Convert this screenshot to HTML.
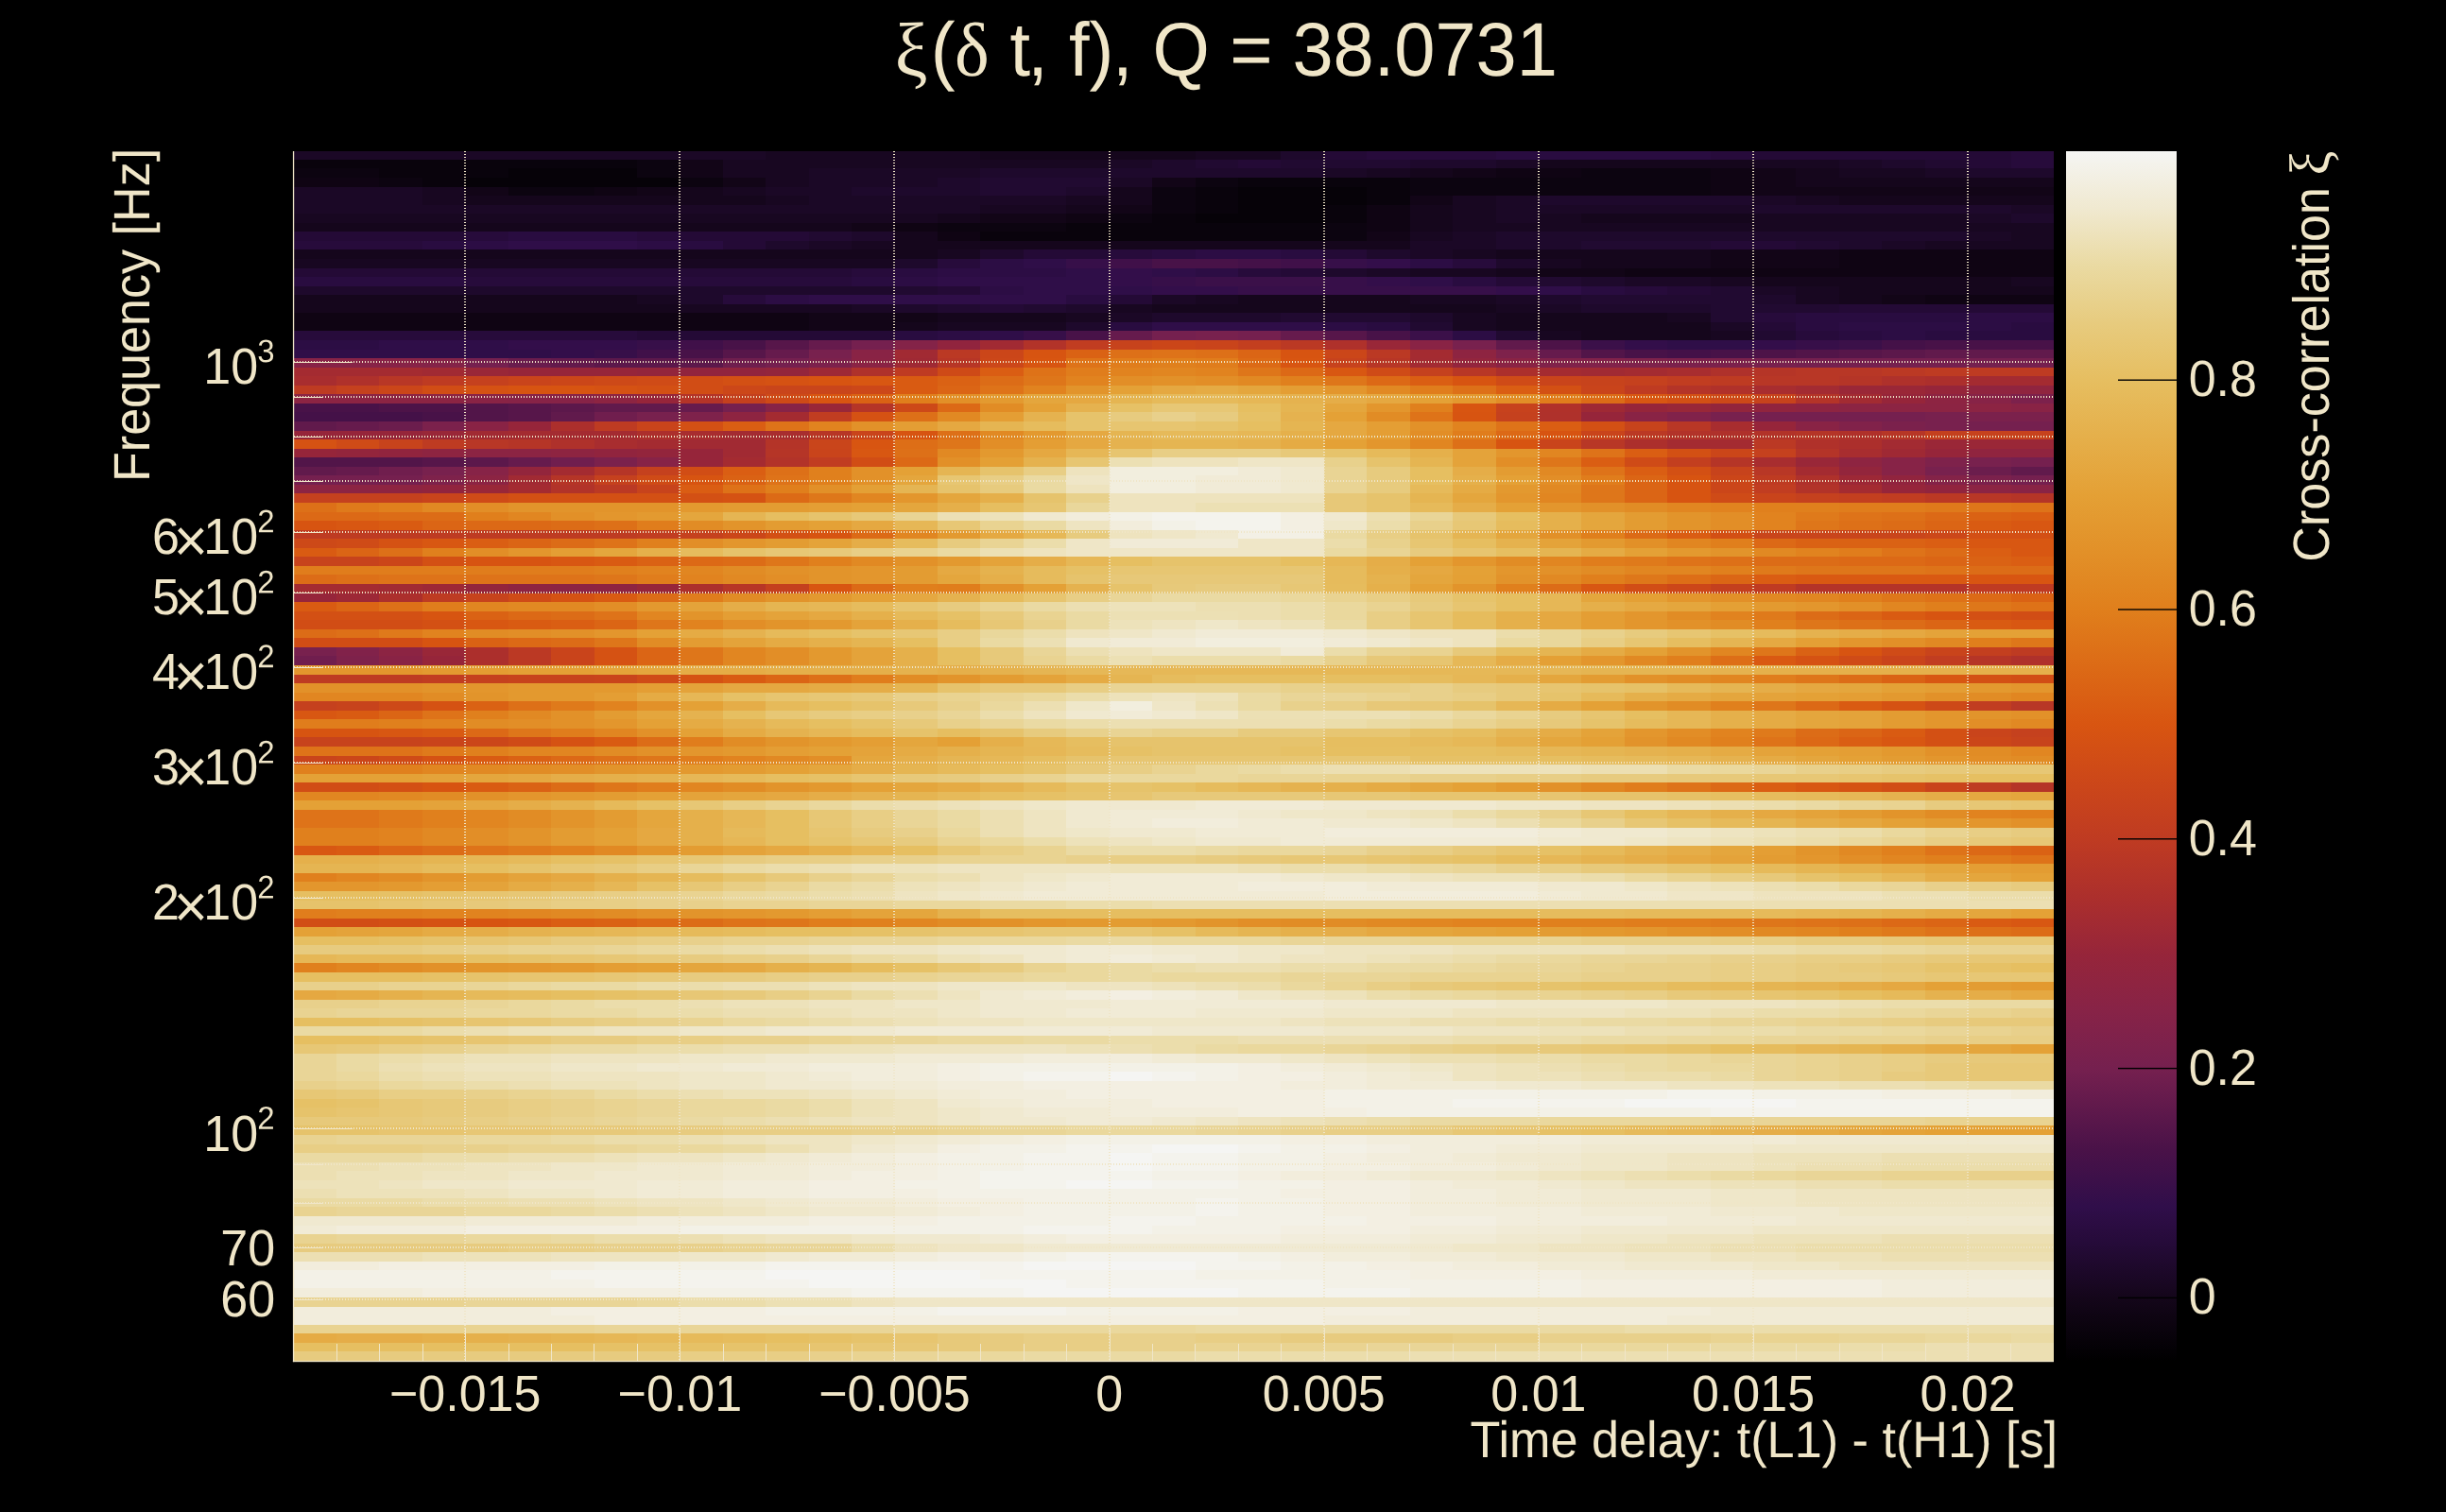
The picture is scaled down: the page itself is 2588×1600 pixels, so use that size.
<!DOCTYPE html><html><head><meta charset="utf-8"><title>xi</title><style>html,body{margin:0;padding:0;background:#000;overflow:hidden;width:2588px;height:1600px}svg{display:block}text{font-family:"Liberation Sans",sans-serif;fill:#f0e6c8;text-rendering:geometricPrecision}.s{font-family:"Liberation Serif",serif}</style></head><body>
<svg width="2588" height="1600" viewBox="0 0 2588 1600">
<rect width="2588" height="1600" fill="#000"/>
<g shape-rendering="crispEdges">
<rect x="310.5" y="160.0" width="500.2" height="10.2" fill="#1b0826"/>
<rect x="810.2" y="160.0" width="227.6" height="10.2" fill="#180721"/>
<rect x="1037.3" y="160.0" width="227.6" height="10.2" fill="#15061c"/>
<rect x="1264.5" y="160.0" width="91.4" height="10.2" fill="#180721"/>
<rect x="1355.3" y="160.0" width="45.9" height="10.2" fill="#1e092c"/>
<rect x="1400.7" y="160.0" width="45.9" height="10.2" fill="#240a36"/>
<rect x="1446.2" y="160.0" width="136.8" height="10.2" fill="#270b3b"/>
<rect x="1582.5" y="160.0" width="227.6" height="10.2" fill="#290c40"/>
<rect x="1809.6" y="160.0" width="45.9" height="10.2" fill="#270b3b"/>
<rect x="1855.0" y="160.0" width="273.1" height="10.2" fill="#240a36"/>
<rect x="2127.6" y="160.0" width="45.4" height="10.2" fill="#270b3b"/>
<rect x="310.5" y="168.9" width="363.9" height="10.2" fill="#09030c"/>
<rect x="673.9" y="168.9" width="45.9" height="10.2" fill="#0c0410"/>
<rect x="719.3" y="168.9" width="45.9" height="10.2" fill="#120517"/>
<rect x="764.8" y="168.9" width="409.3" height="10.2" fill="#180721"/>
<rect x="1173.6" y="168.9" width="45.9" height="10.2" fill="#1b0826"/>
<rect x="1219.0" y="168.9" width="45.9" height="10.2" fill="#1e092c"/>
<rect x="1264.5" y="168.9" width="45.9" height="10.2" fill="#210a31"/>
<rect x="1309.9" y="168.9" width="45.9" height="10.2" fill="#240a36"/>
<rect x="1355.3" y="168.9" width="136.8" height="10.2" fill="#210a31"/>
<rect x="1491.6" y="168.9" width="91.4" height="10.2" fill="#1e092c"/>
<rect x="1582.5" y="168.9" width="45.9" height="10.2" fill="#1b0826"/>
<rect x="1627.9" y="168.9" width="227.6" height="10.2" fill="#15061c"/>
<rect x="1855.0" y="168.9" width="91.4" height="10.2" fill="#180721"/>
<rect x="1945.9" y="168.9" width="45.9" height="10.2" fill="#1b0826"/>
<rect x="1991.3" y="168.9" width="45.9" height="10.2" fill="#1e092c"/>
<rect x="2036.7" y="168.9" width="45.9" height="10.2" fill="#210a31"/>
<rect x="2082.1" y="168.9" width="45.9" height="10.2" fill="#240a36"/>
<rect x="2127.6" y="168.9" width="45.4" height="10.2" fill="#270b3b"/>
<rect x="310.5" y="178.4" width="91.4" height="10.2" fill="#0c0410"/>
<rect x="401.4" y="178.4" width="136.8" height="10.2" fill="#09030c"/>
<rect x="537.6" y="178.4" width="136.8" height="10.2" fill="#060208"/>
<rect x="673.9" y="178.4" width="45.9" height="10.2" fill="#0c0410"/>
<rect x="719.3" y="178.4" width="45.9" height="10.2" fill="#120517"/>
<rect x="764.8" y="178.4" width="91.4" height="10.2" fill="#180721"/>
<rect x="855.6" y="178.4" width="182.2" height="10.2" fill="#1b0826"/>
<rect x="1037.3" y="178.4" width="363.9" height="10.2" fill="#1e092c"/>
<rect x="1400.7" y="178.4" width="45.9" height="10.2" fill="#1b0826"/>
<rect x="1446.2" y="178.4" width="45.9" height="10.2" fill="#180721"/>
<rect x="1491.6" y="178.4" width="45.9" height="10.2" fill="#15061c"/>
<rect x="1537.0" y="178.4" width="45.9" height="10.2" fill="#120517"/>
<rect x="1582.5" y="178.4" width="91.4" height="10.2" fill="#0f0413"/>
<rect x="1673.3" y="178.4" width="136.8" height="10.2" fill="#0c0410"/>
<rect x="1809.6" y="178.4" width="45.9" height="10.2" fill="#0f0413"/>
<rect x="1855.0" y="178.4" width="45.9" height="10.2" fill="#120517"/>
<rect x="1900.4" y="178.4" width="45.9" height="10.2" fill="#15061c"/>
<rect x="1945.9" y="178.4" width="91.4" height="10.2" fill="#180721"/>
<rect x="2036.7" y="178.4" width="45.9" height="10.2" fill="#1b0826"/>
<rect x="2082.1" y="178.4" width="90.9" height="10.2" fill="#1e092c"/>
<rect x="310.5" y="188.0" width="91.4" height="10.2" fill="#0f0413"/>
<rect x="401.4" y="188.0" width="45.9" height="10.2" fill="#0c0410"/>
<rect x="446.8" y="188.0" width="45.9" height="10.2" fill="#09030c"/>
<rect x="492.2" y="188.0" width="227.6" height="10.2" fill="#060208"/>
<rect x="719.3" y="188.0" width="45.9" height="10.2" fill="#0c0410"/>
<rect x="764.8" y="188.0" width="45.9" height="10.2" fill="#120517"/>
<rect x="810.2" y="188.0" width="45.9" height="10.2" fill="#180721"/>
<rect x="855.6" y="188.0" width="136.8" height="10.2" fill="#1b0826"/>
<rect x="991.9" y="188.0" width="45.9" height="10.2" fill="#1e092c"/>
<rect x="1037.3" y="188.0" width="136.8" height="10.2" fill="#210a31"/>
<rect x="1173.6" y="188.0" width="45.9" height="10.2" fill="#1b0826"/>
<rect x="1219.0" y="188.0" width="45.9" height="10.2" fill="#120517"/>
<rect x="1264.5" y="188.0" width="45.9" height="10.2" fill="#0c0410"/>
<rect x="1309.9" y="188.0" width="182.2" height="10.2" fill="#09030c"/>
<rect x="1491.6" y="188.0" width="318.5" height="10.2" fill="#0c0410"/>
<rect x="1809.6" y="188.0" width="45.9" height="10.2" fill="#0f0413"/>
<rect x="1855.0" y="188.0" width="45.9" height="10.2" fill="#120517"/>
<rect x="1900.4" y="188.0" width="272.6" height="10.2" fill="#15061c"/>
<rect x="310.5" y="197.5" width="136.8" height="10.2" fill="#1b0826"/>
<rect x="446.8" y="197.5" width="45.9" height="10.2" fill="#180721"/>
<rect x="492.2" y="197.5" width="45.9" height="10.2" fill="#120517"/>
<rect x="537.6" y="197.5" width="91.4" height="10.2" fill="#0c0410"/>
<rect x="628.5" y="197.5" width="45.9" height="10.2" fill="#0f0413"/>
<rect x="673.9" y="197.5" width="45.9" height="10.2" fill="#120517"/>
<rect x="719.3" y="197.5" width="45.9" height="10.2" fill="#15061c"/>
<rect x="764.8" y="197.5" width="45.9" height="10.2" fill="#180721"/>
<rect x="810.2" y="197.5" width="91.4" height="10.2" fill="#1b0826"/>
<rect x="901.0" y="197.5" width="136.8" height="10.2" fill="#1e092c"/>
<rect x="1037.3" y="197.5" width="91.4" height="10.2" fill="#210a31"/>
<rect x="1128.2" y="197.5" width="45.9" height="10.2" fill="#1e092c"/>
<rect x="1173.6" y="197.5" width="45.9" height="10.2" fill="#15061c"/>
<rect x="1219.0" y="197.5" width="45.9" height="10.2" fill="#0c0410"/>
<rect x="1264.5" y="197.5" width="45.9" height="10.2" fill="#09030c"/>
<rect x="1309.9" y="197.5" width="136.8" height="10.2" fill="#060208"/>
<rect x="1446.2" y="197.5" width="45.9" height="10.2" fill="#09030c"/>
<rect x="1491.6" y="197.5" width="318.5" height="10.2" fill="#0c0410"/>
<rect x="1809.6" y="197.5" width="45.9" height="10.2" fill="#0f0413"/>
<rect x="1855.0" y="197.5" width="318.0" height="10.2" fill="#120517"/>
<rect x="310.5" y="207.1" width="136.8" height="10.2" fill="#1b0826"/>
<rect x="446.8" y="207.1" width="45.9" height="10.2" fill="#180721"/>
<rect x="492.2" y="207.1" width="318.5" height="10.2" fill="#15061c"/>
<rect x="810.2" y="207.1" width="45.9" height="10.2" fill="#180721"/>
<rect x="855.6" y="207.1" width="273.1" height="10.2" fill="#1b0826"/>
<rect x="1128.2" y="207.1" width="45.9" height="10.2" fill="#180721"/>
<rect x="1173.6" y="207.1" width="45.9" height="10.2" fill="#15061c"/>
<rect x="1219.0" y="207.1" width="45.9" height="10.2" fill="#0c0410"/>
<rect x="1264.5" y="207.1" width="45.9" height="10.2" fill="#09030c"/>
<rect x="1309.9" y="207.1" width="136.8" height="10.2" fill="#060208"/>
<rect x="1446.2" y="207.1" width="45.9" height="10.2" fill="#09030c"/>
<rect x="1491.6" y="207.1" width="45.9" height="10.2" fill="#120517"/>
<rect x="1537.0" y="207.1" width="45.9" height="10.2" fill="#180721"/>
<rect x="1582.5" y="207.1" width="45.9" height="10.2" fill="#1b0826"/>
<rect x="1627.9" y="207.1" width="227.6" height="10.2" fill="#1e092c"/>
<rect x="1855.0" y="207.1" width="45.9" height="10.2" fill="#1b0826"/>
<rect x="1900.4" y="207.1" width="45.9" height="10.2" fill="#180721"/>
<rect x="1945.9" y="207.1" width="227.1" height="10.2" fill="#15061c"/>
<rect x="310.5" y="216.6" width="727.3" height="10.2" fill="#1b0826"/>
<rect x="1037.3" y="216.6" width="91.4" height="10.2" fill="#180721"/>
<rect x="1128.2" y="216.6" width="45.9" height="10.2" fill="#15061c"/>
<rect x="1173.6" y="216.6" width="45.9" height="10.2" fill="#120517"/>
<rect x="1219.0" y="216.6" width="45.9" height="10.2" fill="#0c0410"/>
<rect x="1264.5" y="216.6" width="45.9" height="10.2" fill="#09030c"/>
<rect x="1309.9" y="216.6" width="91.4" height="10.2" fill="#060208"/>
<rect x="1400.7" y="216.6" width="45.9" height="10.2" fill="#09030c"/>
<rect x="1446.2" y="216.6" width="45.9" height="10.2" fill="#0f0413"/>
<rect x="1491.6" y="216.6" width="45.9" height="10.2" fill="#15061c"/>
<rect x="1537.0" y="216.6" width="45.9" height="10.2" fill="#180721"/>
<rect x="1582.5" y="216.6" width="273.1" height="10.2" fill="#1b0826"/>
<rect x="1855.0" y="216.6" width="273.1" height="10.2" fill="#1e092c"/>
<rect x="2127.6" y="216.6" width="45.4" height="10.2" fill="#1b0826"/>
<rect x="310.5" y="226.2" width="681.9" height="10.2" fill="#180721"/>
<rect x="991.9" y="226.2" width="45.9" height="10.2" fill="#15061c"/>
<rect x="1037.3" y="226.2" width="91.4" height="10.2" fill="#120517"/>
<rect x="1128.2" y="226.2" width="45.9" height="10.2" fill="#0f0413"/>
<rect x="1173.6" y="226.2" width="45.9" height="10.2" fill="#0c0410"/>
<rect x="1219.0" y="226.2" width="45.9" height="10.2" fill="#09030c"/>
<rect x="1264.5" y="226.2" width="136.8" height="10.2" fill="#060208"/>
<rect x="1400.7" y="226.2" width="45.9" height="10.2" fill="#09030c"/>
<rect x="1446.2" y="226.2" width="45.9" height="10.2" fill="#0f0413"/>
<rect x="1491.6" y="226.2" width="45.9" height="10.2" fill="#15061c"/>
<rect x="1537.0" y="226.2" width="45.9" height="10.2" fill="#180721"/>
<rect x="1582.5" y="226.2" width="45.9" height="10.2" fill="#1b0826"/>
<rect x="1627.9" y="226.2" width="45.9" height="10.2" fill="#180721"/>
<rect x="1673.3" y="226.2" width="182.2" height="10.2" fill="#15061c"/>
<rect x="1855.0" y="226.2" width="227.6" height="10.2" fill="#180721"/>
<rect x="2082.1" y="226.2" width="45.9" height="10.2" fill="#1b0826"/>
<rect x="2127.6" y="226.2" width="45.4" height="10.2" fill="#1e092c"/>
<rect x="310.5" y="235.8" width="591.0" height="10.2" fill="#15061c"/>
<rect x="901.0" y="235.8" width="45.9" height="10.2" fill="#120517"/>
<rect x="946.5" y="235.8" width="45.9" height="10.2" fill="#0f0413"/>
<rect x="991.9" y="235.8" width="136.8" height="10.2" fill="#0c0410"/>
<rect x="1128.2" y="235.8" width="273.1" height="10.2" fill="#09030c"/>
<rect x="1400.7" y="235.8" width="45.9" height="10.2" fill="#0c0410"/>
<rect x="1446.2" y="235.8" width="45.9" height="10.2" fill="#0f0413"/>
<rect x="1491.6" y="235.8" width="45.9" height="10.2" fill="#15061c"/>
<rect x="1537.0" y="235.8" width="636.0" height="10.2" fill="#180721"/>
<rect x="310.5" y="245.3" width="182.2" height="10.2" fill="#240a36"/>
<rect x="492.2" y="245.3" width="45.9" height="10.2" fill="#270b3b"/>
<rect x="537.6" y="245.3" width="136.8" height="10.2" fill="#290c40"/>
<rect x="673.9" y="245.3" width="45.9" height="10.2" fill="#270b3b"/>
<rect x="719.3" y="245.3" width="136.8" height="10.2" fill="#240a36"/>
<rect x="855.6" y="245.3" width="45.9" height="10.2" fill="#210a31"/>
<rect x="901.0" y="245.3" width="45.9" height="10.2" fill="#1e092c"/>
<rect x="946.5" y="245.3" width="45.9" height="10.2" fill="#15061c"/>
<rect x="991.9" y="245.3" width="45.9" height="10.2" fill="#0f0413"/>
<rect x="1037.3" y="245.3" width="363.9" height="10.2" fill="#09030c"/>
<rect x="1400.7" y="245.3" width="45.9" height="10.2" fill="#0c0410"/>
<rect x="1446.2" y="245.3" width="45.9" height="10.2" fill="#120517"/>
<rect x="1491.6" y="245.3" width="45.9" height="10.2" fill="#180721"/>
<rect x="1537.0" y="245.3" width="45.9" height="10.2" fill="#1b0826"/>
<rect x="1582.5" y="245.3" width="500.2" height="10.2" fill="#1e092c"/>
<rect x="2082.1" y="245.3" width="45.9" height="10.2" fill="#1b0826"/>
<rect x="2127.6" y="245.3" width="45.4" height="10.2" fill="#180721"/>
<rect x="310.5" y="254.9" width="136.8" height="10.2" fill="#270b3b"/>
<rect x="446.8" y="254.9" width="45.9" height="10.2" fill="#290c40"/>
<rect x="492.2" y="254.9" width="45.9" height="10.2" fill="#2c0d44"/>
<rect x="537.6" y="254.9" width="136.8" height="10.2" fill="#2f0e48"/>
<rect x="673.9" y="254.9" width="45.9" height="10.2" fill="#2c0d44"/>
<rect x="719.3" y="254.9" width="45.9" height="10.2" fill="#290c40"/>
<rect x="764.8" y="254.9" width="45.9" height="10.2" fill="#240a36"/>
<rect x="810.2" y="254.9" width="45.9" height="10.2" fill="#1e092c"/>
<rect x="855.6" y="254.9" width="45.9" height="10.2" fill="#1b0826"/>
<rect x="901.0" y="254.9" width="45.9" height="10.2" fill="#180721"/>
<rect x="946.5" y="254.9" width="545.6" height="10.2" fill="#15061c"/>
<rect x="1491.6" y="254.9" width="91.4" height="10.2" fill="#1b0826"/>
<rect x="1582.5" y="254.9" width="91.4" height="10.2" fill="#1e092c"/>
<rect x="1673.3" y="254.9" width="136.8" height="10.2" fill="#210a31"/>
<rect x="1809.6" y="254.9" width="91.4" height="10.2" fill="#240a36"/>
<rect x="1900.4" y="254.9" width="45.9" height="10.2" fill="#210a31"/>
<rect x="1945.9" y="254.9" width="45.9" height="10.2" fill="#1e092c"/>
<rect x="1991.3" y="254.9" width="45.9" height="10.2" fill="#1b0826"/>
<rect x="2036.7" y="254.9" width="136.3" height="10.2" fill="#180721"/>
<rect x="310.5" y="264.4" width="681.9" height="10.2" fill="#15061c"/>
<rect x="991.9" y="264.4" width="45.9" height="10.2" fill="#180721"/>
<rect x="1037.3" y="264.4" width="45.9" height="10.2" fill="#1e092c"/>
<rect x="1082.8" y="264.4" width="91.4" height="10.2" fill="#240a36"/>
<rect x="1173.6" y="264.4" width="45.9" height="10.2" fill="#270b3b"/>
<rect x="1219.0" y="264.4" width="45.9" height="10.2" fill="#290c40"/>
<rect x="1264.5" y="264.4" width="91.4" height="10.2" fill="#2c0d44"/>
<rect x="1355.3" y="264.4" width="45.9" height="10.2" fill="#290c40"/>
<rect x="1400.7" y="264.4" width="45.9" height="10.2" fill="#240a36"/>
<rect x="1446.2" y="264.4" width="45.9" height="10.2" fill="#1e092c"/>
<rect x="1491.6" y="264.4" width="45.9" height="10.2" fill="#1b0826"/>
<rect x="1537.0" y="264.4" width="45.9" height="10.2" fill="#180721"/>
<rect x="1582.5" y="264.4" width="227.6" height="10.2" fill="#15061c"/>
<rect x="1809.6" y="264.4" width="136.8" height="10.2" fill="#120517"/>
<rect x="1945.9" y="264.4" width="227.1" height="10.2" fill="#0f0413"/>
<rect x="310.5" y="274.0" width="636.5" height="10.2" fill="#180721"/>
<rect x="946.5" y="274.0" width="45.9" height="10.2" fill="#1e092c"/>
<rect x="991.9" y="274.0" width="45.9" height="10.2" fill="#270b3b"/>
<rect x="1037.3" y="274.0" width="45.9" height="10.2" fill="#2c0d44"/>
<rect x="1082.8" y="274.0" width="45.9" height="10.2" fill="#2f0e48"/>
<rect x="1128.2" y="274.0" width="45.9" height="10.2" fill="#370f49"/>
<rect x="1173.6" y="274.0" width="45.9" height="10.2" fill="#401049"/>
<rect x="1219.0" y="274.0" width="91.4" height="10.2" fill="#481248"/>
<rect x="1309.9" y="274.0" width="45.9" height="10.2" fill="#441148"/>
<rect x="1355.3" y="274.0" width="45.9" height="10.2" fill="#401049"/>
<rect x="1400.7" y="274.0" width="45.9" height="10.2" fill="#370f49"/>
<rect x="1446.2" y="274.0" width="45.9" height="10.2" fill="#330e4a"/>
<rect x="1491.6" y="274.0" width="45.9" height="10.2" fill="#2c0d44"/>
<rect x="1537.0" y="274.0" width="45.9" height="10.2" fill="#270b3b"/>
<rect x="1582.5" y="274.0" width="45.9" height="10.2" fill="#1e092c"/>
<rect x="1627.9" y="274.0" width="45.9" height="10.2" fill="#180721"/>
<rect x="1673.3" y="274.0" width="136.8" height="10.2" fill="#15061c"/>
<rect x="1809.6" y="274.0" width="136.8" height="10.2" fill="#120517"/>
<rect x="1945.9" y="274.0" width="227.1" height="10.2" fill="#0f0413"/>
<rect x="310.5" y="283.5" width="591.0" height="10.2" fill="#240a36"/>
<rect x="901.0" y="283.5" width="45.9" height="10.2" fill="#270b3b"/>
<rect x="946.5" y="283.5" width="45.9" height="10.2" fill="#290c40"/>
<rect x="991.9" y="283.5" width="136.8" height="10.2" fill="#2c0d44"/>
<rect x="1128.2" y="283.5" width="45.9" height="10.2" fill="#2f0e48"/>
<rect x="1173.6" y="283.5" width="45.9" height="10.2" fill="#330e4a"/>
<rect x="1219.0" y="283.5" width="45.9" height="10.2" fill="#2f0e48"/>
<rect x="1264.5" y="283.5" width="45.9" height="10.2" fill="#2c0d44"/>
<rect x="1309.9" y="283.5" width="45.9" height="10.2" fill="#270b3b"/>
<rect x="1355.3" y="283.5" width="45.9" height="10.2" fill="#240a36"/>
<rect x="1400.7" y="283.5" width="45.9" height="10.2" fill="#1e092c"/>
<rect x="1446.2" y="283.5" width="45.9" height="10.2" fill="#1b0826"/>
<rect x="1491.6" y="283.5" width="91.4" height="10.2" fill="#180721"/>
<rect x="1582.5" y="283.5" width="45.9" height="10.2" fill="#15061c"/>
<rect x="1627.9" y="283.5" width="91.4" height="10.2" fill="#120517"/>
<rect x="1718.7" y="283.5" width="454.3" height="10.2" fill="#0f0413"/>
<rect x="310.5" y="293.1" width="182.2" height="10.2" fill="#290c40"/>
<rect x="492.2" y="293.1" width="409.3" height="10.2" fill="#270b3b"/>
<rect x="901.0" y="293.1" width="45.9" height="10.2" fill="#290c40"/>
<rect x="946.5" y="293.1" width="45.9" height="10.2" fill="#2c0d44"/>
<rect x="991.9" y="293.1" width="182.2" height="10.2" fill="#2f0e48"/>
<rect x="1173.6" y="293.1" width="45.9" height="10.2" fill="#330e4a"/>
<rect x="1219.0" y="293.1" width="45.9" height="10.2" fill="#370f49"/>
<rect x="1264.5" y="293.1" width="136.8" height="10.2" fill="#3b1049"/>
<rect x="1400.7" y="293.1" width="45.9" height="10.2" fill="#370f49"/>
<rect x="1446.2" y="293.1" width="45.9" height="10.2" fill="#330e4a"/>
<rect x="1491.6" y="293.1" width="45.9" height="10.2" fill="#2f0e48"/>
<rect x="1537.0" y="293.1" width="45.9" height="10.2" fill="#290c40"/>
<rect x="1582.5" y="293.1" width="45.9" height="10.2" fill="#240a36"/>
<rect x="1627.9" y="293.1" width="45.9" height="10.2" fill="#210a31"/>
<rect x="1673.3" y="293.1" width="45.9" height="10.2" fill="#1e092c"/>
<rect x="1718.7" y="293.1" width="91.4" height="10.2" fill="#1b0826"/>
<rect x="1809.6" y="293.1" width="45.9" height="10.2" fill="#180721"/>
<rect x="1855.0" y="293.1" width="273.1" height="10.2" fill="#15061c"/>
<rect x="2127.6" y="293.1" width="45.4" height="10.2" fill="#180721"/>
<rect x="310.5" y="302.6" width="636.5" height="10.2" fill="#1e092c"/>
<rect x="946.5" y="302.6" width="45.9" height="10.2" fill="#210a31"/>
<rect x="991.9" y="302.6" width="45.9" height="10.2" fill="#240a36"/>
<rect x="1037.3" y="302.6" width="45.9" height="10.2" fill="#2c0d44"/>
<rect x="1082.8" y="302.6" width="136.8" height="10.2" fill="#2f0e48"/>
<rect x="1219.0" y="302.6" width="91.4" height="10.2" fill="#330e4a"/>
<rect x="1309.9" y="302.6" width="273.1" height="10.2" fill="#370f49"/>
<rect x="1582.5" y="302.6" width="45.9" height="10.2" fill="#330e4a"/>
<rect x="1627.9" y="302.6" width="45.9" height="10.2" fill="#2f0e48"/>
<rect x="1673.3" y="302.6" width="45.9" height="10.2" fill="#290c40"/>
<rect x="1718.7" y="302.6" width="45.9" height="10.2" fill="#270b3b"/>
<rect x="1764.2" y="302.6" width="45.9" height="10.2" fill="#240a36"/>
<rect x="1809.6" y="302.6" width="45.9" height="10.2" fill="#210a31"/>
<rect x="1855.0" y="302.6" width="45.9" height="10.2" fill="#1b0826"/>
<rect x="1900.4" y="302.6" width="45.9" height="10.2" fill="#180721"/>
<rect x="1945.9" y="302.6" width="227.1" height="10.2" fill="#15061c"/>
<rect x="310.5" y="312.2" width="363.9" height="10.2" fill="#15061c"/>
<rect x="673.9" y="312.2" width="45.9" height="10.2" fill="#180721"/>
<rect x="719.3" y="312.2" width="45.9" height="10.2" fill="#1e092c"/>
<rect x="764.8" y="312.2" width="45.9" height="10.2" fill="#270b3b"/>
<rect x="810.2" y="312.2" width="45.9" height="10.2" fill="#2c0d44"/>
<rect x="855.6" y="312.2" width="273.1" height="10.2" fill="#2f0e48"/>
<rect x="1128.2" y="312.2" width="45.9" height="10.2" fill="#290c40"/>
<rect x="1173.6" y="312.2" width="45.9" height="10.2" fill="#240a36"/>
<rect x="1219.0" y="312.2" width="45.9" height="10.2" fill="#1b0826"/>
<rect x="1264.5" y="312.2" width="45.9" height="10.2" fill="#180721"/>
<rect x="1309.9" y="312.2" width="182.2" height="10.2" fill="#15061c"/>
<rect x="1491.6" y="312.2" width="91.4" height="10.2" fill="#180721"/>
<rect x="1582.5" y="312.2" width="45.9" height="10.2" fill="#1b0826"/>
<rect x="1627.9" y="312.2" width="45.9" height="10.2" fill="#1e092c"/>
<rect x="1673.3" y="312.2" width="182.2" height="10.2" fill="#210a31"/>
<rect x="1855.0" y="312.2" width="45.9" height="10.2" fill="#1e092c"/>
<rect x="1900.4" y="312.2" width="45.9" height="10.2" fill="#180721"/>
<rect x="1945.9" y="312.2" width="45.9" height="10.2" fill="#15061c"/>
<rect x="1991.3" y="312.2" width="45.9" height="10.2" fill="#120517"/>
<rect x="2036.7" y="312.2" width="136.3" height="10.2" fill="#0f0413"/>
<rect x="310.5" y="321.8" width="409.3" height="10.2" fill="#15061c"/>
<rect x="719.3" y="321.8" width="182.2" height="10.2" fill="#180721"/>
<rect x="901.0" y="321.8" width="45.9" height="10.2" fill="#1b0826"/>
<rect x="946.5" y="321.8" width="45.9" height="10.2" fill="#1e092c"/>
<rect x="991.9" y="321.8" width="45.9" height="10.2" fill="#210a31"/>
<rect x="1037.3" y="321.8" width="45.9" height="10.2" fill="#240a36"/>
<rect x="1082.8" y="321.8" width="45.9" height="10.2" fill="#210a31"/>
<rect x="1128.2" y="321.8" width="45.9" height="10.2" fill="#1e092c"/>
<rect x="1173.6" y="321.8" width="45.9" height="10.2" fill="#180721"/>
<rect x="1219.0" y="321.8" width="363.9" height="10.2" fill="#15061c"/>
<rect x="1582.5" y="321.8" width="45.9" height="10.2" fill="#180721"/>
<rect x="1627.9" y="321.8" width="45.9" height="10.2" fill="#1b0826"/>
<rect x="1673.3" y="321.8" width="136.8" height="10.2" fill="#1e092c"/>
<rect x="1809.6" y="321.8" width="136.8" height="10.2" fill="#210a31"/>
<rect x="1945.9" y="321.8" width="227.1" height="10.2" fill="#240a36"/>
<rect x="310.5" y="331.3" width="545.6" height="10.2" fill="#0f0413"/>
<rect x="855.6" y="331.3" width="136.8" height="10.2" fill="#120517"/>
<rect x="991.9" y="331.3" width="136.8" height="10.2" fill="#15061c"/>
<rect x="1128.2" y="331.3" width="45.9" height="10.2" fill="#180721"/>
<rect x="1173.6" y="331.3" width="45.9" height="10.2" fill="#1b0826"/>
<rect x="1219.0" y="331.3" width="136.8" height="10.2" fill="#1e092c"/>
<rect x="1355.3" y="331.3" width="136.8" height="10.2" fill="#210a31"/>
<rect x="1491.6" y="331.3" width="45.9" height="10.2" fill="#1e092c"/>
<rect x="1537.0" y="331.3" width="45.9" height="10.2" fill="#180721"/>
<rect x="1582.5" y="331.3" width="182.2" height="10.2" fill="#15061c"/>
<rect x="1764.2" y="331.3" width="45.9" height="10.2" fill="#180721"/>
<rect x="1809.6" y="331.3" width="45.9" height="10.2" fill="#210a31"/>
<rect x="1855.0" y="331.3" width="45.9" height="10.2" fill="#270b3b"/>
<rect x="1900.4" y="331.3" width="182.2" height="10.2" fill="#290c40"/>
<rect x="2082.1" y="331.3" width="90.9" height="10.2" fill="#2c0d44"/>
<rect x="310.5" y="340.9" width="545.6" height="10.2" fill="#0f0413"/>
<rect x="855.6" y="340.9" width="91.4" height="10.2" fill="#120517"/>
<rect x="946.5" y="340.9" width="45.9" height="10.2" fill="#15061c"/>
<rect x="991.9" y="340.9" width="136.8" height="10.2" fill="#180721"/>
<rect x="1128.2" y="340.9" width="45.9" height="10.2" fill="#1e092c"/>
<rect x="1173.6" y="340.9" width="45.9" height="10.2" fill="#290c40"/>
<rect x="1219.0" y="340.9" width="182.2" height="10.2" fill="#2f0e48"/>
<rect x="1400.7" y="340.9" width="45.9" height="10.2" fill="#2c0d44"/>
<rect x="1446.2" y="340.9" width="45.9" height="10.2" fill="#290c40"/>
<rect x="1491.6" y="340.9" width="45.9" height="10.2" fill="#210a31"/>
<rect x="1537.0" y="340.9" width="45.9" height="10.2" fill="#180721"/>
<rect x="1582.5" y="340.9" width="227.6" height="10.2" fill="#15061c"/>
<rect x="1809.6" y="340.9" width="45.9" height="10.2" fill="#1b0826"/>
<rect x="1855.0" y="340.9" width="45.9" height="10.2" fill="#240a36"/>
<rect x="1900.4" y="340.9" width="45.9" height="10.2" fill="#290c40"/>
<rect x="1945.9" y="340.9" width="182.2" height="10.2" fill="#2c0d44"/>
<rect x="2127.6" y="340.9" width="45.4" height="10.2" fill="#290c40"/>
<rect x="310.5" y="350.4" width="363.9" height="10.2" fill="#270b3b"/>
<rect x="673.9" y="350.4" width="273.1" height="10.2" fill="#240a36"/>
<rect x="946.5" y="350.4" width="45.9" height="10.2" fill="#290c40"/>
<rect x="991.9" y="350.4" width="45.9" height="10.2" fill="#2c0d44"/>
<rect x="1037.3" y="350.4" width="45.9" height="10.2" fill="#2f0e48"/>
<rect x="1082.8" y="350.4" width="45.9" height="10.2" fill="#370f49"/>
<rect x="1128.2" y="350.4" width="45.9" height="10.2" fill="#481248"/>
<rect x="1173.6" y="350.4" width="45.9" height="10.2" fill="#661b4d"/>
<rect x="1219.0" y="350.4" width="45.9" height="10.2" fill="#75204f"/>
<rect x="1264.5" y="350.4" width="45.9" height="10.2" fill="#78214e"/>
<rect x="1309.9" y="350.4" width="45.9" height="10.2" fill="#75204f"/>
<rect x="1355.3" y="350.4" width="45.9" height="10.2" fill="#661b4d"/>
<rect x="1400.7" y="350.4" width="45.9" height="10.2" fill="#57164a"/>
<rect x="1446.2" y="350.4" width="45.9" height="10.2" fill="#481248"/>
<rect x="1491.6" y="350.4" width="45.9" height="10.2" fill="#3b1049"/>
<rect x="1537.0" y="350.4" width="45.9" height="10.2" fill="#2c0d44"/>
<rect x="1582.5" y="350.4" width="45.9" height="10.2" fill="#210a31"/>
<rect x="1627.9" y="350.4" width="45.9" height="10.2" fill="#180721"/>
<rect x="1673.3" y="350.4" width="136.8" height="10.2" fill="#15061c"/>
<rect x="1809.6" y="350.4" width="45.9" height="10.2" fill="#180721"/>
<rect x="1855.0" y="350.4" width="45.9" height="10.2" fill="#210a31"/>
<rect x="1900.4" y="350.4" width="45.9" height="10.2" fill="#270b3b"/>
<rect x="1945.9" y="350.4" width="45.9" height="10.2" fill="#290c40"/>
<rect x="1991.3" y="350.4" width="45.9" height="10.2" fill="#2c0d44"/>
<rect x="2036.7" y="350.4" width="136.3" height="10.2" fill="#290c40"/>
<rect x="310.5" y="360.0" width="91.4" height="10.2" fill="#2c0d44"/>
<rect x="401.4" y="360.0" width="136.8" height="10.2" fill="#2f0e48"/>
<rect x="537.6" y="360.0" width="136.8" height="10.2" fill="#330e4a"/>
<rect x="673.9" y="360.0" width="45.9" height="10.2" fill="#370f49"/>
<rect x="719.3" y="360.0" width="45.9" height="10.2" fill="#401049"/>
<rect x="764.8" y="360.0" width="45.9" height="10.2" fill="#481248"/>
<rect x="810.2" y="360.0" width="45.9" height="10.2" fill="#57164a"/>
<rect x="855.6" y="360.0" width="45.9" height="10.2" fill="#661b4d"/>
<rect x="901.0" y="360.0" width="45.9" height="10.2" fill="#75204f"/>
<rect x="946.5" y="360.0" width="45.9" height="10.2" fill="#842348"/>
<rect x="991.9" y="360.0" width="45.9" height="10.2" fill="#91243e"/>
<rect x="1037.3" y="360.0" width="45.9" height="10.2" fill="#a12a33"/>
<rect x="1082.8" y="360.0" width="45.9" height="10.2" fill="#b23329"/>
<rect x="1128.2" y="360.0" width="45.9" height="10.2" fill="#c13d21"/>
<rect x="1173.6" y="360.0" width="45.9" height="10.2" fill="#c7431c"/>
<rect x="1219.0" y="360.0" width="45.9" height="10.2" fill="#cb4619"/>
<rect x="1264.5" y="360.0" width="45.9" height="10.2" fill="#c9441b"/>
<rect x="1309.9" y="360.0" width="45.9" height="10.2" fill="#c33f1f"/>
<rect x="1355.3" y="360.0" width="45.9" height="10.2" fill="#bb3924"/>
<rect x="1400.7" y="360.0" width="45.9" height="10.2" fill="#af312b"/>
<rect x="1446.2" y="360.0" width="45.9" height="10.2" fill="#992738"/>
<rect x="1491.6" y="360.0" width="45.9" height="10.2" fill="#892345"/>
<rect x="1537.0" y="360.0" width="45.9" height="10.2" fill="#78214e"/>
<rect x="1582.5" y="360.0" width="45.9" height="10.2" fill="#611a4c"/>
<rect x="1627.9" y="360.0" width="45.9" height="10.2" fill="#4d1348"/>
<rect x="1673.3" y="360.0" width="45.9" height="10.2" fill="#3b1049"/>
<rect x="1718.7" y="360.0" width="45.9" height="10.2" fill="#330e4a"/>
<rect x="1764.2" y="360.0" width="91.4" height="10.2" fill="#2f0e48"/>
<rect x="1855.0" y="360.0" width="45.9" height="10.2" fill="#330e4a"/>
<rect x="1900.4" y="360.0" width="45.9" height="10.2" fill="#370f49"/>
<rect x="1945.9" y="360.0" width="45.9" height="10.2" fill="#3b1049"/>
<rect x="1991.3" y="360.0" width="45.9" height="10.2" fill="#441148"/>
<rect x="2036.7" y="360.0" width="136.3" height="10.2" fill="#481248"/>
<rect x="310.5" y="369.5" width="273.1" height="10.2" fill="#2f0e48"/>
<rect x="583.1" y="369.5" width="45.9" height="10.2" fill="#330e4a"/>
<rect x="628.5" y="369.5" width="45.9" height="10.2" fill="#370f49"/>
<rect x="673.9" y="369.5" width="45.9" height="10.2" fill="#401049"/>
<rect x="719.3" y="369.5" width="45.9" height="10.2" fill="#481248"/>
<rect x="764.8" y="369.5" width="45.9" height="10.2" fill="#57164a"/>
<rect x="810.2" y="369.5" width="45.9" height="10.2" fill="#661b4d"/>
<rect x="855.6" y="369.5" width="45.9" height="10.2" fill="#78214e"/>
<rect x="901.0" y="369.5" width="45.9" height="10.2" fill="#892345"/>
<rect x="946.5" y="369.5" width="45.9" height="10.2" fill="#a12a33"/>
<rect x="991.9" y="369.5" width="45.9" height="10.2" fill="#bb3924"/>
<rect x="1037.3" y="369.5" width="45.9" height="10.2" fill="#cb4619"/>
<rect x="1082.8" y="369.5" width="45.9" height="10.2" fill="#d75411"/>
<rect x="1128.2" y="369.5" width="45.9" height="10.2" fill="#da6214"/>
<rect x="1173.6" y="369.5" width="45.9" height="10.2" fill="#dd7018"/>
<rect x="1219.0" y="369.5" width="45.9" height="10.2" fill="#de7319"/>
<rect x="1264.5" y="369.5" width="45.9" height="10.2" fill="#dd7018"/>
<rect x="1309.9" y="369.5" width="45.9" height="10.2" fill="#db6515"/>
<rect x="1355.3" y="369.5" width="45.9" height="10.2" fill="#d75411"/>
<rect x="1400.7" y="369.5" width="45.9" height="10.2" fill="#cb4619"/>
<rect x="1446.2" y="369.5" width="45.9" height="10.2" fill="#bb3924"/>
<rect x="1491.6" y="369.5" width="45.9" height="10.2" fill="#a42b31"/>
<rect x="1537.0" y="369.5" width="45.9" height="10.2" fill="#8e2441"/>
<rect x="1582.5" y="369.5" width="45.9" height="10.2" fill="#7e224b"/>
<rect x="1627.9" y="369.5" width="45.9" height="10.2" fill="#661b4d"/>
<rect x="1673.3" y="369.5" width="45.9" height="10.2" fill="#521549"/>
<rect x="1718.7" y="369.5" width="45.9" height="10.2" fill="#481248"/>
<rect x="1764.2" y="369.5" width="45.9" height="10.2" fill="#441148"/>
<rect x="1809.6" y="369.5" width="45.9" height="10.2" fill="#481248"/>
<rect x="1855.0" y="369.5" width="45.9" height="10.2" fill="#4d1348"/>
<rect x="1900.4" y="369.5" width="45.9" height="10.2" fill="#521549"/>
<rect x="1945.9" y="369.5" width="45.9" height="10.2" fill="#57164a"/>
<rect x="1991.3" y="369.5" width="45.9" height="10.2" fill="#5c184b"/>
<rect x="2036.7" y="369.5" width="136.3" height="10.2" fill="#611a4c"/>
<rect x="310.5" y="379.1" width="136.8" height="10.2" fill="#872347"/>
<rect x="446.8" y="379.1" width="45.9" height="10.2" fill="#842348"/>
<rect x="492.2" y="379.1" width="45.9" height="10.2" fill="#75204f"/>
<rect x="537.6" y="379.1" width="45.9" height="10.2" fill="#691c4d"/>
<rect x="583.1" y="379.1" width="45.9" height="10.2" fill="#631a4c"/>
<rect x="628.5" y="379.1" width="136.8" height="10.2" fill="#5c184b"/>
<rect x="764.8" y="379.1" width="45.9" height="10.2" fill="#6f1e4e"/>
<rect x="810.2" y="379.1" width="45.9" height="10.2" fill="#75204f"/>
<rect x="855.6" y="379.1" width="45.9" height="10.2" fill="#7c214c"/>
<rect x="901.0" y="379.1" width="45.9" height="10.2" fill="#8a2344"/>
<rect x="946.5" y="379.1" width="45.9" height="10.2" fill="#9f2934"/>
<rect x="991.9" y="379.1" width="45.9" height="10.2" fill="#b73626"/>
<rect x="1037.3" y="379.1" width="45.9" height="10.2" fill="#cc4719"/>
<rect x="1082.8" y="379.1" width="45.9" height="10.2" fill="#d85511"/>
<rect x="1128.2" y="379.1" width="45.9" height="10.2" fill="#de7319"/>
<rect x="1173.6" y="379.1" width="45.9" height="10.2" fill="#e07d1c"/>
<rect x="1219.0" y="379.1" width="45.9" height="10.2" fill="#e0801d"/>
<rect x="1264.5" y="379.1" width="45.9" height="10.2" fill="#e07d1c"/>
<rect x="1309.9" y="379.1" width="45.9" height="10.2" fill="#dc6a16"/>
<rect x="1355.3" y="379.1" width="45.9" height="10.2" fill="#d85511"/>
<rect x="1400.7" y="379.1" width="45.9" height="10.2" fill="#c7421d"/>
<rect x="1446.2" y="379.1" width="45.9" height="10.2" fill="#b73626"/>
<rect x="1491.6" y="379.1" width="45.9" height="10.2" fill="#a32b32"/>
<rect x="1537.0" y="379.1" width="45.9" height="10.2" fill="#93253d"/>
<rect x="1582.5" y="379.1" width="45.9" height="10.2" fill="#8a2344"/>
<rect x="1627.9" y="379.1" width="45.9" height="10.2" fill="#80224a"/>
<rect x="1673.3" y="379.1" width="45.9" height="10.2" fill="#81224a"/>
<rect x="1718.7" y="379.1" width="45.9" height="10.2" fill="#7e224b"/>
<rect x="1764.2" y="379.1" width="91.4" height="10.2" fill="#7b214c"/>
<rect x="1855.0" y="379.1" width="45.9" height="10.2" fill="#78214e"/>
<rect x="1900.4" y="379.1" width="272.6" height="10.2" fill="#75204f"/>
<rect x="310.5" y="388.6" width="136.8" height="10.2" fill="#a42b31"/>
<rect x="446.8" y="388.6" width="45.9" height="10.2" fill="#a12a33"/>
<rect x="492.2" y="388.6" width="45.9" height="10.2" fill="#992738"/>
<rect x="537.6" y="388.6" width="136.8" height="10.2" fill="#96253a"/>
<rect x="673.9" y="388.6" width="45.9" height="10.2" fill="#93253c"/>
<rect x="719.3" y="388.6" width="91.4" height="10.2" fill="#91243e"/>
<rect x="810.2" y="388.6" width="45.9" height="10.2" fill="#93253c"/>
<rect x="855.6" y="388.6" width="45.9" height="10.2" fill="#9d2836"/>
<rect x="901.0" y="388.6" width="45.9" height="10.2" fill="#af312b"/>
<rect x="946.5" y="388.6" width="45.9" height="10.2" fill="#bf3b22"/>
<rect x="991.9" y="388.6" width="45.9" height="10.2" fill="#ce4a17"/>
<rect x="1037.3" y="388.6" width="45.9" height="10.2" fill="#da5d13"/>
<rect x="1082.8" y="388.6" width="45.9" height="10.2" fill="#de7218"/>
<rect x="1128.2" y="388.6" width="45.9" height="10.2" fill="#e07d1c"/>
<rect x="1173.6" y="388.6" width="45.9" height="10.2" fill="#e1831f"/>
<rect x="1219.0" y="388.6" width="45.9" height="10.2" fill="#e18621"/>
<rect x="1264.5" y="388.6" width="45.9" height="10.2" fill="#e1831f"/>
<rect x="1309.9" y="388.6" width="45.9" height="10.2" fill="#de761a"/>
<rect x="1355.3" y="388.6" width="45.9" height="10.2" fill="#dc6916"/>
<rect x="1400.7" y="388.6" width="45.9" height="10.2" fill="#d85712"/>
<rect x="1446.2" y="388.6" width="45.9" height="10.2" fill="#cf4b17"/>
<rect x="1491.6" y="388.6" width="45.9" height="10.2" fill="#c5411e"/>
<rect x="1537.0" y="388.6" width="45.9" height="10.2" fill="#b83726"/>
<rect x="1582.5" y="388.6" width="45.9" height="10.2" fill="#ac2f2c"/>
<rect x="1627.9" y="388.6" width="45.9" height="10.2" fill="#a42b31"/>
<rect x="1673.3" y="388.6" width="45.9" height="10.2" fill="#a12a33"/>
<rect x="1718.7" y="388.6" width="45.9" height="10.2" fill="#a42b31"/>
<rect x="1764.2" y="388.6" width="45.9" height="10.2" fill="#a82d2f"/>
<rect x="1809.6" y="388.6" width="45.9" height="10.2" fill="#af312b"/>
<rect x="1855.0" y="388.6" width="45.9" height="10.2" fill="#b53527"/>
<rect x="1900.4" y="388.6" width="91.4" height="10.2" fill="#b83726"/>
<rect x="1991.3" y="388.6" width="45.9" height="10.2" fill="#bb3924"/>
<rect x="2036.7" y="388.6" width="136.3" height="10.2" fill="#be3b22"/>
<rect x="310.5" y="398.2" width="45.9" height="10.2" fill="#a82d2f"/>
<rect x="355.9" y="398.2" width="45.9" height="10.2" fill="#af312b"/>
<rect x="401.4" y="398.2" width="45.9" height="10.2" fill="#b83726"/>
<rect x="446.8" y="398.2" width="45.9" height="10.2" fill="#be3b22"/>
<rect x="492.2" y="398.2" width="45.9" height="10.2" fill="#c5411e"/>
<rect x="537.6" y="398.2" width="45.9" height="10.2" fill="#c9441b"/>
<rect x="583.1" y="398.2" width="45.9" height="10.2" fill="#cb4619"/>
<rect x="628.5" y="398.2" width="45.9" height="10.2" fill="#cd4918"/>
<rect x="673.9" y="398.2" width="45.9" height="10.2" fill="#cf4b17"/>
<rect x="719.3" y="398.2" width="45.9" height="10.2" fill="#d14d15"/>
<rect x="764.8" y="398.2" width="45.9" height="10.2" fill="#d35014"/>
<rect x="810.2" y="398.2" width="45.9" height="10.2" fill="#d55213"/>
<rect x="855.6" y="398.2" width="45.9" height="10.2" fill="#d75411"/>
<rect x="901.0" y="398.2" width="45.9" height="10.2" fill="#d85712"/>
<rect x="946.5" y="398.2" width="45.9" height="10.2" fill="#d95b12"/>
<rect x="991.9" y="398.2" width="45.9" height="10.2" fill="#da6214"/>
<rect x="1037.3" y="398.2" width="45.9" height="10.2" fill="#dc6c17"/>
<rect x="1082.8" y="398.2" width="45.9" height="10.2" fill="#de761a"/>
<rect x="1128.2" y="398.2" width="45.9" height="10.2" fill="#e1831f"/>
<rect x="1173.6" y="398.2" width="45.9" height="10.2" fill="#e28e27"/>
<rect x="1219.0" y="398.2" width="45.9" height="10.2" fill="#e29129"/>
<rect x="1264.5" y="398.2" width="45.9" height="10.2" fill="#e28e27"/>
<rect x="1309.9" y="398.2" width="45.9" height="10.2" fill="#e18923"/>
<rect x="1355.3" y="398.2" width="45.9" height="10.2" fill="#e0801d"/>
<rect x="1400.7" y="398.2" width="45.9" height="10.2" fill="#de761a"/>
<rect x="1446.2" y="398.2" width="45.9" height="10.2" fill="#dc6916"/>
<rect x="1491.6" y="398.2" width="45.9" height="10.2" fill="#da5e13"/>
<rect x="1537.0" y="398.2" width="45.9" height="10.2" fill="#d75411"/>
<rect x="1582.5" y="398.2" width="45.9" height="10.2" fill="#cf4b17"/>
<rect x="1627.9" y="398.2" width="45.9" height="10.2" fill="#c9441b"/>
<rect x="1673.3" y="398.2" width="45.9" height="10.2" fill="#c7431c"/>
<rect x="1718.7" y="398.2" width="45.9" height="10.2" fill="#c5411e"/>
<rect x="1764.2" y="398.2" width="45.9" height="10.2" fill="#c13d21"/>
<rect x="1809.6" y="398.2" width="45.9" height="10.2" fill="#be3b22"/>
<rect x="1855.0" y="398.2" width="91.4" height="10.2" fill="#b83726"/>
<rect x="1945.9" y="398.2" width="45.9" height="10.2" fill="#b53527"/>
<rect x="1991.3" y="398.2" width="45.9" height="10.2" fill="#af312b"/>
<rect x="2036.7" y="398.2" width="45.9" height="10.2" fill="#ac2f2c"/>
<rect x="2082.1" y="398.2" width="90.9" height="10.2" fill="#a42b31"/>
<rect x="310.5" y="407.8" width="45.9" height="10.2" fill="#be3b22"/>
<rect x="355.9" y="407.8" width="45.9" height="10.2" fill="#c5411e"/>
<rect x="401.4" y="407.8" width="45.9" height="10.2" fill="#cb4619"/>
<rect x="446.8" y="407.8" width="45.9" height="10.2" fill="#d14d15"/>
<rect x="492.2" y="407.8" width="45.9" height="10.2" fill="#d55213"/>
<rect x="537.6" y="407.8" width="91.4" height="10.2" fill="#d75411"/>
<rect x="628.5" y="407.8" width="45.9" height="10.2" fill="#d55213"/>
<rect x="673.9" y="407.8" width="45.9" height="10.2" fill="#d35014"/>
<rect x="719.3" y="407.8" width="45.9" height="10.2" fill="#d14d15"/>
<rect x="764.8" y="407.8" width="45.9" height="10.2" fill="#cc4719"/>
<rect x="810.2" y="407.8" width="91.4" height="10.2" fill="#c9451b"/>
<rect x="901.0" y="407.8" width="45.9" height="10.2" fill="#cc4719"/>
<rect x="946.5" y="407.8" width="45.9" height="10.2" fill="#d95b12"/>
<rect x="991.9" y="407.8" width="45.9" height="10.2" fill="#db6515"/>
<rect x="1037.3" y="407.8" width="45.9" height="10.2" fill="#de7319"/>
<rect x="1082.8" y="407.8" width="45.9" height="10.2" fill="#e1831f"/>
<rect x="1128.2" y="407.8" width="45.9" height="10.2" fill="#e2942b"/>
<rect x="1173.6" y="407.8" width="45.9" height="10.2" fill="#e4a136"/>
<rect x="1219.0" y="407.8" width="45.9" height="10.2" fill="#e5a841"/>
<rect x="1264.5" y="407.8" width="45.9" height="10.2" fill="#e5ab44"/>
<rect x="1309.9" y="407.8" width="45.9" height="10.2" fill="#e4a63d"/>
<rect x="1355.3" y="407.8" width="45.9" height="10.2" fill="#e49e34"/>
<rect x="1400.7" y="407.8" width="45.9" height="10.2" fill="#e3962d"/>
<rect x="1446.2" y="407.8" width="45.9" height="10.2" fill="#e18923"/>
<rect x="1491.6" y="407.8" width="45.9" height="10.2" fill="#e07d1c"/>
<rect x="1537.0" y="407.8" width="45.9" height="10.2" fill="#dd7018"/>
<rect x="1582.5" y="407.8" width="45.9" height="10.2" fill="#da5e13"/>
<rect x="1627.9" y="407.8" width="45.9" height="10.2" fill="#d35014"/>
<rect x="1673.3" y="407.8" width="45.9" height="10.2" fill="#c9441b"/>
<rect x="1718.7" y="407.8" width="45.9" height="10.2" fill="#bf3b22"/>
<rect x="1764.2" y="407.8" width="45.9" height="10.2" fill="#b43428"/>
<rect x="1809.6" y="407.8" width="45.9" height="10.2" fill="#b0312a"/>
<rect x="1855.0" y="407.8" width="45.9" height="10.2" fill="#a82d2f"/>
<rect x="1900.4" y="407.8" width="45.9" height="10.2" fill="#a32b32"/>
<rect x="1945.9" y="407.8" width="91.4" height="10.2" fill="#9a2737"/>
<rect x="2036.7" y="407.8" width="45.9" height="10.2" fill="#96253a"/>
<rect x="2082.1" y="407.8" width="90.9" height="10.2" fill="#90243f"/>
<rect x="310.5" y="417.3" width="182.2" height="10.2" fill="#8c2443"/>
<rect x="492.2" y="417.3" width="45.9" height="10.2" fill="#892345"/>
<rect x="537.6" y="417.3" width="91.4" height="10.2" fill="#872347"/>
<rect x="628.5" y="417.3" width="45.9" height="10.2" fill="#8d2442"/>
<rect x="673.9" y="417.3" width="45.9" height="10.2" fill="#96253a"/>
<rect x="719.3" y="417.3" width="45.9" height="10.2" fill="#b43428"/>
<rect x="764.8" y="417.3" width="45.9" height="10.2" fill="#c4401e"/>
<rect x="810.2" y="417.3" width="45.9" height="10.2" fill="#ce4a17"/>
<rect x="855.6" y="417.3" width="45.9" height="10.2" fill="#d85511"/>
<rect x="901.0" y="417.3" width="45.9" height="10.2" fill="#da6214"/>
<rect x="946.5" y="417.3" width="45.9" height="10.2" fill="#e07f1c"/>
<rect x="991.9" y="417.3" width="45.9" height="10.2" fill="#e29028"/>
<rect x="1037.3" y="417.3" width="45.9" height="10.2" fill="#e39a30"/>
<rect x="1082.8" y="417.3" width="45.9" height="10.2" fill="#e4a63d"/>
<rect x="1128.2" y="417.3" width="45.9" height="10.2" fill="#e5a841"/>
<rect x="1173.6" y="417.3" width="45.9" height="10.2" fill="#e5b552"/>
<rect x="1219.0" y="417.3" width="91.4" height="10.2" fill="#e6ba5a"/>
<rect x="1309.9" y="417.3" width="45.9" height="10.2" fill="#e6b756"/>
<rect x="1355.3" y="417.3" width="45.9" height="10.2" fill="#e5b24f"/>
<rect x="1400.7" y="417.3" width="45.9" height="10.2" fill="#e5ad48"/>
<rect x="1446.2" y="417.3" width="45.9" height="10.2" fill="#e5a841"/>
<rect x="1491.6" y="417.3" width="45.9" height="10.2" fill="#e4a136"/>
<rect x="1537.0" y="417.3" width="45.9" height="10.2" fill="#e3992f"/>
<rect x="1582.5" y="417.3" width="45.9" height="10.2" fill="#e28e27"/>
<rect x="1627.9" y="417.3" width="45.9" height="10.2" fill="#e07d1c"/>
<rect x="1673.3" y="417.3" width="45.9" height="10.2" fill="#dc6c17"/>
<rect x="1718.7" y="417.3" width="45.9" height="10.2" fill="#d85712"/>
<rect x="1764.2" y="417.3" width="45.9" height="10.2" fill="#d35014"/>
<rect x="1809.6" y="417.3" width="45.9" height="10.2" fill="#cd4918"/>
<rect x="1855.0" y="417.3" width="45.9" height="10.2" fill="#c7431c"/>
<rect x="1900.4" y="417.3" width="45.9" height="10.2" fill="#b43428"/>
<rect x="1945.9" y="417.3" width="45.9" height="10.2" fill="#a32b32"/>
<rect x="1991.3" y="417.3" width="45.9" height="10.2" fill="#96253a"/>
<rect x="2036.7" y="417.3" width="45.9" height="10.2" fill="#8d2442"/>
<rect x="2082.1" y="417.3" width="45.9" height="10.2" fill="#872347"/>
<rect x="2127.6" y="417.3" width="45.4" height="10.2" fill="#7c214c"/>
<rect x="310.5" y="426.9" width="91.4" height="10.2" fill="#481248"/>
<rect x="401.4" y="426.9" width="91.4" height="10.2" fill="#4d1348"/>
<rect x="492.2" y="426.9" width="45.9" height="10.2" fill="#521549"/>
<rect x="537.6" y="426.9" width="45.9" height="10.2" fill="#57164a"/>
<rect x="583.1" y="426.9" width="45.9" height="10.2" fill="#5c184b"/>
<rect x="628.5" y="426.9" width="91.4" height="10.2" fill="#611a4c"/>
<rect x="719.3" y="426.9" width="45.9" height="10.2" fill="#661b4d"/>
<rect x="764.8" y="426.9" width="45.9" height="10.2" fill="#75204f"/>
<rect x="810.2" y="426.9" width="45.9" height="10.2" fill="#872347"/>
<rect x="855.6" y="426.9" width="45.9" height="10.2" fill="#992738"/>
<rect x="901.0" y="426.9" width="45.9" height="10.2" fill="#b53527"/>
<rect x="946.5" y="426.9" width="45.9" height="10.2" fill="#cd4918"/>
<rect x="991.9" y="426.9" width="45.9" height="10.2" fill="#dc6916"/>
<rect x="1037.3" y="426.9" width="45.9" height="10.2" fill="#e18c25"/>
<rect x="1082.8" y="426.9" width="45.9" height="10.2" fill="#e4a136"/>
<rect x="1128.2" y="426.9" width="45.9" height="10.2" fill="#e5b24f"/>
<rect x="1173.6" y="426.9" width="45.9" height="10.2" fill="#e6c166"/>
<rect x="1219.0" y="426.9" width="91.4" height="10.2" fill="#e7c775"/>
<rect x="1309.9" y="426.9" width="45.9" height="10.2" fill="#e6bf61"/>
<rect x="1355.3" y="426.9" width="45.9" height="10.2" fill="#e5b552"/>
<rect x="1400.7" y="426.9" width="45.9" height="10.2" fill="#e4a63d"/>
<rect x="1446.2" y="426.9" width="45.9" height="10.2" fill="#e3962d"/>
<rect x="1491.6" y="426.9" width="45.9" height="10.2" fill="#e0801d"/>
<rect x="1537.0" y="426.9" width="45.9" height="10.2" fill="#d85511"/>
<rect x="1582.5" y="426.9" width="45.9" height="10.2" fill="#c7421d"/>
<rect x="1627.9" y="426.9" width="45.9" height="10.2" fill="#b0312a"/>
<rect x="1673.3" y="426.9" width="45.9" height="10.2" fill="#9f2934"/>
<rect x="1718.7" y="426.9" width="45.9" height="10.2" fill="#96253a"/>
<rect x="1764.2" y="426.9" width="45.9" height="10.2" fill="#992738"/>
<rect x="1809.6" y="426.9" width="45.9" height="10.2" fill="#93253c"/>
<rect x="1855.0" y="426.9" width="45.9" height="10.2" fill="#91243e"/>
<rect x="1900.4" y="426.9" width="45.9" height="10.2" fill="#8e2441"/>
<rect x="1945.9" y="426.9" width="182.2" height="10.2" fill="#8c2443"/>
<rect x="2127.6" y="426.9" width="45.4" height="10.2" fill="#892345"/>
<rect x="310.5" y="436.4" width="136.8" height="10.2" fill="#441148"/>
<rect x="446.8" y="436.4" width="45.9" height="10.2" fill="#481248"/>
<rect x="492.2" y="436.4" width="45.9" height="10.2" fill="#521549"/>
<rect x="537.6" y="436.4" width="45.9" height="10.2" fill="#57164a"/>
<rect x="583.1" y="436.4" width="45.9" height="10.2" fill="#611a4c"/>
<rect x="628.5" y="436.4" width="45.9" height="10.2" fill="#701e4e"/>
<rect x="673.9" y="436.4" width="45.9" height="10.2" fill="#78214e"/>
<rect x="719.3" y="436.4" width="45.9" height="10.2" fill="#7e224b"/>
<rect x="764.8" y="436.4" width="45.9" height="10.2" fill="#8e2441"/>
<rect x="810.2" y="436.4" width="45.9" height="10.2" fill="#a42b31"/>
<rect x="855.6" y="436.4" width="45.9" height="10.2" fill="#c13d21"/>
<rect x="901.0" y="436.4" width="45.9" height="10.2" fill="#d55213"/>
<rect x="946.5" y="436.4" width="45.9" height="10.2" fill="#dd7018"/>
<rect x="991.9" y="436.4" width="45.9" height="10.2" fill="#e18923"/>
<rect x="1037.3" y="436.4" width="45.9" height="10.2" fill="#e49e34"/>
<rect x="1082.8" y="436.4" width="45.9" height="10.2" fill="#e5b24f"/>
<rect x="1128.2" y="436.4" width="45.9" height="10.2" fill="#e6c36b"/>
<rect x="1173.6" y="436.4" width="45.9" height="10.2" fill="#e7cb7f"/>
<rect x="1219.0" y="436.4" width="45.9" height="10.2" fill="#e8d08b"/>
<rect x="1264.5" y="436.4" width="45.9" height="10.2" fill="#e7cb7f"/>
<rect x="1309.9" y="436.4" width="45.9" height="10.2" fill="#e6c166"/>
<rect x="1355.3" y="436.4" width="45.9" height="10.2" fill="#e5b24f"/>
<rect x="1400.7" y="436.4" width="45.9" height="10.2" fill="#e4a136"/>
<rect x="1446.2" y="436.4" width="45.9" height="10.2" fill="#e18c25"/>
<rect x="1491.6" y="436.4" width="45.9" height="10.2" fill="#de7319"/>
<rect x="1537.0" y="436.4" width="45.9" height="10.2" fill="#d75411"/>
<rect x="1582.5" y="436.4" width="45.9" height="10.2" fill="#c5411e"/>
<rect x="1627.9" y="436.4" width="45.9" height="10.2" fill="#af312b"/>
<rect x="1673.3" y="436.4" width="45.9" height="10.2" fill="#96253a"/>
<rect x="1718.7" y="436.4" width="45.9" height="10.2" fill="#892345"/>
<rect x="1764.2" y="436.4" width="45.9" height="10.2" fill="#81224a"/>
<rect x="1809.6" y="436.4" width="45.9" height="10.2" fill="#78214e"/>
<rect x="1855.0" y="436.4" width="182.2" height="10.2" fill="#75204f"/>
<rect x="2036.7" y="436.4" width="45.9" height="10.2" fill="#78214e"/>
<rect x="2082.1" y="436.4" width="90.9" height="10.2" fill="#7b214c"/>
<rect x="310.5" y="446.0" width="45.9" height="10.2" fill="#611a4c"/>
<rect x="355.9" y="446.0" width="45.9" height="10.2" fill="#661b4d"/>
<rect x="401.4" y="446.0" width="45.9" height="10.2" fill="#6b1d4d"/>
<rect x="446.8" y="446.0" width="45.9" height="10.2" fill="#7b214c"/>
<rect x="492.2" y="446.0" width="45.9" height="10.2" fill="#892345"/>
<rect x="537.6" y="446.0" width="45.9" height="10.2" fill="#96253a"/>
<rect x="583.1" y="446.0" width="45.9" height="10.2" fill="#ac2f2c"/>
<rect x="628.5" y="446.0" width="45.9" height="10.2" fill="#be3b22"/>
<rect x="673.9" y="446.0" width="45.9" height="10.2" fill="#c9441b"/>
<rect x="719.3" y="446.0" width="45.9" height="10.2" fill="#d35014"/>
<rect x="764.8" y="446.0" width="45.9" height="10.2" fill="#da5e13"/>
<rect x="810.2" y="446.0" width="45.9" height="10.2" fill="#de7319"/>
<rect x="855.6" y="446.0" width="45.9" height="10.2" fill="#e1831f"/>
<rect x="901.0" y="446.0" width="45.9" height="10.2" fill="#e29129"/>
<rect x="946.5" y="446.0" width="45.9" height="10.2" fill="#e49e34"/>
<rect x="991.9" y="446.0" width="45.9" height="10.2" fill="#e5a841"/>
<rect x="1037.3" y="446.0" width="45.9" height="10.2" fill="#e5b552"/>
<rect x="1082.8" y="446.0" width="45.9" height="10.2" fill="#e6bc5d"/>
<rect x="1128.2" y="446.0" width="45.9" height="10.2" fill="#e6c36b"/>
<rect x="1173.6" y="446.0" width="91.4" height="10.2" fill="#e7c570"/>
<rect x="1264.5" y="446.0" width="45.9" height="10.2" fill="#e6c36b"/>
<rect x="1309.9" y="446.0" width="45.9" height="10.2" fill="#e6bf61"/>
<rect x="1355.3" y="446.0" width="45.9" height="10.2" fill="#e5b552"/>
<rect x="1400.7" y="446.0" width="45.9" height="10.2" fill="#e5a841"/>
<rect x="1446.2" y="446.0" width="45.9" height="10.2" fill="#e49e34"/>
<rect x="1491.6" y="446.0" width="45.9" height="10.2" fill="#e29129"/>
<rect x="1537.0" y="446.0" width="45.9" height="10.2" fill="#e1831f"/>
<rect x="1582.5" y="446.0" width="45.9" height="10.2" fill="#de7319"/>
<rect x="1627.9" y="446.0" width="45.9" height="10.2" fill="#da5e13"/>
<rect x="1673.3" y="446.0" width="45.9" height="10.2" fill="#d35014"/>
<rect x="1718.7" y="446.0" width="45.9" height="10.2" fill="#c7431c"/>
<rect x="1764.2" y="446.0" width="45.9" height="10.2" fill="#b83726"/>
<rect x="1809.6" y="446.0" width="45.9" height="10.2" fill="#a82d2f"/>
<rect x="1855.0" y="446.0" width="45.9" height="10.2" fill="#96253a"/>
<rect x="1900.4" y="446.0" width="45.9" height="10.2" fill="#892345"/>
<rect x="1945.9" y="446.0" width="45.9" height="10.2" fill="#81224a"/>
<rect x="1991.3" y="446.0" width="45.9" height="10.2" fill="#7b214c"/>
<rect x="2036.7" y="446.0" width="45.9" height="10.2" fill="#78214e"/>
<rect x="2082.1" y="446.0" width="90.9" height="10.2" fill="#75204f"/>
<rect x="310.5" y="455.5" width="136.8" height="10.2" fill="#96253a"/>
<rect x="446.8" y="455.5" width="45.9" height="10.2" fill="#992738"/>
<rect x="492.2" y="455.5" width="45.9" height="10.2" fill="#a12a33"/>
<rect x="537.6" y="455.5" width="136.8" height="10.2" fill="#a42b31"/>
<rect x="673.9" y="455.5" width="45.9" height="10.2" fill="#ac2f2c"/>
<rect x="719.3" y="455.5" width="45.9" height="10.2" fill="#a82d2f"/>
<rect x="764.8" y="455.5" width="45.9" height="10.2" fill="#a32b32"/>
<rect x="810.2" y="455.5" width="45.9" height="10.2" fill="#a82d2f"/>
<rect x="855.6" y="455.5" width="45.9" height="10.2" fill="#b73626"/>
<rect x="901.0" y="455.5" width="45.9" height="10.2" fill="#c9441b"/>
<rect x="946.5" y="455.5" width="45.9" height="10.2" fill="#d75411"/>
<rect x="991.9" y="455.5" width="45.9" height="10.2" fill="#dd7018"/>
<rect x="1037.3" y="455.5" width="45.9" height="10.2" fill="#e18923"/>
<rect x="1082.8" y="455.5" width="45.9" height="10.2" fill="#e3992f"/>
<rect x="1128.2" y="455.5" width="45.9" height="10.2" fill="#e5a841"/>
<rect x="1173.6" y="455.5" width="45.9" height="10.2" fill="#e5b552"/>
<rect x="1219.0" y="455.5" width="91.4" height="10.2" fill="#e6ba5a"/>
<rect x="1309.9" y="455.5" width="45.9" height="10.2" fill="#e6b756"/>
<rect x="1355.3" y="455.5" width="45.9" height="10.2" fill="#e5b04b"/>
<rect x="1400.7" y="455.5" width="45.9" height="10.2" fill="#e5a841"/>
<rect x="1446.2" y="455.5" width="45.9" height="10.2" fill="#e49e34"/>
<rect x="1491.6" y="455.5" width="45.9" height="10.2" fill="#e28e27"/>
<rect x="1537.0" y="455.5" width="45.9" height="10.2" fill="#e07d1c"/>
<rect x="1582.5" y="455.5" width="45.9" height="10.2" fill="#dc6916"/>
<rect x="1627.9" y="455.5" width="45.9" height="10.2" fill="#d75411"/>
<rect x="1673.3" y="455.5" width="45.9" height="10.2" fill="#c9441b"/>
<rect x="1718.7" y="455.5" width="45.9" height="10.2" fill="#bb3924"/>
<rect x="1764.2" y="455.5" width="45.9" height="10.2" fill="#b23329"/>
<rect x="1809.6" y="455.5" width="45.9" height="10.2" fill="#af312b"/>
<rect x="1855.0" y="455.5" width="45.9" height="10.2" fill="#b23329"/>
<rect x="1900.4" y="455.5" width="45.9" height="10.2" fill="#b53527"/>
<rect x="1945.9" y="455.5" width="45.9" height="10.2" fill="#b0312a"/>
<rect x="1991.3" y="455.5" width="45.9" height="10.2" fill="#b73626"/>
<rect x="2036.7" y="455.5" width="45.9" height="10.2" fill="#c4401e"/>
<rect x="2082.1" y="455.5" width="90.9" height="10.2" fill="#c7421d"/>
<rect x="310.5" y="465.1" width="45.9" height="10.2" fill="#d55213"/>
<rect x="355.9" y="465.1" width="45.9" height="10.2" fill="#cf4b17"/>
<rect x="401.4" y="465.1" width="45.9" height="10.2" fill="#c7431c"/>
<rect x="446.8" y="465.1" width="45.9" height="10.2" fill="#be3b22"/>
<rect x="492.2" y="465.1" width="45.9" height="10.2" fill="#b83726"/>
<rect x="537.6" y="465.1" width="45.9" height="10.2" fill="#b53527"/>
<rect x="583.1" y="465.1" width="45.9" height="10.2" fill="#af312b"/>
<rect x="628.5" y="465.1" width="45.9" height="10.2" fill="#a82d2f"/>
<rect x="673.9" y="465.1" width="45.9" height="10.2" fill="#a42b31"/>
<rect x="719.3" y="465.1" width="91.4" height="10.2" fill="#a12a33"/>
<rect x="810.2" y="465.1" width="45.9" height="10.2" fill="#b43428"/>
<rect x="855.6" y="465.1" width="45.9" height="10.2" fill="#c9451b"/>
<rect x="901.0" y="465.1" width="45.9" height="10.2" fill="#d85511"/>
<rect x="946.5" y="465.1" width="45.9" height="10.2" fill="#dd6e17"/>
<rect x="991.9" y="465.1" width="45.9" height="10.2" fill="#de761a"/>
<rect x="1037.3" y="465.1" width="45.9" height="10.2" fill="#e28e27"/>
<rect x="1082.8" y="465.1" width="45.9" height="10.2" fill="#e49e34"/>
<rect x="1128.2" y="465.1" width="45.9" height="10.2" fill="#e5a841"/>
<rect x="1173.6" y="465.1" width="45.9" height="10.2" fill="#e5b24f"/>
<rect x="1219.0" y="465.1" width="91.4" height="10.2" fill="#e5b552"/>
<rect x="1309.9" y="465.1" width="45.9" height="10.2" fill="#e5b24f"/>
<rect x="1355.3" y="465.1" width="45.9" height="10.2" fill="#e5ab44"/>
<rect x="1400.7" y="465.1" width="45.9" height="10.2" fill="#e4a136"/>
<rect x="1446.2" y="465.1" width="45.9" height="10.2" fill="#e3962d"/>
<rect x="1491.6" y="465.1" width="45.9" height="10.2" fill="#e18621"/>
<rect x="1537.0" y="465.1" width="45.9" height="10.2" fill="#dd7018"/>
<rect x="1582.5" y="465.1" width="45.9" height="10.2" fill="#d75411"/>
<rect x="1627.9" y="465.1" width="45.9" height="10.2" fill="#c9441b"/>
<rect x="1673.3" y="465.1" width="45.9" height="10.2" fill="#b83726"/>
<rect x="1718.7" y="465.1" width="45.9" height="10.2" fill="#ac2f2c"/>
<rect x="1764.2" y="465.1" width="91.4" height="10.2" fill="#a42b31"/>
<rect x="1855.0" y="465.1" width="45.9" height="10.2" fill="#bb3924"/>
<rect x="1900.4" y="465.1" width="45.9" height="10.2" fill="#b0312a"/>
<rect x="1945.9" y="465.1" width="45.9" height="10.2" fill="#ac2f2c"/>
<rect x="1991.3" y="465.1" width="45.9" height="10.2" fill="#a32b32"/>
<rect x="2036.7" y="465.1" width="136.3" height="10.2" fill="#9a2737"/>
<rect x="310.5" y="474.6" width="45.9" height="10.2" fill="#96253a"/>
<rect x="355.9" y="474.6" width="45.9" height="10.2" fill="#93253c"/>
<rect x="401.4" y="474.6" width="45.9" height="10.2" fill="#91243e"/>
<rect x="446.8" y="474.6" width="45.9" height="10.2" fill="#8e2441"/>
<rect x="492.2" y="474.6" width="91.4" height="10.2" fill="#8c2443"/>
<rect x="583.1" y="474.6" width="45.9" height="10.2" fill="#8e2441"/>
<rect x="628.5" y="474.6" width="45.9" height="10.2" fill="#91243e"/>
<rect x="673.9" y="474.6" width="45.9" height="10.2" fill="#93253c"/>
<rect x="719.3" y="474.6" width="45.9" height="10.2" fill="#96253a"/>
<rect x="764.8" y="474.6" width="45.9" height="10.2" fill="#a12a33"/>
<rect x="810.2" y="474.6" width="45.9" height="10.2" fill="#b53527"/>
<rect x="855.6" y="474.6" width="45.9" height="10.2" fill="#c9441b"/>
<rect x="901.0" y="474.6" width="45.9" height="10.2" fill="#d85712"/>
<rect x="946.5" y="474.6" width="45.9" height="10.2" fill="#dd7018"/>
<rect x="991.9" y="474.6" width="45.9" height="10.2" fill="#e18923"/>
<rect x="1037.3" y="474.6" width="45.9" height="10.2" fill="#e3992f"/>
<rect x="1082.8" y="474.6" width="45.9" height="10.2" fill="#e5a841"/>
<rect x="1128.2" y="474.6" width="45.9" height="10.2" fill="#e6b756"/>
<rect x="1173.6" y="474.6" width="45.9" height="10.2" fill="#e7c570"/>
<rect x="1219.0" y="474.6" width="136.8" height="10.2" fill="#e8ce85"/>
<rect x="1355.3" y="474.6" width="45.9" height="10.2" fill="#e7c97a"/>
<rect x="1400.7" y="474.6" width="45.9" height="10.2" fill="#e6c36b"/>
<rect x="1446.2" y="474.6" width="45.9" height="10.2" fill="#e6ba5a"/>
<rect x="1491.6" y="474.6" width="45.9" height="10.2" fill="#e5b04b"/>
<rect x="1537.0" y="474.6" width="45.9" height="10.2" fill="#e4a33a"/>
<rect x="1582.5" y="474.6" width="45.9" height="10.2" fill="#e3962d"/>
<rect x="1627.9" y="474.6" width="45.9" height="10.2" fill="#e18621"/>
<rect x="1673.3" y="474.6" width="45.9" height="10.2" fill="#de7319"/>
<rect x="1718.7" y="474.6" width="45.9" height="10.2" fill="#da5e13"/>
<rect x="1764.2" y="474.6" width="45.9" height="10.2" fill="#d35014"/>
<rect x="1809.6" y="474.6" width="45.9" height="10.2" fill="#cb4619"/>
<rect x="1855.0" y="474.6" width="45.9" height="10.2" fill="#c5411e"/>
<rect x="1900.4" y="474.6" width="45.9" height="10.2" fill="#b43428"/>
<rect x="1945.9" y="474.6" width="45.9" height="10.2" fill="#a82d2f"/>
<rect x="1991.3" y="474.6" width="45.9" height="10.2" fill="#9f2934"/>
<rect x="2036.7" y="474.6" width="45.9" height="10.2" fill="#96253a"/>
<rect x="2082.1" y="474.6" width="90.9" height="10.2" fill="#90243f"/>
<rect x="310.5" y="484.2" width="136.8" height="10.2" fill="#521549"/>
<rect x="446.8" y="484.2" width="45.9" height="10.2" fill="#57164a"/>
<rect x="492.2" y="484.2" width="45.9" height="10.2" fill="#5c184b"/>
<rect x="537.6" y="484.2" width="45.9" height="10.2" fill="#661b4d"/>
<rect x="583.1" y="484.2" width="45.9" height="10.2" fill="#701e4e"/>
<rect x="628.5" y="484.2" width="45.9" height="10.2" fill="#7b214c"/>
<rect x="673.9" y="484.2" width="45.9" height="10.2" fill="#872347"/>
<rect x="719.3" y="484.2" width="45.9" height="10.2" fill="#96253a"/>
<rect x="764.8" y="484.2" width="45.9" height="10.2" fill="#a42b31"/>
<rect x="810.2" y="484.2" width="45.9" height="10.2" fill="#b23329"/>
<rect x="855.6" y="484.2" width="45.9" height="10.2" fill="#c13d21"/>
<rect x="901.0" y="484.2" width="45.9" height="10.2" fill="#d14d15"/>
<rect x="946.5" y="484.2" width="45.9" height="10.2" fill="#dc6916"/>
<rect x="991.9" y="484.2" width="45.9" height="10.2" fill="#e29028"/>
<rect x="1037.3" y="484.2" width="45.9" height="10.2" fill="#e4a035"/>
<rect x="1082.8" y="484.2" width="45.9" height="10.2" fill="#e5b24e"/>
<rect x="1128.2" y="484.2" width="45.9" height="10.2" fill="#e7c672"/>
<rect x="1173.6" y="484.2" width="45.9" height="10.2" fill="#ece0b4"/>
<rect x="1219.0" y="484.2" width="91.4" height="10.2" fill="#eee3be"/>
<rect x="1309.9" y="484.2" width="91.4" height="10.2" fill="#efe6c7"/>
<rect x="1400.7" y="484.2" width="45.9" height="10.2" fill="#e8d18c"/>
<rect x="1446.2" y="484.2" width="45.9" height="10.2" fill="#e6c36c"/>
<rect x="1491.6" y="484.2" width="45.9" height="10.2" fill="#e5b552"/>
<rect x="1537.0" y="484.2" width="45.9" height="10.2" fill="#e4a33a"/>
<rect x="1582.5" y="484.2" width="45.9" height="10.2" fill="#e28e27"/>
<rect x="1627.9" y="484.2" width="45.9" height="10.2" fill="#de761a"/>
<rect x="1673.3" y="484.2" width="45.9" height="10.2" fill="#da5e13"/>
<rect x="1718.7" y="484.2" width="45.9" height="10.2" fill="#cf4b17"/>
<rect x="1764.2" y="484.2" width="45.9" height="10.2" fill="#c33f1f"/>
<rect x="1809.6" y="484.2" width="45.9" height="10.2" fill="#b53527"/>
<rect x="1855.0" y="484.2" width="45.9" height="10.2" fill="#a82d2f"/>
<rect x="1900.4" y="484.2" width="45.9" height="10.2" fill="#992738"/>
<rect x="1945.9" y="484.2" width="45.9" height="10.2" fill="#8e2441"/>
<rect x="1991.3" y="484.2" width="45.9" height="10.2" fill="#872347"/>
<rect x="2036.7" y="484.2" width="45.9" height="10.2" fill="#7e224b"/>
<rect x="2082.1" y="484.2" width="45.9" height="10.2" fill="#78214e"/>
<rect x="2127.6" y="484.2" width="45.4" height="10.2" fill="#75204f"/>
<rect x="310.5" y="493.8" width="45.9" height="10.2" fill="#611a4c"/>
<rect x="355.9" y="493.8" width="45.9" height="10.2" fill="#661b4d"/>
<rect x="401.4" y="493.8" width="45.9" height="10.2" fill="#701e4e"/>
<rect x="446.8" y="493.8" width="45.9" height="10.2" fill="#78214e"/>
<rect x="492.2" y="493.8" width="45.9" height="10.2" fill="#872347"/>
<rect x="537.6" y="493.8" width="45.9" height="10.2" fill="#93253c"/>
<rect x="583.1" y="493.8" width="45.9" height="10.2" fill="#a42b31"/>
<rect x="628.5" y="493.8" width="45.9" height="10.2" fill="#b53527"/>
<rect x="673.9" y="493.8" width="45.9" height="10.2" fill="#c5411e"/>
<rect x="719.3" y="493.8" width="45.9" height="10.2" fill="#d14d15"/>
<rect x="764.8" y="493.8" width="45.9" height="10.2" fill="#da5e13"/>
<rect x="810.2" y="493.8" width="45.9" height="10.2" fill="#dd7018"/>
<rect x="855.6" y="493.8" width="45.9" height="10.2" fill="#e0801d"/>
<rect x="901.0" y="493.8" width="45.9" height="10.2" fill="#e29129"/>
<rect x="946.5" y="493.8" width="45.9" height="10.2" fill="#e4a136"/>
<rect x="991.9" y="493.8" width="45.9" height="10.2" fill="#e5b553"/>
<rect x="1037.3" y="493.8" width="45.9" height="10.2" fill="#e6c36c"/>
<rect x="1082.8" y="493.8" width="45.9" height="10.2" fill="#e8ce85"/>
<rect x="1128.2" y="493.8" width="45.9" height="10.2" fill="#eee3be"/>
<rect x="1173.6" y="493.8" width="136.8" height="10.2" fill="#f2eede"/>
<rect x="1309.9" y="493.8" width="45.9" height="10.2" fill="#f1ebd7"/>
<rect x="1355.3" y="493.8" width="45.9" height="10.2" fill="#f0e9d0"/>
<rect x="1400.7" y="493.8" width="45.9" height="10.2" fill="#e9d494"/>
<rect x="1446.2" y="493.8" width="45.9" height="10.2" fill="#e7cb7e"/>
<rect x="1491.6" y="493.8" width="45.9" height="10.2" fill="#e6bf61"/>
<rect x="1537.0" y="493.8" width="45.9" height="10.2" fill="#e5ad48"/>
<rect x="1582.5" y="493.8" width="45.9" height="10.2" fill="#e39c32"/>
<rect x="1627.9" y="493.8" width="45.9" height="10.2" fill="#e18923"/>
<rect x="1673.3" y="493.8" width="45.9" height="10.2" fill="#de7319"/>
<rect x="1718.7" y="493.8" width="45.9" height="10.2" fill="#da5e13"/>
<rect x="1764.2" y="493.8" width="45.9" height="10.2" fill="#d35014"/>
<rect x="1809.6" y="493.8" width="45.9" height="10.2" fill="#c7431c"/>
<rect x="1855.0" y="493.8" width="45.9" height="10.2" fill="#b83726"/>
<rect x="1900.4" y="493.8" width="45.9" height="10.2" fill="#a42b31"/>
<rect x="1945.9" y="493.8" width="45.9" height="10.2" fill="#93253c"/>
<rect x="1991.3" y="493.8" width="45.9" height="10.2" fill="#872347"/>
<rect x="2036.7" y="493.8" width="45.9" height="10.2" fill="#78214e"/>
<rect x="2082.1" y="493.8" width="45.9" height="10.2" fill="#6b1d4d"/>
<rect x="2127.6" y="493.8" width="45.4" height="10.2" fill="#611a4c"/>
<rect x="310.5" y="503.3" width="136.8" height="10.2" fill="#75204f"/>
<rect x="446.8" y="503.3" width="45.9" height="10.2" fill="#7e224b"/>
<rect x="492.2" y="503.3" width="45.9" height="10.2" fill="#8c2443"/>
<rect x="537.6" y="503.3" width="45.9" height="10.2" fill="#a12a33"/>
<rect x="583.1" y="503.3" width="45.9" height="10.2" fill="#b53527"/>
<rect x="628.5" y="503.3" width="45.9" height="10.2" fill="#c5411e"/>
<rect x="673.9" y="503.3" width="45.9" height="10.2" fill="#cf4b17"/>
<rect x="719.3" y="503.3" width="45.9" height="10.2" fill="#d75411"/>
<rect x="764.8" y="503.3" width="45.9" height="10.2" fill="#da6214"/>
<rect x="810.2" y="503.3" width="45.9" height="10.2" fill="#de7319"/>
<rect x="855.6" y="503.3" width="45.9" height="10.2" fill="#e0801d"/>
<rect x="901.0" y="503.3" width="45.9" height="10.2" fill="#e29129"/>
<rect x="946.5" y="503.3" width="45.9" height="10.2" fill="#e4a63d"/>
<rect x="991.9" y="503.3" width="45.9" height="10.2" fill="#e7c672"/>
<rect x="1037.3" y="503.3" width="45.9" height="10.2" fill="#e8ce85"/>
<rect x="1082.8" y="503.3" width="45.9" height="10.2" fill="#eadaa2"/>
<rect x="1128.2" y="503.3" width="45.9" height="10.2" fill="#efe6c7"/>
<rect x="1173.6" y="503.3" width="91.4" height="10.2" fill="#f2eede"/>
<rect x="1264.5" y="503.3" width="91.4" height="10.2" fill="#f1ebd7"/>
<rect x="1355.3" y="503.3" width="45.9" height="10.2" fill="#f0e9d0"/>
<rect x="1400.7" y="503.3" width="45.9" height="10.2" fill="#e9d494"/>
<rect x="1446.2" y="503.3" width="45.9" height="10.2" fill="#e7cb7e"/>
<rect x="1491.6" y="503.3" width="45.9" height="10.2" fill="#e6bf61"/>
<rect x="1537.0" y="503.3" width="45.9" height="10.2" fill="#e5b04b"/>
<rect x="1582.5" y="503.3" width="45.9" height="10.2" fill="#e4a136"/>
<rect x="1627.9" y="503.3" width="45.9" height="10.2" fill="#e28e27"/>
<rect x="1673.3" y="503.3" width="45.9" height="10.2" fill="#e07d1c"/>
<rect x="1718.7" y="503.3" width="45.9" height="10.2" fill="#db6515"/>
<rect x="1764.2" y="503.3" width="45.9" height="10.2" fill="#d75411"/>
<rect x="1809.6" y="503.3" width="45.9" height="10.2" fill="#cb4619"/>
<rect x="1855.0" y="503.3" width="45.9" height="10.2" fill="#be3b22"/>
<rect x="1900.4" y="503.3" width="45.9" height="10.2" fill="#af312b"/>
<rect x="1945.9" y="503.3" width="45.9" height="10.2" fill="#9d2836"/>
<rect x="1991.3" y="503.3" width="45.9" height="10.2" fill="#91243e"/>
<rect x="2036.7" y="503.3" width="45.9" height="10.2" fill="#842348"/>
<rect x="2082.1" y="503.3" width="45.9" height="10.2" fill="#7b214c"/>
<rect x="2127.6" y="503.3" width="45.4" height="10.2" fill="#75204f"/>
<rect x="310.5" y="512.9" width="91.4" height="10.2" fill="#8c2443"/>
<rect x="401.4" y="512.9" width="45.9" height="10.2" fill="#8e2441"/>
<rect x="446.8" y="512.9" width="45.9" height="10.2" fill="#91243e"/>
<rect x="492.2" y="512.9" width="45.9" height="10.2" fill="#992738"/>
<rect x="537.6" y="512.9" width="45.9" height="10.2" fill="#a42b31"/>
<rect x="583.1" y="512.9" width="45.9" height="10.2" fill="#b23329"/>
<rect x="628.5" y="512.9" width="45.9" height="10.2" fill="#bb3924"/>
<rect x="673.9" y="512.9" width="45.9" height="10.2" fill="#c7431c"/>
<rect x="719.3" y="512.9" width="45.9" height="10.2" fill="#da5d13"/>
<rect x="764.8" y="512.9" width="45.9" height="10.2" fill="#de7218"/>
<rect x="810.2" y="512.9" width="45.9" height="10.2" fill="#e07f1c"/>
<rect x="855.6" y="512.9" width="45.9" height="10.2" fill="#e29028"/>
<rect x="901.0" y="512.9" width="45.9" height="10.2" fill="#e4a035"/>
<rect x="946.5" y="512.9" width="45.9" height="10.2" fill="#e5b553"/>
<rect x="991.9" y="512.9" width="45.9" height="10.2" fill="#e6c36c"/>
<rect x="1037.3" y="512.9" width="45.9" height="10.2" fill="#e7cb7e"/>
<rect x="1082.8" y="512.9" width="45.9" height="10.2" fill="#eadaa2"/>
<rect x="1128.2" y="512.9" width="45.9" height="10.2" fill="#eee3be"/>
<rect x="1173.6" y="512.9" width="91.4" height="10.2" fill="#f2eede"/>
<rect x="1264.5" y="512.9" width="91.4" height="10.2" fill="#f1ebd7"/>
<rect x="1355.3" y="512.9" width="45.9" height="10.2" fill="#f0e9d0"/>
<rect x="1400.7" y="512.9" width="45.9" height="10.2" fill="#e9d494"/>
<rect x="1446.2" y="512.9" width="45.9" height="10.2" fill="#e7cb7e"/>
<rect x="1491.6" y="512.9" width="45.9" height="10.2" fill="#e6ba5a"/>
<rect x="1537.0" y="512.9" width="45.9" height="10.2" fill="#e5ab44"/>
<rect x="1582.5" y="512.9" width="45.9" height="10.2" fill="#e3992f"/>
<rect x="1627.9" y="512.9" width="45.9" height="10.2" fill="#e18923"/>
<rect x="1673.3" y="512.9" width="45.9" height="10.2" fill="#de761a"/>
<rect x="1718.7" y="512.9" width="45.9" height="10.2" fill="#db6515"/>
<rect x="1764.2" y="512.9" width="45.9" height="10.2" fill="#d75411"/>
<rect x="1809.6" y="512.9" width="45.9" height="10.2" fill="#cb4619"/>
<rect x="1855.0" y="512.9" width="45.9" height="10.2" fill="#c13d21"/>
<rect x="1900.4" y="512.9" width="45.9" height="10.2" fill="#b23329"/>
<rect x="1945.9" y="512.9" width="45.9" height="10.2" fill="#a42b31"/>
<rect x="1991.3" y="512.9" width="45.9" height="10.2" fill="#96253a"/>
<rect x="2036.7" y="512.9" width="45.9" height="10.2" fill="#91243e"/>
<rect x="2082.1" y="512.9" width="45.9" height="10.2" fill="#8c2443"/>
<rect x="2127.6" y="512.9" width="45.4" height="10.2" fill="#892345"/>
<rect x="310.5" y="522.4" width="136.8" height="10.2" fill="#c5411e"/>
<rect x="446.8" y="522.4" width="45.9" height="10.2" fill="#c9441b"/>
<rect x="492.2" y="522.4" width="45.9" height="10.2" fill="#cf4b17"/>
<rect x="537.6" y="522.4" width="227.6" height="10.2" fill="#d35014"/>
<rect x="764.8" y="522.4" width="45.9" height="10.2" fill="#d55213"/>
<rect x="810.2" y="522.4" width="45.9" height="10.2" fill="#dc6a16"/>
<rect x="855.6" y="522.4" width="45.9" height="10.2" fill="#de771a"/>
<rect x="901.0" y="522.4" width="45.9" height="10.2" fill="#e18621"/>
<rect x="946.5" y="522.4" width="45.9" height="10.2" fill="#e3962d"/>
<rect x="991.9" y="522.4" width="45.9" height="10.2" fill="#e4a63d"/>
<rect x="1037.3" y="522.4" width="45.9" height="10.2" fill="#e5af4a"/>
<rect x="1082.8" y="522.4" width="45.9" height="10.2" fill="#e6c36c"/>
<rect x="1128.2" y="522.4" width="45.9" height="10.2" fill="#e8d18c"/>
<rect x="1173.6" y="522.4" width="227.6" height="10.2" fill="#eee3be"/>
<rect x="1400.7" y="522.4" width="45.9" height="10.2" fill="#e7c878"/>
<rect x="1446.2" y="522.4" width="45.9" height="10.2" fill="#e6c36c"/>
<rect x="1491.6" y="522.4" width="45.9" height="10.2" fill="#e5b552"/>
<rect x="1537.0" y="522.4" width="45.9" height="10.2" fill="#e4a63d"/>
<rect x="1582.5" y="522.4" width="45.9" height="10.2" fill="#e3962d"/>
<rect x="1627.9" y="522.4" width="45.9" height="10.2" fill="#e18621"/>
<rect x="1673.3" y="522.4" width="45.9" height="10.2" fill="#de761a"/>
<rect x="1718.7" y="522.4" width="45.9" height="10.2" fill="#db6515"/>
<rect x="1764.2" y="522.4" width="45.9" height="10.2" fill="#d75411"/>
<rect x="1809.6" y="522.4" width="45.9" height="10.2" fill="#cf4b17"/>
<rect x="1855.0" y="522.4" width="45.9" height="10.2" fill="#c9441b"/>
<rect x="1900.4" y="522.4" width="45.9" height="10.2" fill="#c5411e"/>
<rect x="1945.9" y="522.4" width="45.9" height="10.2" fill="#c33f1f"/>
<rect x="1991.3" y="522.4" width="45.9" height="10.2" fill="#c13d21"/>
<rect x="2036.7" y="522.4" width="45.9" height="10.2" fill="#bb3924"/>
<rect x="2082.1" y="522.4" width="45.9" height="10.2" fill="#b83726"/>
<rect x="2127.6" y="522.4" width="45.4" height="10.2" fill="#b53527"/>
<rect x="310.5" y="532.0" width="45.9" height="10.2" fill="#dd7018"/>
<rect x="355.9" y="532.0" width="45.9" height="10.2" fill="#df7a1b"/>
<rect x="401.4" y="532.0" width="45.9" height="10.2" fill="#e0801d"/>
<rect x="446.8" y="532.0" width="45.9" height="10.2" fill="#e18923"/>
<rect x="492.2" y="532.0" width="45.9" height="10.2" fill="#e28e27"/>
<rect x="537.6" y="532.0" width="182.2" height="10.2" fill="#e2942b"/>
<rect x="719.3" y="532.0" width="45.9" height="10.2" fill="#e3992f"/>
<rect x="764.8" y="532.0" width="91.4" height="10.2" fill="#e39c32"/>
<rect x="855.6" y="532.0" width="45.9" height="10.2" fill="#e49e34"/>
<rect x="901.0" y="532.0" width="45.9" height="10.2" fill="#e4a136"/>
<rect x="946.5" y="532.0" width="45.9" height="10.2" fill="#e4a63d"/>
<rect x="991.9" y="532.0" width="45.9" height="10.2" fill="#e5af4a"/>
<rect x="1037.3" y="532.0" width="45.9" height="10.2" fill="#e6be60"/>
<rect x="1082.8" y="532.0" width="45.9" height="10.2" fill="#e7c672"/>
<rect x="1128.2" y="532.0" width="45.9" height="10.2" fill="#e9d79b"/>
<rect x="1173.6" y="532.0" width="91.4" height="10.2" fill="#eee3be"/>
<rect x="1264.5" y="532.0" width="136.8" height="10.2" fill="#ece0b4"/>
<rect x="1400.7" y="532.0" width="45.9" height="10.2" fill="#e7c878"/>
<rect x="1446.2" y="532.0" width="45.9" height="10.2" fill="#e6c36c"/>
<rect x="1491.6" y="532.0" width="45.9" height="10.2" fill="#e6ba5a"/>
<rect x="1537.0" y="532.0" width="45.9" height="10.2" fill="#e5ad48"/>
<rect x="1582.5" y="532.0" width="45.9" height="10.2" fill="#e4a136"/>
<rect x="1627.9" y="532.0" width="45.9" height="10.2" fill="#e3962d"/>
<rect x="1673.3" y="532.0" width="45.9" height="10.2" fill="#e29129"/>
<rect x="1718.7" y="532.0" width="45.9" height="10.2" fill="#e18c25"/>
<rect x="1764.2" y="532.0" width="45.9" height="10.2" fill="#e18621"/>
<rect x="1809.6" y="532.0" width="45.9" height="10.2" fill="#e1831f"/>
<rect x="1855.0" y="532.0" width="91.4" height="10.2" fill="#e0801d"/>
<rect x="1945.9" y="532.0" width="91.4" height="10.2" fill="#e07d1c"/>
<rect x="2036.7" y="532.0" width="45.9" height="10.2" fill="#df7a1b"/>
<rect x="2082.1" y="532.0" width="45.9" height="10.2" fill="#de761a"/>
<rect x="2127.6" y="532.0" width="45.4" height="10.2" fill="#de7319"/>
<rect x="310.5" y="541.5" width="91.4" height="10.2" fill="#dc6916"/>
<rect x="401.4" y="541.5" width="91.4" height="10.2" fill="#dc6c17"/>
<rect x="492.2" y="541.5" width="45.9" height="10.2" fill="#e07f1c"/>
<rect x="537.6" y="541.5" width="45.9" height="10.2" fill="#e18621"/>
<rect x="583.1" y="541.5" width="45.9" height="10.2" fill="#e29028"/>
<rect x="628.5" y="541.5" width="45.9" height="10.2" fill="#e3962d"/>
<rect x="673.9" y="541.5" width="45.9" height="10.2" fill="#e39a30"/>
<rect x="719.3" y="541.5" width="45.9" height="10.2" fill="#e4a63d"/>
<rect x="764.8" y="541.5" width="45.9" height="10.2" fill="#e5b553"/>
<rect x="810.2" y="541.5" width="45.9" height="10.2" fill="#e6be60"/>
<rect x="855.6" y="541.5" width="45.9" height="10.2" fill="#e6c36c"/>
<rect x="901.0" y="541.5" width="45.9" height="10.2" fill="#e7c878"/>
<rect x="946.5" y="541.5" width="45.9" height="10.2" fill="#e9d494"/>
<rect x="991.9" y="541.5" width="45.9" height="10.2" fill="#ece0b4"/>
<rect x="1037.3" y="541.5" width="45.9" height="10.2" fill="#ede2ba"/>
<rect x="1082.8" y="541.5" width="45.9" height="10.2" fill="#f0e9d0"/>
<rect x="1128.2" y="541.5" width="45.9" height="10.2" fill="#f2eddc"/>
<rect x="1173.6" y="541.5" width="45.9" height="10.2" fill="#f3f1e7"/>
<rect x="1219.0" y="541.5" width="136.8" height="10.2" fill="#f4f3ed"/>
<rect x="1355.3" y="541.5" width="45.9" height="10.2" fill="#f3efe2"/>
<rect x="1400.7" y="541.5" width="45.9" height="10.2" fill="#f0e9d0"/>
<rect x="1446.2" y="541.5" width="45.9" height="10.2" fill="#ecdfb2"/>
<rect x="1491.6" y="541.5" width="45.9" height="10.2" fill="#e9d597"/>
<rect x="1537.0" y="541.5" width="45.9" height="10.2" fill="#e7c97a"/>
<rect x="1582.5" y="541.5" width="45.9" height="10.2" fill="#e6bf61"/>
<rect x="1627.9" y="541.5" width="45.9" height="10.2" fill="#e5b04b"/>
<rect x="1673.3" y="541.5" width="45.9" height="10.2" fill="#e4a63d"/>
<rect x="1718.7" y="541.5" width="45.9" height="10.2" fill="#e39c32"/>
<rect x="1764.2" y="541.5" width="45.9" height="10.2" fill="#e2942b"/>
<rect x="1809.6" y="541.5" width="45.9" height="10.2" fill="#e28e27"/>
<rect x="1855.0" y="541.5" width="45.9" height="10.2" fill="#e1831f"/>
<rect x="1900.4" y="541.5" width="45.9" height="10.2" fill="#df7a1b"/>
<rect x="1945.9" y="541.5" width="45.9" height="10.2" fill="#de7319"/>
<rect x="1991.3" y="541.5" width="45.9" height="10.2" fill="#dd7018"/>
<rect x="2036.7" y="541.5" width="45.9" height="10.2" fill="#dc6916"/>
<rect x="2082.1" y="541.5" width="45.9" height="10.2" fill="#da6214"/>
<rect x="2127.6" y="541.5" width="45.4" height="10.2" fill="#da5e13"/>
<rect x="310.5" y="551.1" width="45.9" height="10.2" fill="#d75411"/>
<rect x="355.9" y="551.1" width="45.9" height="10.2" fill="#d85712"/>
<rect x="401.4" y="551.1" width="45.9" height="10.2" fill="#d95b12"/>
<rect x="446.8" y="551.1" width="45.9" height="10.2" fill="#db6515"/>
<rect x="492.2" y="551.1" width="91.4" height="10.2" fill="#dc6916"/>
<rect x="583.1" y="551.1" width="45.9" height="10.2" fill="#dc6c17"/>
<rect x="628.5" y="551.1" width="45.9" height="10.2" fill="#dd7018"/>
<rect x="673.9" y="551.1" width="45.9" height="10.2" fill="#e07d1c"/>
<rect x="719.3" y="551.1" width="45.9" height="10.2" fill="#e18c25"/>
<rect x="764.8" y="551.1" width="45.9" height="10.2" fill="#e2942b"/>
<rect x="810.2" y="551.1" width="45.9" height="10.2" fill="#e39c32"/>
<rect x="855.6" y="551.1" width="45.9" height="10.2" fill="#e4a136"/>
<rect x="901.0" y="551.1" width="45.9" height="10.2" fill="#e5a841"/>
<rect x="946.5" y="551.1" width="45.9" height="10.2" fill="#e6b756"/>
<rect x="991.9" y="551.1" width="45.9" height="10.2" fill="#e7c775"/>
<rect x="1037.3" y="551.1" width="45.9" height="10.2" fill="#e9d391"/>
<rect x="1082.8" y="551.1" width="45.9" height="10.2" fill="#eadaa3"/>
<rect x="1128.2" y="551.1" width="45.9" height="10.2" fill="#eee4c1"/>
<rect x="1173.6" y="551.1" width="45.9" height="10.2" fill="#f2eddc"/>
<rect x="1219.0" y="551.1" width="45.9" height="10.2" fill="#f3f1e7"/>
<rect x="1264.5" y="551.1" width="91.4" height="10.2" fill="#f4f3ed"/>
<rect x="1355.3" y="551.1" width="45.9" height="10.2" fill="#f3efe2"/>
<rect x="1400.7" y="551.1" width="45.9" height="10.2" fill="#efe7c9"/>
<rect x="1446.2" y="551.1" width="45.9" height="10.2" fill="#ebddab"/>
<rect x="1491.6" y="551.1" width="45.9" height="10.2" fill="#e8d08b"/>
<rect x="1537.0" y="551.1" width="45.9" height="10.2" fill="#e7c775"/>
<rect x="1582.5" y="551.1" width="45.9" height="10.2" fill="#e6bc5d"/>
<rect x="1627.9" y="551.1" width="45.9" height="10.2" fill="#e5b04b"/>
<rect x="1673.3" y="551.1" width="45.9" height="10.2" fill="#e4a63d"/>
<rect x="1718.7" y="551.1" width="45.9" height="10.2" fill="#e39c32"/>
<rect x="1764.2" y="551.1" width="45.9" height="10.2" fill="#e2942b"/>
<rect x="1809.6" y="551.1" width="45.9" height="10.2" fill="#e28e27"/>
<rect x="1855.0" y="551.1" width="45.9" height="10.2" fill="#e1831f"/>
<rect x="1900.4" y="551.1" width="45.9" height="10.2" fill="#de761a"/>
<rect x="1945.9" y="551.1" width="45.9" height="10.2" fill="#dd7018"/>
<rect x="1991.3" y="551.1" width="45.9" height="10.2" fill="#dc6c17"/>
<rect x="2036.7" y="551.1" width="45.9" height="10.2" fill="#db6515"/>
<rect x="2082.1" y="551.1" width="45.9" height="10.2" fill="#d95b12"/>
<rect x="2127.6" y="551.1" width="45.4" height="10.2" fill="#d85712"/>
<rect x="310.5" y="560.6" width="363.9" height="10.2" fill="#be3b22"/>
<rect x="673.9" y="560.6" width="45.9" height="10.2" fill="#c13d21"/>
<rect x="719.3" y="560.6" width="45.9" height="10.2" fill="#c5411e"/>
<rect x="764.8" y="560.6" width="45.9" height="10.2" fill="#cb4619"/>
<rect x="810.2" y="560.6" width="45.9" height="10.2" fill="#d35014"/>
<rect x="855.6" y="560.6" width="45.9" height="10.2" fill="#d75411"/>
<rect x="901.0" y="560.6" width="45.9" height="10.2" fill="#dc6a16"/>
<rect x="946.5" y="560.6" width="45.9" height="10.2" fill="#e18621"/>
<rect x="991.9" y="560.6" width="45.9" height="10.2" fill="#e39a30"/>
<rect x="1037.3" y="560.6" width="45.9" height="10.2" fill="#e5a942"/>
<rect x="1082.8" y="560.6" width="45.9" height="10.2" fill="#e6b857"/>
<rect x="1128.2" y="560.6" width="45.9" height="10.2" fill="#e7cb7e"/>
<rect x="1173.6" y="560.6" width="45.9" height="10.2" fill="#eee3be"/>
<rect x="1219.0" y="560.6" width="45.9" height="10.2" fill="#efe6c7"/>
<rect x="1264.5" y="560.6" width="45.9" height="10.2" fill="#f0e9d0"/>
<rect x="1309.9" y="560.6" width="91.4" height="10.2" fill="#f3f0e5"/>
<rect x="1400.7" y="560.6" width="45.9" height="10.2" fill="#eadaa2"/>
<rect x="1446.2" y="560.6" width="45.9" height="10.2" fill="#e8ce85"/>
<rect x="1491.6" y="560.6" width="45.9" height="10.2" fill="#e6c36c"/>
<rect x="1537.0" y="560.6" width="45.9" height="10.2" fill="#e5b553"/>
<rect x="1582.5" y="560.6" width="45.9" height="10.2" fill="#e4a63d"/>
<rect x="1627.9" y="560.6" width="45.9" height="10.2" fill="#e29028"/>
<rect x="1673.3" y="560.6" width="45.9" height="10.2" fill="#e07f1c"/>
<rect x="1718.7" y="560.6" width="45.9" height="10.2" fill="#dc6a16"/>
<rect x="1764.2" y="560.6" width="45.9" height="10.2" fill="#da5d13"/>
<rect x="1809.6" y="560.6" width="45.9" height="10.2" fill="#d34f14"/>
<rect x="1855.0" y="560.6" width="182.2" height="10.2" fill="#c9451b"/>
<rect x="2036.7" y="560.6" width="45.9" height="10.2" fill="#cc4719"/>
<rect x="2082.1" y="560.6" width="90.9" height="10.2" fill="#d34f14"/>
<rect x="310.5" y="570.2" width="45.9" height="10.2" fill="#cd4918"/>
<rect x="355.9" y="570.2" width="45.9" height="10.2" fill="#cf4b17"/>
<rect x="401.4" y="570.2" width="45.9" height="10.2" fill="#d55213"/>
<rect x="446.8" y="570.2" width="45.9" height="10.2" fill="#d85712"/>
<rect x="492.2" y="570.2" width="45.9" height="10.2" fill="#da5e13"/>
<rect x="537.6" y="570.2" width="45.9" height="10.2" fill="#db6515"/>
<rect x="583.1" y="570.2" width="45.9" height="10.2" fill="#dc6c17"/>
<rect x="628.5" y="570.2" width="45.9" height="10.2" fill="#de7319"/>
<rect x="673.9" y="570.2" width="45.9" height="10.2" fill="#e0801d"/>
<rect x="719.3" y="570.2" width="45.9" height="10.2" fill="#e28e27"/>
<rect x="764.8" y="570.2" width="45.9" height="10.2" fill="#e3962d"/>
<rect x="810.2" y="570.2" width="45.9" height="10.2" fill="#e39c32"/>
<rect x="855.6" y="570.2" width="45.9" height="10.2" fill="#e4a33a"/>
<rect x="901.0" y="570.2" width="45.9" height="10.2" fill="#e5ad48"/>
<rect x="946.5" y="570.2" width="45.9" height="10.2" fill="#e6bc5d"/>
<rect x="991.9" y="570.2" width="45.9" height="10.2" fill="#e7cb7e"/>
<rect x="1037.3" y="570.2" width="45.9" height="10.2" fill="#e9d494"/>
<rect x="1082.8" y="570.2" width="45.9" height="10.2" fill="#ebddab"/>
<rect x="1128.2" y="570.2" width="45.9" height="10.2" fill="#efe6c7"/>
<rect x="1173.6" y="570.2" width="136.8" height="10.2" fill="#f1ebd7"/>
<rect x="1309.9" y="570.2" width="91.4" height="10.2" fill="#efe6c7"/>
<rect x="1400.7" y="570.2" width="45.9" height="10.2" fill="#ebddab"/>
<rect x="1446.2" y="570.2" width="45.9" height="10.2" fill="#e8d18c"/>
<rect x="1491.6" y="570.2" width="45.9" height="10.2" fill="#e7c672"/>
<rect x="1537.0" y="570.2" width="45.9" height="10.2" fill="#e6be60"/>
<rect x="1582.5" y="570.2" width="45.9" height="10.2" fill="#e5b24e"/>
<rect x="1627.9" y="570.2" width="45.9" height="10.2" fill="#e4a339"/>
<rect x="1673.3" y="570.2" width="45.9" height="10.2" fill="#e39a30"/>
<rect x="1718.7" y="570.2" width="45.9" height="10.2" fill="#e29028"/>
<rect x="1764.2" y="570.2" width="45.9" height="10.2" fill="#e18621"/>
<rect x="1809.6" y="570.2" width="45.9" height="10.2" fill="#e07f1c"/>
<rect x="1855.0" y="570.2" width="45.9" height="10.2" fill="#dc6916"/>
<rect x="1900.4" y="570.2" width="136.8" height="10.2" fill="#da6214"/>
<rect x="2036.7" y="570.2" width="45.9" height="10.2" fill="#da5e13"/>
<rect x="2082.1" y="570.2" width="90.9" height="10.2" fill="#d85712"/>
<rect x="310.5" y="579.8" width="45.9" height="10.2" fill="#d95b12"/>
<rect x="355.9" y="579.8" width="45.9" height="10.2" fill="#db6515"/>
<rect x="401.4" y="579.8" width="45.9" height="10.2" fill="#dd7018"/>
<rect x="446.8" y="579.8" width="45.9" height="10.2" fill="#e0801d"/>
<rect x="492.2" y="579.8" width="45.9" height="10.2" fill="#e28e27"/>
<rect x="537.6" y="579.8" width="45.9" height="10.2" fill="#e3962d"/>
<rect x="583.1" y="579.8" width="45.9" height="10.2" fill="#e49e34"/>
<rect x="628.5" y="579.8" width="45.9" height="10.2" fill="#e4a63d"/>
<rect x="673.9" y="579.8" width="45.9" height="10.2" fill="#e5b04b"/>
<rect x="719.3" y="579.8" width="45.9" height="10.2" fill="#e6bc5d"/>
<rect x="764.8" y="579.8" width="45.9" height="10.2" fill="#e6c36b"/>
<rect x="810.2" y="579.8" width="45.9" height="10.2" fill="#e7c775"/>
<rect x="855.6" y="579.8" width="45.9" height="10.2" fill="#e7c97a"/>
<rect x="901.0" y="579.8" width="45.9" height="10.2" fill="#e8ce85"/>
<rect x="946.5" y="579.8" width="45.9" height="10.2" fill="#e9d391"/>
<rect x="991.9" y="579.8" width="45.9" height="10.2" fill="#eadaa2"/>
<rect x="1037.3" y="579.8" width="45.9" height="10.2" fill="#ece0b4"/>
<rect x="1082.8" y="579.8" width="45.9" height="10.2" fill="#eee3be"/>
<rect x="1128.2" y="579.8" width="273.1" height="10.2" fill="#efe6c7"/>
<rect x="1400.7" y="579.8" width="45.9" height="10.2" fill="#eadaa2"/>
<rect x="1446.2" y="579.8" width="45.9" height="10.2" fill="#e9d494"/>
<rect x="1491.6" y="579.8" width="45.9" height="10.2" fill="#e7cb7f"/>
<rect x="1537.0" y="579.8" width="45.9" height="10.2" fill="#e7c570"/>
<rect x="1582.5" y="579.8" width="45.9" height="10.2" fill="#e6bf61"/>
<rect x="1627.9" y="579.8" width="45.9" height="10.2" fill="#e5b552"/>
<rect x="1673.3" y="579.8" width="45.9" height="10.2" fill="#e5ab44"/>
<rect x="1718.7" y="579.8" width="45.9" height="10.2" fill="#e4a136"/>
<rect x="1764.2" y="579.8" width="45.9" height="10.2" fill="#e3992f"/>
<rect x="1809.6" y="579.8" width="45.9" height="10.2" fill="#e2942b"/>
<rect x="1855.0" y="579.8" width="45.9" height="10.2" fill="#e18923"/>
<rect x="1900.4" y="579.8" width="45.9" height="10.2" fill="#e1831f"/>
<rect x="1945.9" y="579.8" width="45.9" height="10.2" fill="#e07d1c"/>
<rect x="1991.3" y="579.8" width="45.9" height="10.2" fill="#de7319"/>
<rect x="2036.7" y="579.8" width="45.9" height="10.2" fill="#dc6c17"/>
<rect x="2082.1" y="579.8" width="45.9" height="10.2" fill="#da5e13"/>
<rect x="2127.6" y="579.8" width="45.4" height="10.2" fill="#d85712"/>
<rect x="310.5" y="589.3" width="91.4" height="10.2" fill="#c7431c"/>
<rect x="401.4" y="589.3" width="45.9" height="10.2" fill="#cb4619"/>
<rect x="446.8" y="589.3" width="45.9" height="10.2" fill="#d35014"/>
<rect x="492.2" y="589.3" width="91.4" height="10.2" fill="#d75411"/>
<rect x="583.1" y="589.3" width="45.9" height="10.2" fill="#d85712"/>
<rect x="628.5" y="589.3" width="45.9" height="10.2" fill="#d95b12"/>
<rect x="673.9" y="589.3" width="45.9" height="10.2" fill="#da6214"/>
<rect x="719.3" y="589.3" width="45.9" height="10.2" fill="#dc6916"/>
<rect x="764.8" y="589.3" width="45.9" height="10.2" fill="#dc6c17"/>
<rect x="810.2" y="589.3" width="45.9" height="10.2" fill="#de761a"/>
<rect x="855.6" y="589.3" width="45.9" height="10.2" fill="#e0801d"/>
<rect x="901.0" y="589.3" width="45.9" height="10.2" fill="#e18923"/>
<rect x="946.5" y="589.3" width="45.9" height="10.2" fill="#e29129"/>
<rect x="991.9" y="589.3" width="45.9" height="10.2" fill="#e3992f"/>
<rect x="1037.3" y="589.3" width="45.9" height="10.2" fill="#e4a33a"/>
<rect x="1082.8" y="589.3" width="45.9" height="10.2" fill="#e5ad48"/>
<rect x="1128.2" y="589.3" width="45.9" height="10.2" fill="#e6b756"/>
<rect x="1173.6" y="589.3" width="45.9" height="10.2" fill="#e6bf61"/>
<rect x="1219.0" y="589.3" width="136.8" height="10.2" fill="#e6c36b"/>
<rect x="1355.3" y="589.3" width="45.9" height="10.2" fill="#e6bf61"/>
<rect x="1400.7" y="589.3" width="45.9" height="10.2" fill="#e6b756"/>
<rect x="1446.2" y="589.3" width="45.9" height="10.2" fill="#e5ad48"/>
<rect x="1491.6" y="589.3" width="45.9" height="10.2" fill="#e4a136"/>
<rect x="1537.0" y="589.3" width="45.9" height="10.2" fill="#e3962d"/>
<rect x="1582.5" y="589.3" width="45.9" height="10.2" fill="#e18c25"/>
<rect x="1627.9" y="589.3" width="45.9" height="10.2" fill="#e18621"/>
<rect x="1673.3" y="589.3" width="45.9" height="10.2" fill="#e07d1c"/>
<rect x="1718.7" y="589.3" width="45.9" height="10.2" fill="#df7a1b"/>
<rect x="1764.2" y="589.3" width="45.9" height="10.2" fill="#de7319"/>
<rect x="1809.6" y="589.3" width="45.9" height="10.2" fill="#dd7018"/>
<rect x="1855.0" y="589.3" width="91.4" height="10.2" fill="#dc6c17"/>
<rect x="1945.9" y="589.3" width="91.4" height="10.2" fill="#dc6916"/>
<rect x="2036.7" y="589.3" width="45.9" height="10.2" fill="#db6515"/>
<rect x="2082.1" y="589.3" width="45.9" height="10.2" fill="#da6214"/>
<rect x="2127.6" y="589.3" width="45.4" height="10.2" fill="#da5e13"/>
<rect x="310.5" y="598.9" width="318.5" height="10.2" fill="#e07d1c"/>
<rect x="628.5" y="598.9" width="45.9" height="10.2" fill="#e0801d"/>
<rect x="673.9" y="598.9" width="45.9" height="10.2" fill="#e1831f"/>
<rect x="719.3" y="598.9" width="45.9" height="10.2" fill="#e18621"/>
<rect x="764.8" y="598.9" width="45.9" height="10.2" fill="#e18c25"/>
<rect x="810.2" y="598.9" width="45.9" height="10.2" fill="#e29129"/>
<rect x="855.6" y="598.9" width="45.9" height="10.2" fill="#e2942b"/>
<rect x="901.0" y="598.9" width="45.9" height="10.2" fill="#e3962d"/>
<rect x="946.5" y="598.9" width="45.9" height="10.2" fill="#e39c32"/>
<rect x="991.9" y="598.9" width="45.9" height="10.2" fill="#e5a942"/>
<rect x="1037.3" y="598.9" width="45.9" height="10.2" fill="#e5b24e"/>
<rect x="1082.8" y="598.9" width="45.9" height="10.2" fill="#e6bb5c"/>
<rect x="1128.2" y="598.9" width="45.9" height="10.2" fill="#e6c166"/>
<rect x="1173.6" y="598.9" width="227.6" height="10.2" fill="#e7c672"/>
<rect x="1400.7" y="598.9" width="45.9" height="10.2" fill="#e6bb5c"/>
<rect x="1446.2" y="598.9" width="45.9" height="10.2" fill="#e5af4a"/>
<rect x="1491.6" y="598.9" width="45.9" height="10.2" fill="#e5a841"/>
<rect x="1537.0" y="598.9" width="45.9" height="10.2" fill="#e4a136"/>
<rect x="1582.5" y="598.9" width="45.9" height="10.2" fill="#e3962d"/>
<rect x="1627.9" y="598.9" width="45.9" height="10.2" fill="#e29129"/>
<rect x="1673.3" y="598.9" width="45.9" height="10.2" fill="#e18c25"/>
<rect x="1718.7" y="598.9" width="91.4" height="10.2" fill="#e18621"/>
<rect x="1809.6" y="598.9" width="45.9" height="10.2" fill="#e0801d"/>
<rect x="1855.0" y="598.9" width="45.9" height="10.2" fill="#df7a1b"/>
<rect x="1900.4" y="598.9" width="136.8" height="10.2" fill="#de761a"/>
<rect x="2036.7" y="598.9" width="45.9" height="10.2" fill="#de7319"/>
<rect x="2082.1" y="598.9" width="90.9" height="10.2" fill="#dc6c17"/>
<rect x="310.5" y="608.4" width="45.9" height="10.2" fill="#dc6c17"/>
<rect x="355.9" y="608.4" width="45.9" height="10.2" fill="#dd7018"/>
<rect x="401.4" y="608.4" width="227.6" height="10.2" fill="#de7319"/>
<rect x="628.5" y="608.4" width="45.9" height="10.2" fill="#de761a"/>
<rect x="673.9" y="608.4" width="45.9" height="10.2" fill="#e07d1c"/>
<rect x="719.3" y="608.4" width="45.9" height="10.2" fill="#e1831f"/>
<rect x="764.8" y="608.4" width="45.9" height="10.2" fill="#e18923"/>
<rect x="810.2" y="608.4" width="45.9" height="10.2" fill="#e28e27"/>
<rect x="855.6" y="608.4" width="45.9" height="10.2" fill="#e2942b"/>
<rect x="901.0" y="608.4" width="45.9" height="10.2" fill="#e3962d"/>
<rect x="946.5" y="608.4" width="45.9" height="10.2" fill="#e39c32"/>
<rect x="991.9" y="608.4" width="45.9" height="10.2" fill="#e4a63d"/>
<rect x="1037.3" y="608.4" width="45.9" height="10.2" fill="#e5af4a"/>
<rect x="1082.8" y="608.4" width="45.9" height="10.2" fill="#e6bb5c"/>
<rect x="1128.2" y="608.4" width="45.9" height="10.2" fill="#e6c36c"/>
<rect x="1173.6" y="608.4" width="227.6" height="10.2" fill="#e7c878"/>
<rect x="1400.7" y="608.4" width="45.9" height="10.2" fill="#e6bb5c"/>
<rect x="1446.2" y="608.4" width="45.9" height="10.2" fill="#e5b24e"/>
<rect x="1491.6" y="608.4" width="45.9" height="10.2" fill="#e4a63d"/>
<rect x="1537.0" y="608.4" width="45.9" height="10.2" fill="#e4a035"/>
<rect x="1582.5" y="608.4" width="45.9" height="10.2" fill="#e2932b"/>
<rect x="1627.9" y="608.4" width="45.9" height="10.2" fill="#e18923"/>
<rect x="1673.3" y="608.4" width="45.9" height="10.2" fill="#e07f1c"/>
<rect x="1718.7" y="608.4" width="45.9" height="10.2" fill="#de771a"/>
<rect x="1764.2" y="608.4" width="45.9" height="10.2" fill="#dd6e17"/>
<rect x="1809.6" y="608.4" width="45.9" height="10.2" fill="#db6615"/>
<rect x="1855.0" y="608.4" width="45.9" height="10.2" fill="#da5d13"/>
<rect x="1900.4" y="608.4" width="182.2" height="10.2" fill="#d95912"/>
<rect x="2082.1" y="608.4" width="90.9" height="10.2" fill="#d85511"/>
<rect x="310.5" y="618.0" width="91.4" height="10.2" fill="#a42b31"/>
<rect x="401.4" y="618.0" width="45.9" height="10.2" fill="#a12a33"/>
<rect x="446.8" y="618.0" width="45.9" height="10.2" fill="#9d2836"/>
<rect x="492.2" y="618.0" width="45.9" height="10.2" fill="#93253c"/>
<rect x="537.6" y="618.0" width="45.9" height="10.2" fill="#8e2441"/>
<rect x="583.1" y="618.0" width="45.9" height="10.2" fill="#8c2443"/>
<rect x="628.5" y="618.0" width="45.9" height="10.2" fill="#8e2441"/>
<rect x="673.9" y="618.0" width="45.9" height="10.2" fill="#96253a"/>
<rect x="719.3" y="618.0" width="45.9" height="10.2" fill="#ac2f2c"/>
<rect x="764.8" y="618.0" width="45.9" height="10.2" fill="#b73626"/>
<rect x="810.2" y="618.0" width="45.9" height="10.2" fill="#c4401e"/>
<rect x="855.6" y="618.0" width="45.9" height="10.2" fill="#d85511"/>
<rect x="901.0" y="618.0" width="45.9" height="10.2" fill="#dc6a16"/>
<rect x="946.5" y="618.0" width="45.9" height="10.2" fill="#e07f1c"/>
<rect x="991.9" y="618.0" width="45.9" height="10.2" fill="#e07d1c"/>
<rect x="1037.3" y="618.0" width="45.9" height="10.2" fill="#e29129"/>
<rect x="1082.8" y="618.0" width="45.9" height="10.2" fill="#e4a136"/>
<rect x="1128.2" y="618.0" width="45.9" height="10.2" fill="#e5b24f"/>
<rect x="1173.6" y="618.0" width="45.9" height="10.2" fill="#e6c36b"/>
<rect x="1219.0" y="618.0" width="45.9" height="10.2" fill="#e7c97a"/>
<rect x="1264.5" y="618.0" width="91.4" height="10.2" fill="#e7cb7f"/>
<rect x="1355.3" y="618.0" width="45.9" height="10.2" fill="#e7c775"/>
<rect x="1400.7" y="618.0" width="45.9" height="10.2" fill="#e6bc5d"/>
<rect x="1446.2" y="618.0" width="45.9" height="10.2" fill="#e5b04b"/>
<rect x="1491.6" y="618.0" width="45.9" height="10.2" fill="#e4a136"/>
<rect x="1537.0" y="618.0" width="45.9" height="10.2" fill="#e2942b"/>
<rect x="1582.5" y="618.0" width="45.9" height="10.2" fill="#e0801d"/>
<rect x="1627.9" y="618.0" width="45.9" height="10.2" fill="#dc6c17"/>
<rect x="1673.3" y="618.0" width="45.9" height="10.2" fill="#d85712"/>
<rect x="1718.7" y="618.0" width="45.9" height="10.2" fill="#d14d16"/>
<rect x="1764.2" y="618.0" width="45.9" height="10.2" fill="#cc4719"/>
<rect x="1809.6" y="618.0" width="45.9" height="10.2" fill="#c4401e"/>
<rect x="1855.0" y="618.0" width="45.9" height="10.2" fill="#bf3b22"/>
<rect x="1900.4" y="618.0" width="182.2" height="10.2" fill="#b43428"/>
<rect x="2082.1" y="618.0" width="90.9" height="10.2" fill="#bf3b22"/>
<rect x="310.5" y="627.5" width="45.9" height="10.2" fill="#96253a"/>
<rect x="355.9" y="627.5" width="45.9" height="10.2" fill="#9d2836"/>
<rect x="401.4" y="627.5" width="45.9" height="10.2" fill="#ac2f2c"/>
<rect x="446.8" y="627.5" width="45.9" height="10.2" fill="#be3b22"/>
<rect x="492.2" y="627.5" width="45.9" height="10.2" fill="#c7431c"/>
<rect x="537.6" y="627.5" width="45.9" height="10.2" fill="#cf4b17"/>
<rect x="583.1" y="627.5" width="45.9" height="10.2" fill="#d55213"/>
<rect x="628.5" y="627.5" width="45.9" height="10.2" fill="#d95b12"/>
<rect x="673.9" y="627.5" width="45.9" height="10.2" fill="#dc6c17"/>
<rect x="719.3" y="627.5" width="45.9" height="10.2" fill="#e07d1c"/>
<rect x="764.8" y="627.5" width="45.9" height="10.2" fill="#e18c25"/>
<rect x="810.2" y="627.5" width="45.9" height="10.2" fill="#e2942b"/>
<rect x="855.6" y="627.5" width="45.9" height="10.2" fill="#e3992f"/>
<rect x="901.0" y="627.5" width="45.9" height="10.2" fill="#e4a136"/>
<rect x="946.5" y="627.5" width="45.9" height="10.2" fill="#e5a841"/>
<rect x="991.9" y="627.5" width="45.9" height="10.2" fill="#e5b24f"/>
<rect x="1037.3" y="627.5" width="45.9" height="10.2" fill="#e6bc5d"/>
<rect x="1082.8" y="627.5" width="45.9" height="10.2" fill="#e7c570"/>
<rect x="1128.2" y="627.5" width="45.9" height="10.2" fill="#e8ce85"/>
<rect x="1173.6" y="627.5" width="45.9" height="10.2" fill="#e9d597"/>
<rect x="1219.0" y="627.5" width="136.8" height="10.2" fill="#eadaa3"/>
<rect x="1355.3" y="627.5" width="45.9" height="10.2" fill="#ead89d"/>
<rect x="1400.7" y="627.5" width="45.9" height="10.2" fill="#e9d391"/>
<rect x="1446.2" y="627.5" width="45.9" height="10.2" fill="#e8ce85"/>
<rect x="1491.6" y="627.5" width="45.9" height="10.2" fill="#e7c97a"/>
<rect x="1537.0" y="627.5" width="45.9" height="10.2" fill="#e6c36b"/>
<rect x="1582.5" y="627.5" width="45.9" height="10.2" fill="#e6bf61"/>
<rect x="1627.9" y="627.5" width="45.9" height="10.2" fill="#e6b756"/>
<rect x="1673.3" y="627.5" width="45.9" height="10.2" fill="#e4a63d"/>
<rect x="1718.7" y="627.5" width="45.9" height="10.2" fill="#e4a035"/>
<rect x="1764.2" y="627.5" width="45.9" height="10.2" fill="#e3962d"/>
<rect x="1809.6" y="627.5" width="45.9" height="10.2" fill="#e29028"/>
<rect x="1855.0" y="627.5" width="45.9" height="10.2" fill="#e18923"/>
<rect x="1900.4" y="627.5" width="45.9" height="10.2" fill="#e18621"/>
<rect x="1945.9" y="627.5" width="45.9" height="10.2" fill="#e07f1c"/>
<rect x="1991.3" y="627.5" width="45.9" height="10.2" fill="#de771a"/>
<rect x="2036.7" y="627.5" width="45.9" height="10.2" fill="#de7218"/>
<rect x="2082.1" y="627.5" width="45.9" height="10.2" fill="#dc6a16"/>
<rect x="2127.6" y="627.5" width="45.4" height="10.2" fill="#da6214"/>
<rect x="310.5" y="637.1" width="45.9" height="10.2" fill="#d95b12"/>
<rect x="355.9" y="637.1" width="45.9" height="10.2" fill="#db6515"/>
<rect x="401.4" y="637.1" width="45.9" height="10.2" fill="#dd7018"/>
<rect x="446.8" y="637.1" width="45.9" height="10.2" fill="#e07d1c"/>
<rect x="492.2" y="637.1" width="45.9" height="10.2" fill="#e18621"/>
<rect x="537.6" y="637.1" width="91.4" height="10.2" fill="#e18923"/>
<rect x="628.5" y="637.1" width="45.9" height="10.2" fill="#e28e27"/>
<rect x="673.9" y="637.1" width="45.9" height="10.2" fill="#e3992f"/>
<rect x="719.3" y="637.1" width="45.9" height="10.2" fill="#e4a33a"/>
<rect x="764.8" y="637.1" width="45.9" height="10.2" fill="#e5ad48"/>
<rect x="810.2" y="637.1" width="45.9" height="10.2" fill="#e5b552"/>
<rect x="855.6" y="637.1" width="45.9" height="10.2" fill="#e6b756"/>
<rect x="901.0" y="637.1" width="45.9" height="10.2" fill="#e6bc5d"/>
<rect x="946.5" y="637.1" width="45.9" height="10.2" fill="#e7c570"/>
<rect x="991.9" y="637.1" width="45.9" height="10.2" fill="#e7cb7f"/>
<rect x="1037.3" y="637.1" width="45.9" height="10.2" fill="#e9d391"/>
<rect x="1082.8" y="637.1" width="45.9" height="10.2" fill="#eadaa3"/>
<rect x="1128.2" y="637.1" width="45.9" height="10.2" fill="#ecdfb2"/>
<rect x="1173.6" y="637.1" width="91.4" height="10.2" fill="#ede2ba"/>
<rect x="1264.5" y="637.1" width="91.4" height="10.2" fill="#ecdfb2"/>
<rect x="1355.3" y="637.1" width="45.9" height="10.2" fill="#ebddab"/>
<rect x="1400.7" y="637.1" width="45.9" height="10.2" fill="#ead89d"/>
<rect x="1446.2" y="637.1" width="45.9" height="10.2" fill="#e9d391"/>
<rect x="1491.6" y="637.1" width="45.9" height="10.2" fill="#e7cb7f"/>
<rect x="1537.0" y="637.1" width="45.9" height="10.2" fill="#e7c570"/>
<rect x="1582.5" y="637.1" width="45.9" height="10.2" fill="#e6bf61"/>
<rect x="1627.9" y="637.1" width="45.9" height="10.2" fill="#e6b756"/>
<rect x="1673.3" y="637.1" width="45.9" height="10.2" fill="#e5af4a"/>
<rect x="1718.7" y="637.1" width="45.9" height="10.2" fill="#e5a942"/>
<rect x="1764.2" y="637.1" width="45.9" height="10.2" fill="#e4a63d"/>
<rect x="1809.6" y="637.1" width="45.9" height="10.2" fill="#e4a035"/>
<rect x="1855.0" y="637.1" width="45.9" height="10.2" fill="#e39a30"/>
<rect x="1900.4" y="637.1" width="45.9" height="10.2" fill="#e3962d"/>
<rect x="1945.9" y="637.1" width="45.9" height="10.2" fill="#e29028"/>
<rect x="1991.3" y="637.1" width="45.9" height="10.2" fill="#e18621"/>
<rect x="2036.7" y="637.1" width="45.9" height="10.2" fill="#e07f1c"/>
<rect x="2082.1" y="637.1" width="45.9" height="10.2" fill="#de771a"/>
<rect x="2127.6" y="637.1" width="45.4" height="10.2" fill="#de7218"/>
<rect x="310.5" y="646.7" width="136.8" height="10.2" fill="#d35014"/>
<rect x="446.8" y="646.7" width="45.9" height="10.2" fill="#d75411"/>
<rect x="492.2" y="646.7" width="45.9" height="10.2" fill="#da6214"/>
<rect x="537.6" y="646.7" width="45.9" height="10.2" fill="#dc6916"/>
<rect x="583.1" y="646.7" width="45.9" height="10.2" fill="#dc6c17"/>
<rect x="628.5" y="646.7" width="45.9" height="10.2" fill="#de7319"/>
<rect x="673.9" y="646.7" width="45.9" height="10.2" fill="#e18621"/>
<rect x="719.3" y="646.7" width="45.9" height="10.2" fill="#e2942b"/>
<rect x="764.8" y="646.7" width="45.9" height="10.2" fill="#e49e34"/>
<rect x="810.2" y="646.7" width="45.9" height="10.2" fill="#e4a33a"/>
<rect x="855.6" y="646.7" width="45.9" height="10.2" fill="#e5a841"/>
<rect x="901.0" y="646.7" width="45.9" height="10.2" fill="#e5b04b"/>
<rect x="946.5" y="646.7" width="45.9" height="10.2" fill="#e6ba5a"/>
<rect x="991.9" y="646.7" width="45.9" height="10.2" fill="#e6c166"/>
<rect x="1037.3" y="646.7" width="45.9" height="10.2" fill="#e7c97a"/>
<rect x="1082.8" y="646.7" width="45.9" height="10.2" fill="#e9d391"/>
<rect x="1128.2" y="646.7" width="45.9" height="10.2" fill="#eadaa3"/>
<rect x="1173.6" y="646.7" width="136.8" height="10.2" fill="#ece0b4"/>
<rect x="1309.9" y="646.7" width="45.9" height="10.2" fill="#ecdfb2"/>
<rect x="1355.3" y="646.7" width="45.9" height="10.2" fill="#ebddab"/>
<rect x="1400.7" y="646.7" width="45.9" height="10.2" fill="#ead89d"/>
<rect x="1446.2" y="646.7" width="45.9" height="10.2" fill="#e8ce85"/>
<rect x="1491.6" y="646.7" width="45.9" height="10.2" fill="#e7c570"/>
<rect x="1537.0" y="646.7" width="45.9" height="10.2" fill="#e6bc5d"/>
<rect x="1582.5" y="646.7" width="45.9" height="10.2" fill="#e5b04b"/>
<rect x="1627.9" y="646.7" width="45.9" height="10.2" fill="#e5a841"/>
<rect x="1673.3" y="646.7" width="45.9" height="10.2" fill="#e49e34"/>
<rect x="1718.7" y="646.7" width="45.9" height="10.2" fill="#e3962d"/>
<rect x="1764.2" y="646.7" width="45.9" height="10.2" fill="#e18c25"/>
<rect x="1809.6" y="646.7" width="45.9" height="10.2" fill="#e1831f"/>
<rect x="1855.0" y="646.7" width="45.9" height="10.2" fill="#df7a1b"/>
<rect x="1900.4" y="646.7" width="45.9" height="10.2" fill="#dc6c17"/>
<rect x="1945.9" y="646.7" width="45.9" height="10.2" fill="#db6515"/>
<rect x="1991.3" y="646.7" width="45.9" height="10.2" fill="#d95b12"/>
<rect x="2036.7" y="646.7" width="45.9" height="10.2" fill="#d75411"/>
<rect x="2082.1" y="646.7" width="45.9" height="10.2" fill="#d35014"/>
<rect x="2127.6" y="646.7" width="45.4" height="10.2" fill="#d14d15"/>
<rect x="310.5" y="656.2" width="136.8" height="10.2" fill="#d14d15"/>
<rect x="446.8" y="656.2" width="45.9" height="10.2" fill="#d35014"/>
<rect x="492.2" y="656.2" width="45.9" height="10.2" fill="#d85712"/>
<rect x="537.6" y="656.2" width="45.9" height="10.2" fill="#d95b12"/>
<rect x="583.1" y="656.2" width="45.9" height="10.2" fill="#da5e13"/>
<rect x="628.5" y="656.2" width="45.9" height="10.2" fill="#db6515"/>
<rect x="673.9" y="656.2" width="45.9" height="10.2" fill="#de761a"/>
<rect x="719.3" y="656.2" width="45.9" height="10.2" fill="#e1831f"/>
<rect x="764.8" y="656.2" width="45.9" height="10.2" fill="#e28e27"/>
<rect x="810.2" y="656.2" width="45.9" height="10.2" fill="#e2942b"/>
<rect x="855.6" y="656.2" width="45.9" height="10.2" fill="#e3992f"/>
<rect x="901.0" y="656.2" width="45.9" height="10.2" fill="#e4a33a"/>
<rect x="946.5" y="656.2" width="45.9" height="10.2" fill="#e5b04b"/>
<rect x="991.9" y="656.2" width="45.9" height="10.2" fill="#e6bc5d"/>
<rect x="1037.3" y="656.2" width="45.9" height="10.2" fill="#e7c775"/>
<rect x="1082.8" y="656.2" width="45.9" height="10.2" fill="#e8d08b"/>
<rect x="1128.2" y="656.2" width="45.9" height="10.2" fill="#eadaa3"/>
<rect x="1173.6" y="656.2" width="45.9" height="10.2" fill="#ede2ba"/>
<rect x="1219.0" y="656.2" width="45.9" height="10.2" fill="#eee4c1"/>
<rect x="1264.5" y="656.2" width="45.9" height="10.2" fill="#efe7c9"/>
<rect x="1309.9" y="656.2" width="45.9" height="10.2" fill="#eee4c1"/>
<rect x="1355.3" y="656.2" width="45.9" height="10.2" fill="#ede2ba"/>
<rect x="1400.7" y="656.2" width="45.9" height="10.2" fill="#eadaa3"/>
<rect x="1446.2" y="656.2" width="45.9" height="10.2" fill="#e8ce85"/>
<rect x="1491.6" y="656.2" width="45.9" height="10.2" fill="#e7c570"/>
<rect x="1537.0" y="656.2" width="45.9" height="10.2" fill="#e6bc5d"/>
<rect x="1582.5" y="656.2" width="45.9" height="10.2" fill="#e5b04b"/>
<rect x="1627.9" y="656.2" width="45.9" height="10.2" fill="#e5a841"/>
<rect x="1673.3" y="656.2" width="45.9" height="10.2" fill="#e49e34"/>
<rect x="1718.7" y="656.2" width="45.9" height="10.2" fill="#e3962d"/>
<rect x="1764.2" y="656.2" width="45.9" height="10.2" fill="#e29129"/>
<rect x="1809.6" y="656.2" width="45.9" height="10.2" fill="#e18c25"/>
<rect x="1855.0" y="656.2" width="45.9" height="10.2" fill="#e0801d"/>
<rect x="1900.4" y="656.2" width="45.9" height="10.2" fill="#de761a"/>
<rect x="1945.9" y="656.2" width="45.9" height="10.2" fill="#dd7018"/>
<rect x="1991.3" y="656.2" width="45.9" height="10.2" fill="#dc6c17"/>
<rect x="2036.7" y="656.2" width="45.9" height="10.2" fill="#db6515"/>
<rect x="2082.1" y="656.2" width="45.9" height="10.2" fill="#d95b12"/>
<rect x="2127.6" y="656.2" width="45.4" height="10.2" fill="#d85712"/>
<rect x="310.5" y="665.8" width="45.9" height="10.2" fill="#dc6c17"/>
<rect x="355.9" y="665.8" width="45.9" height="10.2" fill="#dd7018"/>
<rect x="401.4" y="665.8" width="45.9" height="10.2" fill="#df7a1b"/>
<rect x="446.8" y="665.8" width="45.9" height="10.2" fill="#e1831f"/>
<rect x="492.2" y="665.8" width="45.9" height="10.2" fill="#e18c25"/>
<rect x="537.6" y="665.8" width="45.9" height="10.2" fill="#e28e27"/>
<rect x="583.1" y="665.8" width="45.9" height="10.2" fill="#e29129"/>
<rect x="628.5" y="665.8" width="45.9" height="10.2" fill="#e3962d"/>
<rect x="673.9" y="665.8" width="45.9" height="10.2" fill="#e4a136"/>
<rect x="719.3" y="665.8" width="45.9" height="10.2" fill="#e5ab44"/>
<rect x="764.8" y="665.8" width="45.9" height="10.2" fill="#e5b24f"/>
<rect x="810.2" y="665.8" width="45.9" height="10.2" fill="#e6ba5a"/>
<rect x="855.6" y="665.8" width="45.9" height="10.2" fill="#e6bf61"/>
<rect x="901.0" y="665.8" width="45.9" height="10.2" fill="#e6c36b"/>
<rect x="946.5" y="665.8" width="45.9" height="10.2" fill="#e7c775"/>
<rect x="991.9" y="665.8" width="45.9" height="10.2" fill="#e8ce85"/>
<rect x="1037.3" y="665.8" width="45.9" height="10.2" fill="#e9d79b"/>
<rect x="1082.8" y="665.8" width="45.9" height="10.2" fill="#ebddab"/>
<rect x="1128.2" y="665.8" width="45.9" height="10.2" fill="#eee3be"/>
<rect x="1173.6" y="665.8" width="45.9" height="10.2" fill="#efe6c7"/>
<rect x="1219.0" y="665.8" width="45.9" height="10.2" fill="#f0e9d0"/>
<rect x="1264.5" y="665.8" width="136.8" height="10.2" fill="#f1ebd7"/>
<rect x="1400.7" y="665.8" width="45.9" height="10.2" fill="#f0e9d0"/>
<rect x="1446.2" y="665.8" width="45.9" height="10.2" fill="#efe6c7"/>
<rect x="1491.6" y="665.8" width="91.4" height="10.2" fill="#eee3be"/>
<rect x="1582.5" y="665.8" width="45.9" height="10.2" fill="#ebddab"/>
<rect x="1627.9" y="665.8" width="45.9" height="10.2" fill="#e9d79b"/>
<rect x="1673.3" y="665.8" width="45.9" height="10.2" fill="#e8d18c"/>
<rect x="1718.7" y="665.8" width="45.9" height="10.2" fill="#e7cb7e"/>
<rect x="1764.2" y="665.8" width="45.9" height="10.2" fill="#e7c672"/>
<rect x="1809.6" y="665.8" width="45.9" height="10.2" fill="#e6c166"/>
<rect x="1855.0" y="665.8" width="45.9" height="10.2" fill="#e6bb5c"/>
<rect x="1900.4" y="665.8" width="45.9" height="10.2" fill="#e5b24f"/>
<rect x="1945.9" y="665.8" width="45.9" height="10.2" fill="#e5ad48"/>
<rect x="1991.3" y="665.8" width="45.9" height="10.2" fill="#e5a841"/>
<rect x="2036.7" y="665.8" width="45.9" height="10.2" fill="#e4a33a"/>
<rect x="2082.1" y="665.8" width="90.9" height="10.2" fill="#e4a136"/>
<rect x="310.5" y="675.3" width="136.8" height="10.2" fill="#d14d15"/>
<rect x="446.8" y="675.3" width="45.9" height="10.2" fill="#d75411"/>
<rect x="492.2" y="675.3" width="45.9" height="10.2" fill="#da6214"/>
<rect x="537.6" y="675.3" width="45.9" height="10.2" fill="#dc6916"/>
<rect x="583.1" y="675.3" width="45.9" height="10.2" fill="#dc6c17"/>
<rect x="628.5" y="675.3" width="45.9" height="10.2" fill="#de761a"/>
<rect x="673.9" y="675.3" width="45.9" height="10.2" fill="#e18c25"/>
<rect x="719.3" y="675.3" width="45.9" height="10.2" fill="#e39c32"/>
<rect x="764.8" y="675.3" width="45.9" height="10.2" fill="#e4a33a"/>
<rect x="810.2" y="675.3" width="45.9" height="10.2" fill="#e5ab44"/>
<rect x="855.6" y="675.3" width="45.9" height="10.2" fill="#e5b04b"/>
<rect x="901.0" y="675.3" width="45.9" height="10.2" fill="#e5b552"/>
<rect x="946.5" y="675.3" width="45.9" height="10.2" fill="#e6bf61"/>
<rect x="991.9" y="675.3" width="45.9" height="10.2" fill="#e8ce85"/>
<rect x="1037.3" y="675.3" width="45.9" height="10.2" fill="#eadaa2"/>
<rect x="1082.8" y="675.3" width="45.9" height="10.2" fill="#ece0b4"/>
<rect x="1128.2" y="675.3" width="45.9" height="10.2" fill="#f0e9d0"/>
<rect x="1173.6" y="675.3" width="91.4" height="10.2" fill="#f1ebd7"/>
<rect x="1264.5" y="675.3" width="136.8" height="10.2" fill="#f2eede"/>
<rect x="1400.7" y="675.3" width="45.9" height="10.2" fill="#f1ebd7"/>
<rect x="1446.2" y="675.3" width="45.9" height="10.2" fill="#f0e9d0"/>
<rect x="1491.6" y="675.3" width="45.9" height="10.2" fill="#efe6c7"/>
<rect x="1537.0" y="675.3" width="45.9" height="10.2" fill="#eee3be"/>
<rect x="1582.5" y="675.3" width="45.9" height="10.2" fill="#eadaa2"/>
<rect x="1627.9" y="675.3" width="45.9" height="10.2" fill="#e9d79b"/>
<rect x="1673.3" y="675.3" width="45.9" height="10.2" fill="#e8ce85"/>
<rect x="1718.7" y="675.3" width="45.9" height="10.2" fill="#e7c672"/>
<rect x="1764.2" y="675.3" width="45.9" height="10.2" fill="#e6be60"/>
<rect x="1809.6" y="675.3" width="45.9" height="10.2" fill="#e5b553"/>
<rect x="1855.0" y="675.3" width="45.9" height="10.2" fill="#e5a942"/>
<rect x="1900.4" y="675.3" width="45.9" height="10.2" fill="#e4a035"/>
<rect x="1945.9" y="675.3" width="45.9" height="10.2" fill="#e3962d"/>
<rect x="1991.3" y="675.3" width="45.9" height="10.2" fill="#e29028"/>
<rect x="2036.7" y="675.3" width="45.9" height="10.2" fill="#e18923"/>
<rect x="2082.1" y="675.3" width="45.9" height="10.2" fill="#e07f1c"/>
<rect x="2127.6" y="675.3" width="45.4" height="10.2" fill="#de771a"/>
<rect x="310.5" y="684.9" width="45.9" height="10.2" fill="#78214e"/>
<rect x="355.9" y="684.9" width="45.9" height="10.2" fill="#81224a"/>
<rect x="401.4" y="684.9" width="45.9" height="10.2" fill="#8c2443"/>
<rect x="446.8" y="684.9" width="45.9" height="10.2" fill="#992738"/>
<rect x="492.2" y="684.9" width="45.9" height="10.2" fill="#ac2f2c"/>
<rect x="537.6" y="684.9" width="45.9" height="10.2" fill="#bb3924"/>
<rect x="583.1" y="684.9" width="45.9" height="10.2" fill="#c9441b"/>
<rect x="628.5" y="684.9" width="45.9" height="10.2" fill="#d55213"/>
<rect x="673.9" y="684.9" width="45.9" height="10.2" fill="#db6515"/>
<rect x="719.3" y="684.9" width="45.9" height="10.2" fill="#de761a"/>
<rect x="764.8" y="684.9" width="45.9" height="10.2" fill="#e18621"/>
<rect x="810.2" y="684.9" width="45.9" height="10.2" fill="#e28e27"/>
<rect x="855.6" y="684.9" width="45.9" height="10.2" fill="#e3992f"/>
<rect x="901.0" y="684.9" width="45.9" height="10.2" fill="#e4a33a"/>
<rect x="946.5" y="684.9" width="45.9" height="10.2" fill="#e5b04b"/>
<rect x="991.9" y="684.9" width="45.9" height="10.2" fill="#e6bf61"/>
<rect x="1037.3" y="684.9" width="45.9" height="10.2" fill="#e7c97a"/>
<rect x="1082.8" y="684.9" width="45.9" height="10.2" fill="#e9d597"/>
<rect x="1128.2" y="684.9" width="45.9" height="10.2" fill="#ecdfb2"/>
<rect x="1173.6" y="684.9" width="45.9" height="10.2" fill="#eee3be"/>
<rect x="1219.0" y="684.9" width="136.8" height="10.2" fill="#efe6c7"/>
<rect x="1355.3" y="684.9" width="45.9" height="10.2" fill="#f1ebd7"/>
<rect x="1400.7" y="684.9" width="45.9" height="10.2" fill="#ebddab"/>
<rect x="1446.2" y="684.9" width="45.9" height="10.2" fill="#e9d494"/>
<rect x="1491.6" y="684.9" width="45.9" height="10.2" fill="#e9d391"/>
<rect x="1537.0" y="684.9" width="45.9" height="10.2" fill="#e7c97a"/>
<rect x="1582.5" y="684.9" width="45.9" height="10.2" fill="#e6bf61"/>
<rect x="1627.9" y="684.9" width="45.9" height="10.2" fill="#e5b552"/>
<rect x="1673.3" y="684.9" width="45.9" height="10.2" fill="#e5ab44"/>
<rect x="1718.7" y="684.9" width="45.9" height="10.2" fill="#e4a136"/>
<rect x="1764.2" y="684.9" width="45.9" height="10.2" fill="#e2942b"/>
<rect x="1809.6" y="684.9" width="45.9" height="10.2" fill="#e18621"/>
<rect x="1855.0" y="684.9" width="45.9" height="10.2" fill="#de761a"/>
<rect x="1900.4" y="684.9" width="45.9" height="10.2" fill="#da6214"/>
<rect x="1945.9" y="684.9" width="45.9" height="10.2" fill="#d75411"/>
<rect x="1991.3" y="684.9" width="45.9" height="10.2" fill="#cf4b17"/>
<rect x="2036.7" y="684.9" width="45.9" height="10.2" fill="#c9441b"/>
<rect x="2082.1" y="684.9" width="45.9" height="10.2" fill="#c33f1f"/>
<rect x="2127.6" y="684.9" width="45.4" height="10.2" fill="#be3b22"/>
<rect x="310.5" y="694.4" width="45.9" height="10.2" fill="#701e4e"/>
<rect x="355.9" y="694.4" width="45.9" height="10.2" fill="#7e224b"/>
<rect x="401.4" y="694.4" width="45.9" height="10.2" fill="#892345"/>
<rect x="446.8" y="694.4" width="45.9" height="10.2" fill="#96253a"/>
<rect x="492.2" y="694.4" width="45.9" height="10.2" fill="#ac2f2c"/>
<rect x="537.6" y="694.4" width="45.9" height="10.2" fill="#bb3924"/>
<rect x="583.1" y="694.4" width="45.9" height="10.2" fill="#c9441b"/>
<rect x="628.5" y="694.4" width="45.9" height="10.2" fill="#d55213"/>
<rect x="673.9" y="694.4" width="45.9" height="10.2" fill="#db6515"/>
<rect x="719.3" y="694.4" width="45.9" height="10.2" fill="#de761a"/>
<rect x="764.8" y="694.4" width="45.9" height="10.2" fill="#e18621"/>
<rect x="810.2" y="694.4" width="45.9" height="10.2" fill="#e28e27"/>
<rect x="855.6" y="694.4" width="45.9" height="10.2" fill="#e3992f"/>
<rect x="901.0" y="694.4" width="45.9" height="10.2" fill="#e4a33a"/>
<rect x="946.5" y="694.4" width="45.9" height="10.2" fill="#e5b04b"/>
<rect x="991.9" y="694.4" width="45.9" height="10.2" fill="#e6bf61"/>
<rect x="1037.3" y="694.4" width="45.9" height="10.2" fill="#e7c97a"/>
<rect x="1082.8" y="694.4" width="45.9" height="10.2" fill="#e9d391"/>
<rect x="1128.2" y="694.4" width="45.9" height="10.2" fill="#eadaa3"/>
<rect x="1173.6" y="694.4" width="45.9" height="10.2" fill="#ece0b4"/>
<rect x="1219.0" y="694.4" width="136.8" height="10.2" fill="#ebddab"/>
<rect x="1355.3" y="694.4" width="45.9" height="10.2" fill="#eadaa2"/>
<rect x="1400.7" y="694.4" width="45.9" height="10.2" fill="#e8d18c"/>
<rect x="1446.2" y="694.4" width="45.9" height="10.2" fill="#e7c878"/>
<rect x="1491.6" y="694.4" width="45.9" height="10.2" fill="#e7c570"/>
<rect x="1537.0" y="694.4" width="45.9" height="10.2" fill="#e6b857"/>
<rect x="1582.5" y="694.4" width="45.9" height="10.2" fill="#e5ac46"/>
<rect x="1627.9" y="694.4" width="45.9" height="10.2" fill="#e4a035"/>
<rect x="1673.3" y="694.4" width="45.9" height="10.2" fill="#e3962d"/>
<rect x="1718.7" y="694.4" width="45.9" height="10.2" fill="#e18923"/>
<rect x="1764.2" y="694.4" width="45.9" height="10.2" fill="#e07f1c"/>
<rect x="1809.6" y="694.4" width="45.9" height="10.2" fill="#dd6e17"/>
<rect x="1855.0" y="694.4" width="45.9" height="10.2" fill="#d95912"/>
<rect x="1900.4" y="694.4" width="45.9" height="10.2" fill="#d55213"/>
<rect x="1945.9" y="694.4" width="45.9" height="10.2" fill="#cf4b17"/>
<rect x="1991.3" y="694.4" width="45.9" height="10.2" fill="#c9441b"/>
<rect x="2036.7" y="694.4" width="45.9" height="10.2" fill="#c13d21"/>
<rect x="2082.1" y="694.4" width="45.9" height="10.2" fill="#b53527"/>
<rect x="2127.6" y="694.4" width="45.4" height="10.2" fill="#af312b"/>
<rect x="310.5" y="704.0" width="136.8" height="10.2" fill="#e3962d"/>
<rect x="446.8" y="704.0" width="45.9" height="10.2" fill="#e39a30"/>
<rect x="492.2" y="704.0" width="45.9" height="10.2" fill="#e49d32"/>
<rect x="537.6" y="704.0" width="91.4" height="10.2" fill="#e4a035"/>
<rect x="628.5" y="704.0" width="45.9" height="10.2" fill="#e4a339"/>
<rect x="673.9" y="704.0" width="45.9" height="10.2" fill="#e4a63d"/>
<rect x="719.3" y="704.0" width="91.4" height="10.2" fill="#e5ac46"/>
<rect x="810.2" y="704.0" width="136.8" height="10.2" fill="#e5af4a"/>
<rect x="946.5" y="704.0" width="45.9" height="10.2" fill="#e5b24e"/>
<rect x="991.9" y="704.0" width="45.9" height="10.2" fill="#e5af4a"/>
<rect x="1037.3" y="704.0" width="45.9" height="10.2" fill="#e5b24e"/>
<rect x="1082.8" y="704.0" width="45.9" height="10.2" fill="#e5b553"/>
<rect x="1128.2" y="704.0" width="500.2" height="10.2" fill="#e6b857"/>
<rect x="1627.9" y="704.0" width="45.9" height="10.2" fill="#e6b756"/>
<rect x="1673.3" y="704.0" width="136.8" height="10.2" fill="#e5b552"/>
<rect x="1809.6" y="704.0" width="45.9" height="10.2" fill="#e5b24f"/>
<rect x="1855.0" y="704.0" width="318.0" height="10.2" fill="#e5b04b"/>
<rect x="310.5" y="713.5" width="136.8" height="10.2" fill="#be3b22"/>
<rect x="446.8" y="713.5" width="45.9" height="10.2" fill="#c13d21"/>
<rect x="492.2" y="713.5" width="45.9" height="10.2" fill="#c5411e"/>
<rect x="537.6" y="713.5" width="91.4" height="10.2" fill="#c7431c"/>
<rect x="628.5" y="713.5" width="45.9" height="10.2" fill="#c9441b"/>
<rect x="673.9" y="713.5" width="45.9" height="10.2" fill="#cf4b17"/>
<rect x="719.3" y="713.5" width="45.9" height="10.2" fill="#d55213"/>
<rect x="764.8" y="713.5" width="45.9" height="10.2" fill="#d95b12"/>
<rect x="810.2" y="713.5" width="45.9" height="10.2" fill="#db6515"/>
<rect x="855.6" y="713.5" width="45.9" height="10.2" fill="#dd7018"/>
<rect x="901.0" y="713.5" width="45.9" height="10.2" fill="#e07d1c"/>
<rect x="946.5" y="713.5" width="45.9" height="10.2" fill="#e18c25"/>
<rect x="991.9" y="713.5" width="45.9" height="10.2" fill="#e2942b"/>
<rect x="1037.3" y="713.5" width="45.9" height="10.2" fill="#e39c32"/>
<rect x="1082.8" y="713.5" width="45.9" height="10.2" fill="#e4a33a"/>
<rect x="1128.2" y="713.5" width="45.9" height="10.2" fill="#e5ab44"/>
<rect x="1173.6" y="713.5" width="45.9" height="10.2" fill="#e5b552"/>
<rect x="1219.0" y="713.5" width="45.9" height="10.2" fill="#e6bc5d"/>
<rect x="1264.5" y="713.5" width="227.6" height="10.2" fill="#e6bf61"/>
<rect x="1491.6" y="713.5" width="45.9" height="10.2" fill="#e6bc5d"/>
<rect x="1537.0" y="713.5" width="45.9" height="10.2" fill="#e6b756"/>
<rect x="1582.5" y="713.5" width="45.9" height="10.2" fill="#e5b04b"/>
<rect x="1627.9" y="713.5" width="45.9" height="10.2" fill="#e4a63d"/>
<rect x="1673.3" y="713.5" width="45.9" height="10.2" fill="#e39c32"/>
<rect x="1718.7" y="713.5" width="45.9" height="10.2" fill="#e29129"/>
<rect x="1764.2" y="713.5" width="45.9" height="10.2" fill="#e18c25"/>
<rect x="1809.6" y="713.5" width="45.9" height="10.2" fill="#e18621"/>
<rect x="1855.0" y="713.5" width="45.9" height="10.2" fill="#e07d1c"/>
<rect x="1900.4" y="713.5" width="45.9" height="10.2" fill="#de761a"/>
<rect x="1945.9" y="713.5" width="45.9" height="10.2" fill="#dc6c17"/>
<rect x="1991.3" y="713.5" width="45.9" height="10.2" fill="#da6214"/>
<rect x="2036.7" y="713.5" width="45.9" height="10.2" fill="#d85712"/>
<rect x="2082.1" y="713.5" width="45.9" height="10.2" fill="#d35014"/>
<rect x="2127.6" y="713.5" width="45.4" height="10.2" fill="#d14d15"/>
<rect x="310.5" y="723.1" width="136.8" height="10.2" fill="#e29129"/>
<rect x="446.8" y="723.1" width="45.9" height="10.2" fill="#e2942b"/>
<rect x="492.2" y="723.1" width="45.9" height="10.2" fill="#e3962d"/>
<rect x="537.6" y="723.1" width="136.8" height="10.2" fill="#e3992f"/>
<rect x="673.9" y="723.1" width="45.9" height="10.2" fill="#e49e34"/>
<rect x="719.3" y="723.1" width="45.9" height="10.2" fill="#e4a33a"/>
<rect x="764.8" y="723.1" width="91.4" height="10.2" fill="#e5a841"/>
<rect x="855.6" y="723.1" width="45.9" height="10.2" fill="#e5ab44"/>
<rect x="901.0" y="723.1" width="45.9" height="10.2" fill="#e5ad48"/>
<rect x="946.5" y="723.1" width="45.9" height="10.2" fill="#e5b552"/>
<rect x="991.9" y="723.1" width="45.9" height="10.2" fill="#e6c36c"/>
<rect x="1037.3" y="723.1" width="91.4" height="10.2" fill="#e7c878"/>
<rect x="1128.2" y="723.1" width="45.9" height="10.2" fill="#e8ce85"/>
<rect x="1173.6" y="723.1" width="182.2" height="10.2" fill="#e9d494"/>
<rect x="1355.3" y="723.1" width="45.9" height="10.2" fill="#e8d18c"/>
<rect x="1400.7" y="723.1" width="91.4" height="10.2" fill="#e8ce85"/>
<rect x="1491.6" y="723.1" width="45.9" height="10.2" fill="#e8d08b"/>
<rect x="1537.0" y="723.1" width="45.9" height="10.2" fill="#e7cb7f"/>
<rect x="1582.5" y="723.1" width="45.9" height="10.2" fill="#e7c97a"/>
<rect x="1627.9" y="723.1" width="45.9" height="10.2" fill="#e7c570"/>
<rect x="1673.3" y="723.1" width="45.9" height="10.2" fill="#e6c36b"/>
<rect x="1718.7" y="723.1" width="45.9" height="10.2" fill="#e6c166"/>
<rect x="1764.2" y="723.1" width="45.9" height="10.2" fill="#e6ba5a"/>
<rect x="1809.6" y="723.1" width="45.9" height="10.2" fill="#e5b552"/>
<rect x="1855.0" y="723.1" width="45.9" height="10.2" fill="#e5ad48"/>
<rect x="1900.4" y="723.1" width="45.9" height="10.2" fill="#e5a841"/>
<rect x="1945.9" y="723.1" width="45.9" height="10.2" fill="#e4a63d"/>
<rect x="1991.3" y="723.1" width="45.9" height="10.2" fill="#e4a136"/>
<rect x="2036.7" y="723.1" width="45.9" height="10.2" fill="#e49e34"/>
<rect x="2082.1" y="723.1" width="45.9" height="10.2" fill="#e3992f"/>
<rect x="2127.6" y="723.1" width="45.4" height="10.2" fill="#e3962d"/>
<rect x="310.5" y="732.7" width="136.8" height="10.2" fill="#e18621"/>
<rect x="446.8" y="732.7" width="45.9" height="10.2" fill="#e18c25"/>
<rect x="492.2" y="732.7" width="45.9" height="10.2" fill="#e2942b"/>
<rect x="537.6" y="732.7" width="91.4" height="10.2" fill="#e3992f"/>
<rect x="628.5" y="732.7" width="45.9" height="10.2" fill="#e49e34"/>
<rect x="673.9" y="732.7" width="45.9" height="10.2" fill="#e5ab44"/>
<rect x="719.3" y="732.7" width="45.9" height="10.2" fill="#e6b756"/>
<rect x="764.8" y="732.7" width="45.9" height="10.2" fill="#e6c166"/>
<rect x="810.2" y="732.7" width="45.9" height="10.2" fill="#e7c570"/>
<rect x="855.6" y="732.7" width="45.9" height="10.2" fill="#e7c775"/>
<rect x="901.0" y="732.7" width="45.9" height="10.2" fill="#e7c97a"/>
<rect x="946.5" y="732.7" width="45.9" height="10.2" fill="#e8d08b"/>
<rect x="991.9" y="732.7" width="45.9" height="10.2" fill="#e9d391"/>
<rect x="1037.3" y="732.7" width="45.9" height="10.2" fill="#e9d597"/>
<rect x="1082.8" y="732.7" width="45.9" height="10.2" fill="#ead89d"/>
<rect x="1128.2" y="732.7" width="45.9" height="10.2" fill="#ebddab"/>
<rect x="1173.6" y="732.7" width="45.9" height="10.2" fill="#ede2ba"/>
<rect x="1219.0" y="732.7" width="45.9" height="10.2" fill="#eee4c1"/>
<rect x="1264.5" y="732.7" width="45.9" height="10.2" fill="#ede2ba"/>
<rect x="1309.9" y="732.7" width="45.9" height="10.2" fill="#eadaa3"/>
<rect x="1355.3" y="732.7" width="91.4" height="10.2" fill="#e9d597"/>
<rect x="1446.2" y="732.7" width="45.9" height="10.2" fill="#e9d391"/>
<rect x="1491.6" y="732.7" width="45.9" height="10.2" fill="#e8d08b"/>
<rect x="1537.0" y="732.7" width="45.9" height="10.2" fill="#e8ce85"/>
<rect x="1582.5" y="732.7" width="45.9" height="10.2" fill="#e7c97a"/>
<rect x="1627.9" y="732.7" width="45.9" height="10.2" fill="#e6c36b"/>
<rect x="1673.3" y="732.7" width="45.9" height="10.2" fill="#e6ba5a"/>
<rect x="1718.7" y="732.7" width="45.9" height="10.2" fill="#e5b04b"/>
<rect x="1764.2" y="732.7" width="45.9" height="10.2" fill="#e5ab44"/>
<rect x="1809.6" y="732.7" width="45.9" height="10.2" fill="#e4a63d"/>
<rect x="1855.0" y="732.7" width="45.9" height="10.2" fill="#e4a33a"/>
<rect x="1900.4" y="732.7" width="45.9" height="10.2" fill="#e4a136"/>
<rect x="1945.9" y="732.7" width="45.9" height="10.2" fill="#e49e34"/>
<rect x="1991.3" y="732.7" width="45.9" height="10.2" fill="#e3992f"/>
<rect x="2036.7" y="732.7" width="45.9" height="10.2" fill="#e29129"/>
<rect x="2082.1" y="732.7" width="45.9" height="10.2" fill="#e18c25"/>
<rect x="2127.6" y="732.7" width="45.4" height="10.2" fill="#e18621"/>
<rect x="310.5" y="742.2" width="45.9" height="10.2" fill="#c5411e"/>
<rect x="355.9" y="742.2" width="45.9" height="10.2" fill="#c7431c"/>
<rect x="401.4" y="742.2" width="45.9" height="10.2" fill="#cd4918"/>
<rect x="446.8" y="742.2" width="45.9" height="10.2" fill="#d55213"/>
<rect x="492.2" y="742.2" width="45.9" height="10.2" fill="#da6214"/>
<rect x="537.6" y="742.2" width="45.9" height="10.2" fill="#dd7018"/>
<rect x="583.1" y="742.2" width="45.9" height="10.2" fill="#df7a1b"/>
<rect x="628.5" y="742.2" width="45.9" height="10.2" fill="#e1831f"/>
<rect x="673.9" y="742.2" width="45.9" height="10.2" fill="#e29129"/>
<rect x="719.3" y="742.2" width="45.9" height="10.2" fill="#e4a136"/>
<rect x="764.8" y="742.2" width="45.9" height="10.2" fill="#e5ad48"/>
<rect x="810.2" y="742.2" width="45.9" height="10.2" fill="#e6ba5a"/>
<rect x="855.6" y="742.2" width="45.9" height="10.2" fill="#e6bf61"/>
<rect x="901.0" y="742.2" width="45.9" height="10.2" fill="#e6c36b"/>
<rect x="946.5" y="742.2" width="45.9" height="10.2" fill="#e7c97a"/>
<rect x="991.9" y="742.2" width="45.9" height="10.2" fill="#e8d08b"/>
<rect x="1037.3" y="742.2" width="45.9" height="10.2" fill="#ead89d"/>
<rect x="1082.8" y="742.2" width="45.9" height="10.2" fill="#ecdfb2"/>
<rect x="1128.2" y="742.2" width="45.9" height="10.2" fill="#efe7c9"/>
<rect x="1173.6" y="742.2" width="45.9" height="10.2" fill="#f2eede"/>
<rect x="1219.0" y="742.2" width="45.9" height="10.2" fill="#efe6c7"/>
<rect x="1264.5" y="742.2" width="45.9" height="10.2" fill="#ece0b4"/>
<rect x="1309.9" y="742.2" width="45.9" height="10.2" fill="#eadaa2"/>
<rect x="1355.3" y="742.2" width="45.9" height="10.2" fill="#e8d18c"/>
<rect x="1400.7" y="742.2" width="45.9" height="10.2" fill="#e8ce85"/>
<rect x="1446.2" y="742.2" width="45.9" height="10.2" fill="#e7c878"/>
<rect x="1491.6" y="742.2" width="45.9" height="10.2" fill="#e7c775"/>
<rect x="1537.0" y="742.2" width="45.9" height="10.2" fill="#e6c36b"/>
<rect x="1582.5" y="742.2" width="45.9" height="10.2" fill="#e6b756"/>
<rect x="1627.9" y="742.2" width="45.9" height="10.2" fill="#e5ab44"/>
<rect x="1673.3" y="742.2" width="45.9" height="10.2" fill="#e4a136"/>
<rect x="1718.7" y="742.2" width="45.9" height="10.2" fill="#e2942b"/>
<rect x="1764.2" y="742.2" width="45.9" height="10.2" fill="#e18c25"/>
<rect x="1809.6" y="742.2" width="45.9" height="10.2" fill="#e0801d"/>
<rect x="1855.0" y="742.2" width="45.9" height="10.2" fill="#de761a"/>
<rect x="1900.4" y="742.2" width="45.9" height="10.2" fill="#dc6916"/>
<rect x="1945.9" y="742.2" width="45.9" height="10.2" fill="#d95b12"/>
<rect x="1991.3" y="742.2" width="45.9" height="10.2" fill="#d55213"/>
<rect x="2036.7" y="742.2" width="45.9" height="10.2" fill="#cd4918"/>
<rect x="2082.1" y="742.2" width="45.9" height="10.2" fill="#c13d21"/>
<rect x="2127.6" y="742.2" width="45.4" height="10.2" fill="#b83726"/>
<rect x="310.5" y="751.8" width="45.9" height="10.2" fill="#d85712"/>
<rect x="355.9" y="751.8" width="45.9" height="10.2" fill="#d95b12"/>
<rect x="401.4" y="751.8" width="45.9" height="10.2" fill="#db6515"/>
<rect x="446.8" y="751.8" width="45.9" height="10.2" fill="#de7319"/>
<rect x="492.2" y="751.8" width="45.9" height="10.2" fill="#e0801d"/>
<rect x="537.6" y="751.8" width="45.9" height="10.2" fill="#e18923"/>
<rect x="583.1" y="751.8" width="45.9" height="10.2" fill="#e29129"/>
<rect x="628.5" y="751.8" width="45.9" height="10.2" fill="#e39c32"/>
<rect x="673.9" y="751.8" width="45.9" height="10.2" fill="#e4a63d"/>
<rect x="719.3" y="751.8" width="45.9" height="10.2" fill="#e5b24f"/>
<rect x="764.8" y="751.8" width="45.9" height="10.2" fill="#e6bf61"/>
<rect x="810.2" y="751.8" width="45.9" height="10.2" fill="#e7c775"/>
<rect x="855.6" y="751.8" width="45.9" height="10.2" fill="#e7cb7f"/>
<rect x="901.0" y="751.8" width="45.9" height="10.2" fill="#e8ce85"/>
<rect x="946.5" y="751.8" width="45.9" height="10.2" fill="#e8d08b"/>
<rect x="991.9" y="751.8" width="45.9" height="10.2" fill="#e9d597"/>
<rect x="1037.3" y="751.8" width="45.9" height="10.2" fill="#ebddab"/>
<rect x="1082.8" y="751.8" width="45.9" height="10.2" fill="#eee3be"/>
<rect x="1128.2" y="751.8" width="45.9" height="10.2" fill="#f0e9d0"/>
<rect x="1173.6" y="751.8" width="45.9" height="10.2" fill="#f1ebd7"/>
<rect x="1219.0" y="751.8" width="45.9" height="10.2" fill="#f0e9d0"/>
<rect x="1264.5" y="751.8" width="45.9" height="10.2" fill="#efe6c7"/>
<rect x="1309.9" y="751.8" width="182.2" height="10.2" fill="#ece0b4"/>
<rect x="1491.6" y="751.8" width="45.9" height="10.2" fill="#ebddab"/>
<rect x="1537.0" y="751.8" width="45.9" height="10.2" fill="#ead89d"/>
<rect x="1582.5" y="751.8" width="45.9" height="10.2" fill="#e9d391"/>
<rect x="1627.9" y="751.8" width="45.9" height="10.2" fill="#e7cb7f"/>
<rect x="1673.3" y="751.8" width="45.9" height="10.2" fill="#e7c570"/>
<rect x="1718.7" y="751.8" width="45.9" height="10.2" fill="#e6bf61"/>
<rect x="1764.2" y="751.8" width="45.9" height="10.2" fill="#e6b756"/>
<rect x="1809.6" y="751.8" width="45.9" height="10.2" fill="#e5b04b"/>
<rect x="1855.0" y="751.8" width="45.9" height="10.2" fill="#e5ab44"/>
<rect x="1900.4" y="751.8" width="45.9" height="10.2" fill="#e4a63d"/>
<rect x="1945.9" y="751.8" width="45.9" height="10.2" fill="#e4a33a"/>
<rect x="1991.3" y="751.8" width="45.9" height="10.2" fill="#e39c32"/>
<rect x="2036.7" y="751.8" width="45.9" height="10.2" fill="#e3962d"/>
<rect x="2082.1" y="751.8" width="45.9" height="10.2" fill="#e2942b"/>
<rect x="2127.6" y="751.8" width="45.4" height="10.2" fill="#e29129"/>
<rect x="310.5" y="761.3" width="91.4" height="10.2" fill="#e07d1c"/>
<rect x="401.4" y="761.3" width="45.9" height="10.2" fill="#e0801d"/>
<rect x="446.8" y="761.3" width="45.9" height="10.2" fill="#e1831f"/>
<rect x="492.2" y="761.3" width="45.9" height="10.2" fill="#e18c25"/>
<rect x="537.6" y="761.3" width="45.9" height="10.2" fill="#e28e27"/>
<rect x="583.1" y="761.3" width="45.9" height="10.2" fill="#e29129"/>
<rect x="628.5" y="761.3" width="45.9" height="10.2" fill="#e3962d"/>
<rect x="673.9" y="761.3" width="45.9" height="10.2" fill="#e4a136"/>
<rect x="719.3" y="761.3" width="45.9" height="10.2" fill="#e5ab44"/>
<rect x="764.8" y="761.3" width="45.9" height="10.2" fill="#e5b24f"/>
<rect x="810.2" y="761.3" width="45.9" height="10.2" fill="#e6ba5a"/>
<rect x="855.6" y="761.3" width="45.9" height="10.2" fill="#e6bf61"/>
<rect x="901.0" y="761.3" width="45.9" height="10.2" fill="#e6c36b"/>
<rect x="946.5" y="761.3" width="45.9" height="10.2" fill="#e7c97a"/>
<rect x="991.9" y="761.3" width="45.9" height="10.2" fill="#e8d08b"/>
<rect x="1037.3" y="761.3" width="45.9" height="10.2" fill="#e9d597"/>
<rect x="1082.8" y="761.3" width="45.9" height="10.2" fill="#eadaa3"/>
<rect x="1128.2" y="761.3" width="45.9" height="10.2" fill="#ebddab"/>
<rect x="1173.6" y="761.3" width="227.6" height="10.2" fill="#ecdfb2"/>
<rect x="1400.7" y="761.3" width="45.9" height="10.2" fill="#ebddab"/>
<rect x="1446.2" y="761.3" width="45.9" height="10.2" fill="#eadaa3"/>
<rect x="1491.6" y="761.3" width="45.9" height="10.2" fill="#ead89d"/>
<rect x="1537.0" y="761.3" width="45.9" height="10.2" fill="#e9d391"/>
<rect x="1582.5" y="761.3" width="45.9" height="10.2" fill="#e8ce85"/>
<rect x="1627.9" y="761.3" width="45.9" height="10.2" fill="#e7c97a"/>
<rect x="1673.3" y="761.3" width="45.9" height="10.2" fill="#e6c36b"/>
<rect x="1718.7" y="761.3" width="45.9" height="10.2" fill="#e6bc5d"/>
<rect x="1764.2" y="761.3" width="45.9" height="10.2" fill="#e6b756"/>
<rect x="1809.6" y="761.3" width="45.9" height="10.2" fill="#e5b04b"/>
<rect x="1855.0" y="761.3" width="45.9" height="10.2" fill="#e5ab44"/>
<rect x="1900.4" y="761.3" width="45.9" height="10.2" fill="#e4a63d"/>
<rect x="1945.9" y="761.3" width="45.9" height="10.2" fill="#e4a33a"/>
<rect x="1991.3" y="761.3" width="45.9" height="10.2" fill="#e39c32"/>
<rect x="2036.7" y="761.3" width="45.9" height="10.2" fill="#e3962d"/>
<rect x="2082.1" y="761.3" width="45.9" height="10.2" fill="#e28e27"/>
<rect x="2127.6" y="761.3" width="45.4" height="10.2" fill="#e18923"/>
<rect x="310.5" y="770.9" width="91.4" height="10.2" fill="#d75411"/>
<rect x="401.4" y="770.9" width="45.9" height="10.2" fill="#d85712"/>
<rect x="446.8" y="770.9" width="45.9" height="10.2" fill="#d95b12"/>
<rect x="492.2" y="770.9" width="45.9" height="10.2" fill="#dc6916"/>
<rect x="537.6" y="770.9" width="45.9" height="10.2" fill="#de761a"/>
<rect x="583.1" y="770.9" width="45.9" height="10.2" fill="#e07d1c"/>
<rect x="628.5" y="770.9" width="45.9" height="10.2" fill="#e18621"/>
<rect x="673.9" y="770.9" width="45.9" height="10.2" fill="#e29129"/>
<rect x="719.3" y="770.9" width="45.9" height="10.2" fill="#e4a136"/>
<rect x="764.8" y="770.9" width="45.9" height="10.2" fill="#e5ab44"/>
<rect x="810.2" y="770.9" width="45.9" height="10.2" fill="#e5b24f"/>
<rect x="855.6" y="770.9" width="45.9" height="10.2" fill="#e6b756"/>
<rect x="901.0" y="770.9" width="45.9" height="10.2" fill="#e6bc5d"/>
<rect x="946.5" y="770.9" width="45.9" height="10.2" fill="#e6c36b"/>
<rect x="991.9" y="770.9" width="45.9" height="10.2" fill="#e6be60"/>
<rect x="1037.3" y="770.9" width="45.9" height="10.2" fill="#e6c36c"/>
<rect x="1082.8" y="770.9" width="45.9" height="10.2" fill="#e7cb7e"/>
<rect x="1128.2" y="770.9" width="45.9" height="10.2" fill="#e8d18c"/>
<rect x="1173.6" y="770.9" width="45.9" height="10.2" fill="#e9d494"/>
<rect x="1219.0" y="770.9" width="91.4" height="10.2" fill="#e8d18c"/>
<rect x="1309.9" y="770.9" width="91.4" height="10.2" fill="#e7cb7e"/>
<rect x="1400.7" y="770.9" width="91.4" height="10.2" fill="#e7c672"/>
<rect x="1491.6" y="770.9" width="45.9" height="10.2" fill="#e6c166"/>
<rect x="1537.0" y="770.9" width="45.9" height="10.2" fill="#e6be60"/>
<rect x="1582.5" y="770.9" width="45.9" height="10.2" fill="#e5b553"/>
<rect x="1627.9" y="770.9" width="45.9" height="10.2" fill="#e5ac46"/>
<rect x="1673.3" y="770.9" width="45.9" height="10.2" fill="#e4a339"/>
<rect x="1718.7" y="770.9" width="45.9" height="10.2" fill="#e3962d"/>
<rect x="1764.2" y="770.9" width="45.9" height="10.2" fill="#e28d26"/>
<rect x="1809.6" y="770.9" width="45.9" height="10.2" fill="#e1831f"/>
<rect x="1855.0" y="770.9" width="45.9" height="10.2" fill="#df7a1b"/>
<rect x="1900.4" y="770.9" width="45.9" height="10.2" fill="#dc6c17"/>
<rect x="1945.9" y="770.9" width="45.9" height="10.2" fill="#db6515"/>
<rect x="1991.3" y="770.9" width="45.9" height="10.2" fill="#d95b12"/>
<rect x="2036.7" y="770.9" width="45.9" height="10.2" fill="#d35014"/>
<rect x="2082.1" y="770.9" width="45.9" height="10.2" fill="#c9441b"/>
<rect x="2127.6" y="770.9" width="45.4" height="10.2" fill="#c5411e"/>
<rect x="310.5" y="780.4" width="136.8" height="10.2" fill="#c7431c"/>
<rect x="446.8" y="780.4" width="45.9" height="10.2" fill="#c9441b"/>
<rect x="492.2" y="780.4" width="45.9" height="10.2" fill="#cb4619"/>
<rect x="537.6" y="780.4" width="45.9" height="10.2" fill="#cf4b17"/>
<rect x="583.1" y="780.4" width="45.9" height="10.2" fill="#d55213"/>
<rect x="628.5" y="780.4" width="45.9" height="10.2" fill="#d95b12"/>
<rect x="673.9" y="780.4" width="45.9" height="10.2" fill="#dc6c17"/>
<rect x="719.3" y="780.4" width="45.9" height="10.2" fill="#e07d1c"/>
<rect x="764.8" y="780.4" width="45.9" height="10.2" fill="#e18c25"/>
<rect x="810.2" y="780.4" width="45.9" height="10.2" fill="#e2942b"/>
<rect x="855.6" y="780.4" width="45.9" height="10.2" fill="#e3992f"/>
<rect x="901.0" y="780.4" width="45.9" height="10.2" fill="#e49e34"/>
<rect x="946.5" y="780.4" width="45.9" height="10.2" fill="#e4a63d"/>
<rect x="991.9" y="780.4" width="45.9" height="10.2" fill="#e4a035"/>
<rect x="1037.3" y="780.4" width="45.9" height="10.2" fill="#e5af4a"/>
<rect x="1082.8" y="780.4" width="45.9" height="10.2" fill="#e6b857"/>
<rect x="1128.2" y="780.4" width="45.9" height="10.2" fill="#e6be60"/>
<rect x="1173.6" y="780.4" width="227.6" height="10.2" fill="#e6c36c"/>
<rect x="1400.7" y="780.4" width="91.4" height="10.2" fill="#e6be60"/>
<rect x="1491.6" y="780.4" width="45.9" height="10.2" fill="#e6bb5c"/>
<rect x="1537.0" y="780.4" width="45.9" height="10.2" fill="#e6b857"/>
<rect x="1582.5" y="780.4" width="45.9" height="10.2" fill="#e5af4a"/>
<rect x="1627.9" y="780.4" width="45.9" height="10.2" fill="#e4a63d"/>
<rect x="1673.3" y="780.4" width="45.9" height="10.2" fill="#e4a035"/>
<rect x="1718.7" y="780.4" width="45.9" height="10.2" fill="#e2932b"/>
<rect x="1764.2" y="780.4" width="45.9" height="10.2" fill="#e18923"/>
<rect x="1809.6" y="780.4" width="45.9" height="10.2" fill="#e0801d"/>
<rect x="1855.0" y="780.4" width="45.9" height="10.2" fill="#de7319"/>
<rect x="1900.4" y="780.4" width="45.9" height="10.2" fill="#dc6916"/>
<rect x="1945.9" y="780.4" width="45.9" height="10.2" fill="#da5e13"/>
<rect x="1991.3" y="780.4" width="45.9" height="10.2" fill="#d85712"/>
<rect x="2036.7" y="780.4" width="45.9" height="10.2" fill="#d35014"/>
<rect x="2082.1" y="780.4" width="45.9" height="10.2" fill="#cb4619"/>
<rect x="2127.6" y="780.4" width="45.4" height="10.2" fill="#c7431c"/>
<rect x="310.5" y="790.0" width="136.8" height="10.2" fill="#de7319"/>
<rect x="446.8" y="790.0" width="45.9" height="10.2" fill="#df7a1b"/>
<rect x="492.2" y="790.0" width="45.9" height="10.2" fill="#e0801d"/>
<rect x="537.6" y="790.0" width="91.4" height="10.2" fill="#e18621"/>
<rect x="628.5" y="790.0" width="45.9" height="10.2" fill="#e18c25"/>
<rect x="673.9" y="790.0" width="45.9" height="10.2" fill="#e29129"/>
<rect x="719.3" y="790.0" width="45.9" height="10.2" fill="#e3962d"/>
<rect x="764.8" y="790.0" width="45.9" height="10.2" fill="#e3992f"/>
<rect x="810.2" y="790.0" width="45.9" height="10.2" fill="#e49e34"/>
<rect x="855.6" y="790.0" width="45.9" height="10.2" fill="#e4a136"/>
<rect x="901.0" y="790.0" width="45.9" height="10.2" fill="#e4a33a"/>
<rect x="946.5" y="790.0" width="45.9" height="10.2" fill="#e5ab44"/>
<rect x="991.9" y="790.0" width="45.9" height="10.2" fill="#e5b04b"/>
<rect x="1037.3" y="790.0" width="45.9" height="10.2" fill="#e5b552"/>
<rect x="1082.8" y="790.0" width="45.9" height="10.2" fill="#e6b756"/>
<rect x="1128.2" y="790.0" width="45.9" height="10.2" fill="#e6bc5d"/>
<rect x="1173.6" y="790.0" width="45.9" height="10.2" fill="#e6c166"/>
<rect x="1219.0" y="790.0" width="136.8" height="10.2" fill="#e6c36b"/>
<rect x="1355.3" y="790.0" width="45.9" height="10.2" fill="#e6c166"/>
<rect x="1400.7" y="790.0" width="182.2" height="10.2" fill="#e6bf61"/>
<rect x="1582.5" y="790.0" width="45.9" height="10.2" fill="#e6bc5d"/>
<rect x="1627.9" y="790.0" width="45.9" height="10.2" fill="#e6b756"/>
<rect x="1673.3" y="790.0" width="45.9" height="10.2" fill="#e5b552"/>
<rect x="1718.7" y="790.0" width="45.9" height="10.2" fill="#e5b24f"/>
<rect x="1764.2" y="790.0" width="45.9" height="10.2" fill="#e5b04b"/>
<rect x="1809.6" y="790.0" width="45.9" height="10.2" fill="#e5ab44"/>
<rect x="1855.0" y="790.0" width="45.9" height="10.2" fill="#e4a33a"/>
<rect x="1900.4" y="790.0" width="45.9" height="10.2" fill="#e4a136"/>
<rect x="1945.9" y="790.0" width="45.9" height="10.2" fill="#e49e34"/>
<rect x="1991.3" y="790.0" width="45.9" height="10.2" fill="#e3992f"/>
<rect x="2036.7" y="790.0" width="45.9" height="10.2" fill="#e29129"/>
<rect x="2082.1" y="790.0" width="45.9" height="10.2" fill="#e18c25"/>
<rect x="2127.6" y="790.0" width="45.4" height="10.2" fill="#e18621"/>
<rect x="310.5" y="799.5" width="45.9" height="10.2" fill="#c9441b"/>
<rect x="355.9" y="799.5" width="45.9" height="10.2" fill="#cb4619"/>
<rect x="401.4" y="799.5" width="45.9" height="10.2" fill="#cf4b17"/>
<rect x="446.8" y="799.5" width="45.9" height="10.2" fill="#d55213"/>
<rect x="492.2" y="799.5" width="45.9" height="10.2" fill="#d95b12"/>
<rect x="537.6" y="799.5" width="45.9" height="10.2" fill="#da6214"/>
<rect x="583.1" y="799.5" width="45.9" height="10.2" fill="#dc6916"/>
<rect x="628.5" y="799.5" width="45.9" height="10.2" fill="#dd7018"/>
<rect x="673.9" y="799.5" width="45.9" height="10.2" fill="#de761a"/>
<rect x="719.3" y="799.5" width="45.9" height="10.2" fill="#e07d1c"/>
<rect x="764.8" y="799.5" width="45.9" height="10.2" fill="#e1831f"/>
<rect x="810.2" y="799.5" width="45.9" height="10.2" fill="#e18923"/>
<rect x="855.6" y="799.5" width="45.9" height="10.2" fill="#e28e27"/>
<rect x="901.0" y="799.5" width="45.9" height="10.2" fill="#e4a63d"/>
<rect x="946.5" y="799.5" width="45.9" height="10.2" fill="#e5af4a"/>
<rect x="991.9" y="799.5" width="45.9" height="10.2" fill="#e5b553"/>
<rect x="1037.3" y="799.5" width="45.9" height="10.2" fill="#e6b857"/>
<rect x="1082.8" y="799.5" width="45.9" height="10.2" fill="#e6be60"/>
<rect x="1128.2" y="799.5" width="45.9" height="10.2" fill="#e6c36c"/>
<rect x="1173.6" y="799.5" width="318.5" height="10.2" fill="#e7c672"/>
<rect x="1491.6" y="799.5" width="136.8" height="10.2" fill="#e6c166"/>
<rect x="1627.9" y="799.5" width="45.9" height="10.2" fill="#e6bf61"/>
<rect x="1673.3" y="799.5" width="45.9" height="10.2" fill="#e6bc5d"/>
<rect x="1718.7" y="799.5" width="45.9" height="10.2" fill="#e6ba5a"/>
<rect x="1764.2" y="799.5" width="45.9" height="10.2" fill="#e6b756"/>
<rect x="1809.6" y="799.5" width="45.9" height="10.2" fill="#e5b24f"/>
<rect x="1855.0" y="799.5" width="45.9" height="10.2" fill="#e5ab44"/>
<rect x="1900.4" y="799.5" width="45.9" height="10.2" fill="#e4a63d"/>
<rect x="1945.9" y="799.5" width="45.9" height="10.2" fill="#e4a136"/>
<rect x="1991.3" y="799.5" width="45.9" height="10.2" fill="#e39c32"/>
<rect x="2036.7" y="799.5" width="45.9" height="10.2" fill="#e3962d"/>
<rect x="2082.1" y="799.5" width="45.9" height="10.2" fill="#e28e27"/>
<rect x="2127.6" y="799.5" width="45.4" height="10.2" fill="#e18c25"/>
<rect x="310.5" y="809.1" width="136.8" height="10.2" fill="#e0801d"/>
<rect x="446.8" y="809.1" width="45.9" height="10.2" fill="#e18621"/>
<rect x="492.2" y="809.1" width="45.9" height="10.2" fill="#e18923"/>
<rect x="537.6" y="809.1" width="45.9" height="10.2" fill="#e18c25"/>
<rect x="583.1" y="809.1" width="45.9" height="10.2" fill="#e28e27"/>
<rect x="628.5" y="809.1" width="45.9" height="10.2" fill="#e2942b"/>
<rect x="673.9" y="809.1" width="45.9" height="10.2" fill="#e3962d"/>
<rect x="719.3" y="809.1" width="45.9" height="10.2" fill="#e3992f"/>
<rect x="764.8" y="809.1" width="45.9" height="10.2" fill="#e39c32"/>
<rect x="810.2" y="809.1" width="45.9" height="10.2" fill="#e4a136"/>
<rect x="855.6" y="809.1" width="45.9" height="10.2" fill="#e4a63d"/>
<rect x="901.0" y="809.1" width="45.9" height="10.2" fill="#e5ad48"/>
<rect x="946.5" y="809.1" width="45.9" height="10.2" fill="#e5b552"/>
<rect x="991.9" y="809.1" width="45.9" height="10.2" fill="#e6ba5a"/>
<rect x="1037.3" y="809.1" width="45.9" height="10.2" fill="#e6bf61"/>
<rect x="1082.8" y="809.1" width="45.9" height="10.2" fill="#e6c36b"/>
<rect x="1128.2" y="809.1" width="45.9" height="10.2" fill="#e7c97a"/>
<rect x="1173.6" y="809.1" width="45.9" height="10.2" fill="#e8ce85"/>
<rect x="1219.0" y="809.1" width="45.9" height="10.2" fill="#e9d391"/>
<rect x="1264.5" y="809.1" width="45.9" height="10.2" fill="#ead89d"/>
<rect x="1309.9" y="809.1" width="45.9" height="10.2" fill="#eadaa3"/>
<rect x="1355.3" y="809.1" width="45.9" height="10.2" fill="#ebddab"/>
<rect x="1400.7" y="809.1" width="91.4" height="10.2" fill="#ecdfb2"/>
<rect x="1491.6" y="809.1" width="182.2" height="10.2" fill="#ede2ba"/>
<rect x="1673.3" y="809.1" width="91.4" height="10.2" fill="#ecdfb2"/>
<rect x="1764.2" y="809.1" width="45.9" height="10.2" fill="#eadaa3"/>
<rect x="1809.6" y="809.1" width="45.9" height="10.2" fill="#ead89d"/>
<rect x="1855.0" y="809.1" width="45.9" height="10.2" fill="#e9d597"/>
<rect x="1900.4" y="809.1" width="45.9" height="10.2" fill="#e8d08b"/>
<rect x="1945.9" y="809.1" width="45.9" height="10.2" fill="#e8ce85"/>
<rect x="1991.3" y="809.1" width="45.9" height="10.2" fill="#e7cb7f"/>
<rect x="2036.7" y="809.1" width="45.9" height="10.2" fill="#e7c97a"/>
<rect x="2082.1" y="809.1" width="90.9" height="10.2" fill="#e7c775"/>
<rect x="310.5" y="818.7" width="136.8" height="10.2" fill="#e4a136"/>
<rect x="446.8" y="818.7" width="45.9" height="10.2" fill="#e4a33a"/>
<rect x="492.2" y="818.7" width="45.9" height="10.2" fill="#e4a63d"/>
<rect x="537.6" y="818.7" width="45.9" height="10.2" fill="#e5a841"/>
<rect x="583.1" y="818.7" width="45.9" height="10.2" fill="#e5ad48"/>
<rect x="628.5" y="818.7" width="45.9" height="10.2" fill="#e5b04b"/>
<rect x="673.9" y="818.7" width="45.9" height="10.2" fill="#e5b24f"/>
<rect x="719.3" y="818.7" width="45.9" height="10.2" fill="#e6b756"/>
<rect x="764.8" y="818.7" width="45.9" height="10.2" fill="#e6ba5a"/>
<rect x="810.2" y="818.7" width="45.9" height="10.2" fill="#e6bf61"/>
<rect x="855.6" y="818.7" width="45.9" height="10.2" fill="#e6c166"/>
<rect x="901.0" y="818.7" width="45.9" height="10.2" fill="#e7c570"/>
<rect x="946.5" y="818.7" width="45.9" height="10.2" fill="#e7c97a"/>
<rect x="991.9" y="818.7" width="45.9" height="10.2" fill="#e7cb7f"/>
<rect x="1037.3" y="818.7" width="45.9" height="10.2" fill="#e8d08b"/>
<rect x="1082.8" y="818.7" width="45.9" height="10.2" fill="#e9d391"/>
<rect x="1128.2" y="818.7" width="182.2" height="10.2" fill="#ead89d"/>
<rect x="1309.9" y="818.7" width="91.4" height="10.2" fill="#e9d597"/>
<rect x="1400.7" y="818.7" width="91.4" height="10.2" fill="#e9d391"/>
<rect x="1491.6" y="818.7" width="91.4" height="10.2" fill="#e8d08b"/>
<rect x="1582.5" y="818.7" width="91.4" height="10.2" fill="#e8ce85"/>
<rect x="1673.3" y="818.7" width="91.4" height="10.2" fill="#e7cb7f"/>
<rect x="1764.2" y="818.7" width="91.4" height="10.2" fill="#e7c97a"/>
<rect x="1855.0" y="818.7" width="91.4" height="10.2" fill="#e7c775"/>
<rect x="1945.9" y="818.7" width="45.9" height="10.2" fill="#e7c570"/>
<rect x="1991.3" y="818.7" width="45.9" height="10.2" fill="#e6c36b"/>
<rect x="2036.7" y="818.7" width="45.9" height="10.2" fill="#e6c166"/>
<rect x="2082.1" y="818.7" width="90.9" height="10.2" fill="#e6bf61"/>
<rect x="310.5" y="828.2" width="91.4" height="10.2" fill="#d14d15"/>
<rect x="401.4" y="828.2" width="45.9" height="10.2" fill="#d35014"/>
<rect x="446.8" y="828.2" width="45.9" height="10.2" fill="#d75411"/>
<rect x="492.2" y="828.2" width="45.9" height="10.2" fill="#d95b12"/>
<rect x="537.6" y="828.2" width="45.9" height="10.2" fill="#da6214"/>
<rect x="583.1" y="828.2" width="45.9" height="10.2" fill="#dc6c17"/>
<rect x="628.5" y="828.2" width="45.9" height="10.2" fill="#de761a"/>
<rect x="673.9" y="828.2" width="45.9" height="10.2" fill="#e07d1c"/>
<rect x="719.3" y="828.2" width="45.9" height="10.2" fill="#e18621"/>
<rect x="764.8" y="828.2" width="45.9" height="10.2" fill="#e18c25"/>
<rect x="810.2" y="828.2" width="45.9" height="10.2" fill="#e2942b"/>
<rect x="855.6" y="828.2" width="45.9" height="10.2" fill="#e3992f"/>
<rect x="901.0" y="828.2" width="45.9" height="10.2" fill="#e4a136"/>
<rect x="946.5" y="828.2" width="45.9" height="10.2" fill="#e4a63d"/>
<rect x="991.9" y="828.2" width="45.9" height="10.2" fill="#e5ab44"/>
<rect x="1037.3" y="828.2" width="45.9" height="10.2" fill="#e5b24f"/>
<rect x="1082.8" y="828.2" width="45.9" height="10.2" fill="#e6ba5a"/>
<rect x="1128.2" y="828.2" width="45.9" height="10.2" fill="#e6c166"/>
<rect x="1173.6" y="828.2" width="45.9" height="10.2" fill="#e6c36b"/>
<rect x="1219.0" y="828.2" width="45.9" height="10.2" fill="#e6c166"/>
<rect x="1264.5" y="828.2" width="45.9" height="10.2" fill="#e6bc5d"/>
<rect x="1309.9" y="828.2" width="45.9" height="10.2" fill="#e6b756"/>
<rect x="1355.3" y="828.2" width="45.9" height="10.2" fill="#e5b24f"/>
<rect x="1400.7" y="828.2" width="45.9" height="10.2" fill="#e5b04b"/>
<rect x="1446.2" y="828.2" width="45.9" height="10.2" fill="#e5ab44"/>
<rect x="1491.6" y="828.2" width="45.9" height="10.2" fill="#e4a63d"/>
<rect x="1537.0" y="828.2" width="45.9" height="10.2" fill="#e4a136"/>
<rect x="1582.5" y="828.2" width="45.9" height="10.2" fill="#e3992f"/>
<rect x="1627.9" y="828.2" width="45.9" height="10.2" fill="#e29129"/>
<rect x="1673.3" y="828.2" width="45.9" height="10.2" fill="#e18621"/>
<rect x="1718.7" y="828.2" width="45.9" height="10.2" fill="#e07d1c"/>
<rect x="1764.2" y="828.2" width="45.9" height="10.2" fill="#de7319"/>
<rect x="1809.6" y="828.2" width="45.9" height="10.2" fill="#dc6916"/>
<rect x="1855.0" y="828.2" width="45.9" height="10.2" fill="#da5e13"/>
<rect x="1900.4" y="828.2" width="45.9" height="10.2" fill="#d85712"/>
<rect x="1945.9" y="828.2" width="45.9" height="10.2" fill="#d55213"/>
<rect x="1991.3" y="828.2" width="45.9" height="10.2" fill="#d14d15"/>
<rect x="2036.7" y="828.2" width="45.9" height="10.2" fill="#c9441b"/>
<rect x="2082.1" y="828.2" width="45.9" height="10.2" fill="#be3b22"/>
<rect x="2127.6" y="828.2" width="45.4" height="10.2" fill="#b53527"/>
<rect x="310.5" y="837.8" width="91.4" height="10.2" fill="#e18621"/>
<rect x="401.4" y="837.8" width="45.9" height="10.2" fill="#e18923"/>
<rect x="446.8" y="837.8" width="45.9" height="10.2" fill="#e18c25"/>
<rect x="492.2" y="837.8" width="45.9" height="10.2" fill="#e29129"/>
<rect x="537.6" y="837.8" width="45.9" height="10.2" fill="#e3962d"/>
<rect x="583.1" y="837.8" width="45.9" height="10.2" fill="#e3992f"/>
<rect x="628.5" y="837.8" width="45.9" height="10.2" fill="#e39c32"/>
<rect x="673.9" y="837.8" width="45.9" height="10.2" fill="#e4a136"/>
<rect x="719.3" y="837.8" width="45.9" height="10.2" fill="#e4a33a"/>
<rect x="764.8" y="837.8" width="45.9" height="10.2" fill="#e4a63d"/>
<rect x="810.2" y="837.8" width="45.9" height="10.2" fill="#e5a841"/>
<rect x="855.6" y="837.8" width="45.9" height="10.2" fill="#e5ad48"/>
<rect x="901.0" y="837.8" width="45.9" height="10.2" fill="#e5b24f"/>
<rect x="946.5" y="837.8" width="45.9" height="10.2" fill="#e5b552"/>
<rect x="991.9" y="837.8" width="45.9" height="10.2" fill="#e6ba5a"/>
<rect x="1037.3" y="837.8" width="45.9" height="10.2" fill="#e6bf61"/>
<rect x="1082.8" y="837.8" width="45.9" height="10.2" fill="#e6c166"/>
<rect x="1128.2" y="837.8" width="45.9" height="10.2" fill="#e6c36b"/>
<rect x="1173.6" y="837.8" width="45.9" height="10.2" fill="#e7c570"/>
<rect x="1219.0" y="837.8" width="182.2" height="10.2" fill="#e7c97a"/>
<rect x="1400.7" y="837.8" width="91.4" height="10.2" fill="#e7c775"/>
<rect x="1491.6" y="837.8" width="182.2" height="10.2" fill="#e7c570"/>
<rect x="1673.3" y="837.8" width="91.4" height="10.2" fill="#e6c36b"/>
<rect x="1764.2" y="837.8" width="45.9" height="10.2" fill="#e6c166"/>
<rect x="1809.6" y="837.8" width="45.9" height="10.2" fill="#e6bf61"/>
<rect x="1855.0" y="837.8" width="45.9" height="10.2" fill="#e6bc5d"/>
<rect x="1900.4" y="837.8" width="45.9" height="10.2" fill="#e6ba5a"/>
<rect x="1945.9" y="837.8" width="45.9" height="10.2" fill="#e6b756"/>
<rect x="1991.3" y="837.8" width="45.9" height="10.2" fill="#e5b24f"/>
<rect x="2036.7" y="837.8" width="45.9" height="10.2" fill="#e5ad48"/>
<rect x="2082.1" y="837.8" width="45.9" height="10.2" fill="#e5a841"/>
<rect x="2127.6" y="837.8" width="45.4" height="10.2" fill="#e4a63d"/>
<rect x="310.5" y="847.3" width="136.8" height="10.2" fill="#e4a136"/>
<rect x="446.8" y="847.3" width="45.9" height="10.2" fill="#e4a33a"/>
<rect x="492.2" y="847.3" width="45.9" height="10.2" fill="#e5a841"/>
<rect x="537.6" y="847.3" width="45.9" height="10.2" fill="#e5ad48"/>
<rect x="583.1" y="847.3" width="45.9" height="10.2" fill="#e5b24f"/>
<rect x="628.5" y="847.3" width="45.9" height="10.2" fill="#e6ba5a"/>
<rect x="673.9" y="847.3" width="45.9" height="10.2" fill="#e6c166"/>
<rect x="719.3" y="847.3" width="45.9" height="10.2" fill="#e7c775"/>
<rect x="764.8" y="847.3" width="45.9" height="10.2" fill="#e8ce85"/>
<rect x="810.2" y="847.3" width="45.9" height="10.2" fill="#e9d391"/>
<rect x="855.6" y="847.3" width="45.9" height="10.2" fill="#ead89d"/>
<rect x="901.0" y="847.3" width="45.9" height="10.2" fill="#ebddab"/>
<rect x="946.5" y="847.3" width="45.9" height="10.2" fill="#ecdfb2"/>
<rect x="991.9" y="847.3" width="45.9" height="10.2" fill="#ede2ba"/>
<rect x="1037.3" y="847.3" width="45.9" height="10.2" fill="#eee4c1"/>
<rect x="1082.8" y="847.3" width="45.9" height="10.2" fill="#efe7c9"/>
<rect x="1128.2" y="847.3" width="136.8" height="10.2" fill="#f0e9d0"/>
<rect x="1264.5" y="847.3" width="136.8" height="10.2" fill="#f1ebd6"/>
<rect x="1400.7" y="847.3" width="182.2" height="10.2" fill="#f0e9d0"/>
<rect x="1582.5" y="847.3" width="91.4" height="10.2" fill="#efe7c9"/>
<rect x="1673.3" y="847.3" width="91.4" height="10.2" fill="#eee4c1"/>
<rect x="1764.2" y="847.3" width="45.9" height="10.2" fill="#ede2ba"/>
<rect x="1809.6" y="847.3" width="45.9" height="10.2" fill="#ecdfb2"/>
<rect x="1855.0" y="847.3" width="45.9" height="10.2" fill="#ebddab"/>
<rect x="1900.4" y="847.3" width="45.9" height="10.2" fill="#eadaa3"/>
<rect x="1945.9" y="847.3" width="45.9" height="10.2" fill="#e9d597"/>
<rect x="1991.3" y="847.3" width="45.9" height="10.2" fill="#e9d391"/>
<rect x="2036.7" y="847.3" width="45.9" height="10.2" fill="#e7cb7f"/>
<rect x="2082.1" y="847.3" width="45.9" height="10.2" fill="#e7c775"/>
<rect x="2127.6" y="847.3" width="45.4" height="10.2" fill="#e7c570"/>
<rect x="310.5" y="856.9" width="91.4" height="10.2" fill="#de7319"/>
<rect x="401.4" y="856.9" width="45.9" height="10.2" fill="#df7a1b"/>
<rect x="446.8" y="856.9" width="45.9" height="10.2" fill="#e0801d"/>
<rect x="492.2" y="856.9" width="45.9" height="10.2" fill="#e18621"/>
<rect x="537.6" y="856.9" width="45.9" height="10.2" fill="#e18c25"/>
<rect x="583.1" y="856.9" width="45.9" height="10.2" fill="#e2942b"/>
<rect x="628.5" y="856.9" width="45.9" height="10.2" fill="#e39c32"/>
<rect x="673.9" y="856.9" width="45.9" height="10.2" fill="#e4a63d"/>
<rect x="719.3" y="856.9" width="45.9" height="10.2" fill="#e5b04b"/>
<rect x="764.8" y="856.9" width="45.9" height="10.2" fill="#e6b756"/>
<rect x="810.2" y="856.9" width="45.9" height="10.2" fill="#e6bf61"/>
<rect x="855.6" y="856.9" width="45.9" height="10.2" fill="#e7c775"/>
<rect x="901.0" y="856.9" width="45.9" height="10.2" fill="#e8ce85"/>
<rect x="946.5" y="856.9" width="45.9" height="10.2" fill="#e9d597"/>
<rect x="991.9" y="856.9" width="45.9" height="10.2" fill="#eadaa3"/>
<rect x="1037.3" y="856.9" width="45.9" height="10.2" fill="#ecdfb2"/>
<rect x="1082.8" y="856.9" width="45.9" height="10.2" fill="#eee4c1"/>
<rect x="1128.2" y="856.9" width="45.9" height="10.2" fill="#f0e9d0"/>
<rect x="1173.6" y="856.9" width="136.8" height="10.2" fill="#f1ebd6"/>
<rect x="1309.9" y="856.9" width="45.9" height="10.2" fill="#f0e9d0"/>
<rect x="1355.3" y="856.9" width="91.4" height="10.2" fill="#efe7c9"/>
<rect x="1446.2" y="856.9" width="45.9" height="10.2" fill="#eee4c1"/>
<rect x="1491.6" y="856.9" width="45.9" height="10.2" fill="#ede2ba"/>
<rect x="1537.0" y="856.9" width="45.9" height="10.2" fill="#ebddab"/>
<rect x="1582.5" y="856.9" width="45.9" height="10.2" fill="#ead89d"/>
<rect x="1627.9" y="856.9" width="45.9" height="10.2" fill="#e8d08b"/>
<rect x="1673.3" y="856.9" width="45.9" height="10.2" fill="#e7c775"/>
<rect x="1718.7" y="856.9" width="45.9" height="10.2" fill="#e6bf61"/>
<rect x="1764.2" y="856.9" width="45.9" height="10.2" fill="#e6b756"/>
<rect x="1809.6" y="856.9" width="45.9" height="10.2" fill="#e5b04b"/>
<rect x="1855.0" y="856.9" width="45.9" height="10.2" fill="#e5a841"/>
<rect x="1900.4" y="856.9" width="45.9" height="10.2" fill="#e4a33a"/>
<rect x="1945.9" y="856.9" width="45.9" height="10.2" fill="#e39c32"/>
<rect x="1991.3" y="856.9" width="45.9" height="10.2" fill="#e2942b"/>
<rect x="2036.7" y="856.9" width="45.9" height="10.2" fill="#e18c25"/>
<rect x="2082.1" y="856.9" width="45.9" height="10.2" fill="#e1831f"/>
<rect x="2127.6" y="856.9" width="45.4" height="10.2" fill="#e0801d"/>
<rect x="310.5" y="866.4" width="91.4" height="10.2" fill="#de7319"/>
<rect x="401.4" y="866.4" width="45.9" height="10.2" fill="#df7a1b"/>
<rect x="446.8" y="866.4" width="45.9" height="10.2" fill="#e0801d"/>
<rect x="492.2" y="866.4" width="45.9" height="10.2" fill="#e18621"/>
<rect x="537.6" y="866.4" width="45.9" height="10.2" fill="#e18c25"/>
<rect x="583.1" y="866.4" width="45.9" height="10.2" fill="#e2942b"/>
<rect x="628.5" y="866.4" width="45.9" height="10.2" fill="#e39c32"/>
<rect x="673.9" y="866.4" width="45.9" height="10.2" fill="#e4a63d"/>
<rect x="719.3" y="866.4" width="45.9" height="10.2" fill="#e5b04b"/>
<rect x="764.8" y="866.4" width="45.9" height="10.2" fill="#e6b756"/>
<rect x="810.2" y="866.4" width="45.9" height="10.2" fill="#e6bf61"/>
<rect x="855.6" y="866.4" width="45.9" height="10.2" fill="#e7c775"/>
<rect x="901.0" y="866.4" width="45.9" height="10.2" fill="#e8ce85"/>
<rect x="946.5" y="866.4" width="45.9" height="10.2" fill="#e9d597"/>
<rect x="991.9" y="866.4" width="45.9" height="10.2" fill="#eadaa3"/>
<rect x="1037.3" y="866.4" width="45.9" height="10.2" fill="#ecdfb2"/>
<rect x="1082.8" y="866.4" width="45.9" height="10.2" fill="#eee4c1"/>
<rect x="1128.2" y="866.4" width="45.9" height="10.2" fill="#f0e9d0"/>
<rect x="1173.6" y="866.4" width="45.9" height="10.2" fill="#f1ebd6"/>
<rect x="1219.0" y="866.4" width="91.4" height="10.2" fill="#f2eddc"/>
<rect x="1309.9" y="866.4" width="91.4" height="10.2" fill="#f1ebd6"/>
<rect x="1400.7" y="866.4" width="91.4" height="10.2" fill="#f0e9d0"/>
<rect x="1491.6" y="866.4" width="45.9" height="10.2" fill="#efe7c9"/>
<rect x="1537.0" y="866.4" width="45.9" height="10.2" fill="#eee4c1"/>
<rect x="1582.5" y="866.4" width="45.9" height="10.2" fill="#ecdfb2"/>
<rect x="1627.9" y="866.4" width="45.9" height="10.2" fill="#ead89d"/>
<rect x="1673.3" y="866.4" width="45.9" height="10.2" fill="#e8d08b"/>
<rect x="1718.7" y="866.4" width="45.9" height="10.2" fill="#e7c775"/>
<rect x="1764.2" y="866.4" width="45.9" height="10.2" fill="#e6c166"/>
<rect x="1809.6" y="866.4" width="45.9" height="10.2" fill="#e6ba5a"/>
<rect x="1855.0" y="866.4" width="45.9" height="10.2" fill="#e5b552"/>
<rect x="1900.4" y="866.4" width="45.9" height="10.2" fill="#e5ad48"/>
<rect x="1945.9" y="866.4" width="45.9" height="10.2" fill="#e5a841"/>
<rect x="1991.3" y="866.4" width="45.9" height="10.2" fill="#e4a136"/>
<rect x="2036.7" y="866.4" width="45.9" height="10.2" fill="#e39c32"/>
<rect x="2082.1" y="866.4" width="45.9" height="10.2" fill="#e3962d"/>
<rect x="2127.6" y="866.4" width="45.4" height="10.2" fill="#e29129"/>
<rect x="310.5" y="876.0" width="91.4" height="10.2" fill="#e0801d"/>
<rect x="401.4" y="876.0" width="45.9" height="10.2" fill="#e1831f"/>
<rect x="446.8" y="876.0" width="45.9" height="10.2" fill="#e18923"/>
<rect x="492.2" y="876.0" width="45.9" height="10.2" fill="#e28e27"/>
<rect x="537.6" y="876.0" width="45.9" height="10.2" fill="#e2942b"/>
<rect x="583.1" y="876.0" width="45.9" height="10.2" fill="#e39c32"/>
<rect x="628.5" y="876.0" width="45.9" height="10.2" fill="#e4a136"/>
<rect x="673.9" y="876.0" width="45.9" height="10.2" fill="#e5a841"/>
<rect x="719.3" y="876.0" width="45.9" height="10.2" fill="#e5b04b"/>
<rect x="764.8" y="876.0" width="45.9" height="10.2" fill="#e6ba5a"/>
<rect x="810.2" y="876.0" width="45.9" height="10.2" fill="#e6bf61"/>
<rect x="855.6" y="876.0" width="45.9" height="10.2" fill="#e7c570"/>
<rect x="901.0" y="876.0" width="45.9" height="10.2" fill="#e7cb7f"/>
<rect x="946.5" y="876.0" width="45.9" height="10.2" fill="#e8d08b"/>
<rect x="991.9" y="876.0" width="45.9" height="10.2" fill="#ead89d"/>
<rect x="1037.3" y="876.0" width="45.9" height="10.2" fill="#ecdfb2"/>
<rect x="1082.8" y="876.0" width="45.9" height="10.2" fill="#eee4c1"/>
<rect x="1128.2" y="876.0" width="45.9" height="10.2" fill="#efe7c9"/>
<rect x="1173.6" y="876.0" width="91.4" height="10.2" fill="#f0e9d0"/>
<rect x="1264.5" y="876.0" width="136.8" height="10.2" fill="#f1ebd6"/>
<rect x="1400.7" y="876.0" width="227.6" height="10.2" fill="#f2eddc"/>
<rect x="1627.9" y="876.0" width="45.9" height="10.2" fill="#f1ebd6"/>
<rect x="1673.3" y="876.0" width="91.4" height="10.2" fill="#f0e9d0"/>
<rect x="1764.2" y="876.0" width="45.9" height="10.2" fill="#efe7c9"/>
<rect x="1809.6" y="876.0" width="45.9" height="10.2" fill="#eee4c1"/>
<rect x="1855.0" y="876.0" width="45.9" height="10.2" fill="#ede2ba"/>
<rect x="1900.4" y="876.0" width="45.9" height="10.2" fill="#ecdfb2"/>
<rect x="1945.9" y="876.0" width="45.9" height="10.2" fill="#ebddab"/>
<rect x="1991.3" y="876.0" width="45.9" height="10.2" fill="#ead89d"/>
<rect x="2036.7" y="876.0" width="45.9" height="10.2" fill="#e9d391"/>
<rect x="2082.1" y="876.0" width="45.9" height="10.2" fill="#e8ce85"/>
<rect x="2127.6" y="876.0" width="45.4" height="10.2" fill="#e7cb7f"/>
<rect x="310.5" y="885.6" width="91.4" height="10.2" fill="#e0801d"/>
<rect x="401.4" y="885.6" width="45.9" height="10.2" fill="#e1831f"/>
<rect x="446.8" y="885.6" width="45.9" height="10.2" fill="#e18923"/>
<rect x="492.2" y="885.6" width="45.9" height="10.2" fill="#e28e27"/>
<rect x="537.6" y="885.6" width="45.9" height="10.2" fill="#e2942b"/>
<rect x="583.1" y="885.6" width="45.9" height="10.2" fill="#e39c32"/>
<rect x="628.5" y="885.6" width="45.9" height="10.2" fill="#e4a136"/>
<rect x="673.9" y="885.6" width="45.9" height="10.2" fill="#e5a841"/>
<rect x="719.3" y="885.6" width="45.9" height="10.2" fill="#e5b04b"/>
<rect x="764.8" y="885.6" width="45.9" height="10.2" fill="#e6b756"/>
<rect x="810.2" y="885.6" width="45.9" height="10.2" fill="#e6bf61"/>
<rect x="855.6" y="885.6" width="45.9" height="10.2" fill="#e6c36b"/>
<rect x="901.0" y="885.6" width="45.9" height="10.2" fill="#e7c775"/>
<rect x="946.5" y="885.6" width="45.9" height="10.2" fill="#e7cb7f"/>
<rect x="991.9" y="885.6" width="45.9" height="10.2" fill="#e9d391"/>
<rect x="1037.3" y="885.6" width="45.9" height="10.2" fill="#ead89d"/>
<rect x="1082.8" y="885.6" width="45.9" height="10.2" fill="#ebddab"/>
<rect x="1128.2" y="885.6" width="45.9" height="10.2" fill="#ede2ba"/>
<rect x="1173.6" y="885.6" width="45.9" height="10.2" fill="#eee4c1"/>
<rect x="1219.0" y="885.6" width="45.9" height="10.2" fill="#efe7c9"/>
<rect x="1264.5" y="885.6" width="91.4" height="10.2" fill="#f0e9d0"/>
<rect x="1355.3" y="885.6" width="273.1" height="10.2" fill="#f1ebd6"/>
<rect x="1627.9" y="885.6" width="91.4" height="10.2" fill="#f0e9d0"/>
<rect x="1718.7" y="885.6" width="45.9" height="10.2" fill="#efe7c9"/>
<rect x="1764.2" y="885.6" width="45.9" height="10.2" fill="#eee4c1"/>
<rect x="1809.6" y="885.6" width="45.9" height="10.2" fill="#ede2ba"/>
<rect x="1855.0" y="885.6" width="45.9" height="10.2" fill="#ecdfb2"/>
<rect x="1900.4" y="885.6" width="45.9" height="10.2" fill="#ebddab"/>
<rect x="1945.9" y="885.6" width="45.9" height="10.2" fill="#ead89d"/>
<rect x="1991.3" y="885.6" width="45.9" height="10.2" fill="#e9d391"/>
<rect x="2036.7" y="885.6" width="45.9" height="10.2" fill="#e8ce85"/>
<rect x="2082.1" y="885.6" width="45.9" height="10.2" fill="#e7c97a"/>
<rect x="2127.6" y="885.6" width="45.4" height="10.2" fill="#e7c775"/>
<rect x="310.5" y="895.1" width="45.9" height="10.2" fill="#d85712"/>
<rect x="355.9" y="895.1" width="45.9" height="10.2" fill="#d95b12"/>
<rect x="401.4" y="895.1" width="45.9" height="10.2" fill="#db6515"/>
<rect x="446.8" y="895.1" width="45.9" height="10.2" fill="#dc6c17"/>
<rect x="492.2" y="895.1" width="45.9" height="10.2" fill="#de7319"/>
<rect x="537.6" y="895.1" width="45.9" height="10.2" fill="#df7a1b"/>
<rect x="583.1" y="895.1" width="45.9" height="10.2" fill="#e0801d"/>
<rect x="628.5" y="895.1" width="45.9" height="10.2" fill="#e18923"/>
<rect x="673.9" y="895.1" width="45.9" height="10.2" fill="#e2942b"/>
<rect x="719.3" y="895.1" width="45.9" height="10.2" fill="#e39c32"/>
<rect x="764.8" y="895.1" width="45.9" height="10.2" fill="#e4a33a"/>
<rect x="810.2" y="895.1" width="45.9" height="10.2" fill="#e5a841"/>
<rect x="855.6" y="895.1" width="45.9" height="10.2" fill="#e5b04b"/>
<rect x="901.0" y="895.1" width="45.9" height="10.2" fill="#e6b756"/>
<rect x="946.5" y="895.1" width="45.9" height="10.2" fill="#e6bf61"/>
<rect x="991.9" y="895.1" width="45.9" height="10.2" fill="#e7c775"/>
<rect x="1037.3" y="895.1" width="45.9" height="10.2" fill="#e8ce85"/>
<rect x="1082.8" y="895.1" width="45.9" height="10.2" fill="#e9d391"/>
<rect x="1128.2" y="895.1" width="45.9" height="10.2" fill="#eadaa3"/>
<rect x="1173.6" y="895.1" width="91.4" height="10.2" fill="#ebddab"/>
<rect x="1264.5" y="895.1" width="45.9" height="10.2" fill="#eadaa3"/>
<rect x="1309.9" y="895.1" width="91.4" height="10.2" fill="#ead89d"/>
<rect x="1400.7" y="895.1" width="45.9" height="10.2" fill="#e9d597"/>
<rect x="1446.2" y="895.1" width="45.9" height="10.2" fill="#e8d08b"/>
<rect x="1491.6" y="895.1" width="45.9" height="10.2" fill="#e8ce85"/>
<rect x="1537.0" y="895.1" width="45.9" height="10.2" fill="#e7c97a"/>
<rect x="1582.5" y="895.1" width="45.9" height="10.2" fill="#e7c570"/>
<rect x="1627.9" y="895.1" width="45.9" height="10.2" fill="#e6c166"/>
<rect x="1673.3" y="895.1" width="45.9" height="10.2" fill="#e6ba5a"/>
<rect x="1718.7" y="895.1" width="45.9" height="10.2" fill="#e5b24f"/>
<rect x="1764.2" y="895.1" width="45.9" height="10.2" fill="#e5ad48"/>
<rect x="1809.6" y="895.1" width="45.9" height="10.2" fill="#e4a63d"/>
<rect x="1855.0" y="895.1" width="45.9" height="10.2" fill="#e49e34"/>
<rect x="1900.4" y="895.1" width="45.9" height="10.2" fill="#e2942b"/>
<rect x="1945.9" y="895.1" width="45.9" height="10.2" fill="#e18923"/>
<rect x="1991.3" y="895.1" width="45.9" height="10.2" fill="#e0801d"/>
<rect x="2036.7" y="895.1" width="45.9" height="10.2" fill="#de7319"/>
<rect x="2082.1" y="895.1" width="45.9" height="10.2" fill="#dc6916"/>
<rect x="2127.6" y="895.1" width="45.4" height="10.2" fill="#da6214"/>
<rect x="310.5" y="904.7" width="91.4" height="10.2" fill="#e5b04b"/>
<rect x="401.4" y="904.7" width="45.9" height="10.2" fill="#e5b24f"/>
<rect x="446.8" y="904.7" width="45.9" height="10.2" fill="#e5b552"/>
<rect x="492.2" y="904.7" width="45.9" height="10.2" fill="#e6b756"/>
<rect x="537.6" y="904.7" width="45.9" height="10.2" fill="#e6ba5a"/>
<rect x="583.1" y="904.7" width="45.9" height="10.2" fill="#e6bf61"/>
<rect x="628.5" y="904.7" width="45.9" height="10.2" fill="#e6c166"/>
<rect x="673.9" y="904.7" width="45.9" height="10.2" fill="#e7c570"/>
<rect x="719.3" y="904.7" width="45.9" height="10.2" fill="#e7c775"/>
<rect x="764.8" y="904.7" width="45.9" height="10.2" fill="#e7cb7f"/>
<rect x="810.2" y="904.7" width="91.4" height="10.2" fill="#e8ce85"/>
<rect x="901.0" y="904.7" width="91.4" height="10.2" fill="#e8d08b"/>
<rect x="991.9" y="904.7" width="136.8" height="10.2" fill="#e9d391"/>
<rect x="1128.2" y="904.7" width="45.9" height="10.2" fill="#e8d08b"/>
<rect x="1173.6" y="904.7" width="91.4" height="10.2" fill="#e8ce85"/>
<rect x="1264.5" y="904.7" width="45.9" height="10.2" fill="#e7cb7f"/>
<rect x="1309.9" y="904.7" width="45.9" height="10.2" fill="#e7c97a"/>
<rect x="1355.3" y="904.7" width="91.4" height="10.2" fill="#e7c775"/>
<rect x="1446.2" y="904.7" width="45.9" height="10.2" fill="#e7c570"/>
<rect x="1491.6" y="904.7" width="45.9" height="10.2" fill="#e6c36b"/>
<rect x="1537.0" y="904.7" width="45.9" height="10.2" fill="#e6c166"/>
<rect x="1582.5" y="904.7" width="45.9" height="10.2" fill="#e6bc5d"/>
<rect x="1627.9" y="904.7" width="45.9" height="10.2" fill="#e6b756"/>
<rect x="1673.3" y="904.7" width="45.9" height="10.2" fill="#e5b24f"/>
<rect x="1718.7" y="904.7" width="45.9" height="10.2" fill="#e5ad48"/>
<rect x="1764.2" y="904.7" width="45.9" height="10.2" fill="#e5a841"/>
<rect x="1809.6" y="904.7" width="45.9" height="10.2" fill="#e4a33a"/>
<rect x="1855.0" y="904.7" width="45.9" height="10.2" fill="#e39c32"/>
<rect x="1900.4" y="904.7" width="45.9" height="10.2" fill="#e3962d"/>
<rect x="1945.9" y="904.7" width="45.9" height="10.2" fill="#e28e27"/>
<rect x="1991.3" y="904.7" width="45.9" height="10.2" fill="#e18621"/>
<rect x="2036.7" y="904.7" width="45.9" height="10.2" fill="#e0801d"/>
<rect x="2082.1" y="904.7" width="45.9" height="10.2" fill="#df7a1b"/>
<rect x="2127.6" y="904.7" width="45.4" height="10.2" fill="#de7319"/>
<rect x="310.5" y="914.2" width="91.4" height="10.2" fill="#e5b552"/>
<rect x="401.4" y="914.2" width="45.9" height="10.2" fill="#e6b756"/>
<rect x="446.8" y="914.2" width="45.9" height="10.2" fill="#e6bc5d"/>
<rect x="492.2" y="914.2" width="45.9" height="10.2" fill="#e6bf61"/>
<rect x="537.6" y="914.2" width="45.9" height="10.2" fill="#e6c36b"/>
<rect x="583.1" y="914.2" width="45.9" height="10.2" fill="#e7c775"/>
<rect x="628.5" y="914.2" width="45.9" height="10.2" fill="#e7c97a"/>
<rect x="673.9" y="914.2" width="45.9" height="10.2" fill="#e8ce85"/>
<rect x="719.3" y="914.2" width="45.9" height="10.2" fill="#e9d597"/>
<rect x="764.8" y="914.2" width="45.9" height="10.2" fill="#eadaa3"/>
<rect x="810.2" y="914.2" width="45.9" height="10.2" fill="#ebddab"/>
<rect x="855.6" y="914.2" width="45.9" height="10.2" fill="#ecdfb2"/>
<rect x="901.0" y="914.2" width="91.4" height="10.2" fill="#ede2ba"/>
<rect x="991.9" y="914.2" width="182.2" height="10.2" fill="#eee4c1"/>
<rect x="1173.6" y="914.2" width="136.8" height="10.2" fill="#ede2ba"/>
<rect x="1309.9" y="914.2" width="45.9" height="10.2" fill="#ecdfb2"/>
<rect x="1355.3" y="914.2" width="91.4" height="10.2" fill="#ebddab"/>
<rect x="1446.2" y="914.2" width="45.9" height="10.2" fill="#eadaa3"/>
<rect x="1491.6" y="914.2" width="45.9" height="10.2" fill="#ead89d"/>
<rect x="1537.0" y="914.2" width="45.9" height="10.2" fill="#e9d597"/>
<rect x="1582.5" y="914.2" width="45.9" height="10.2" fill="#e8d08b"/>
<rect x="1627.9" y="914.2" width="45.9" height="10.2" fill="#e8ce85"/>
<rect x="1673.3" y="914.2" width="45.9" height="10.2" fill="#e7c97a"/>
<rect x="1718.7" y="914.2" width="45.9" height="10.2" fill="#e7c775"/>
<rect x="1764.2" y="914.2" width="45.9" height="10.2" fill="#e6c36b"/>
<rect x="1809.6" y="914.2" width="45.9" height="10.2" fill="#e6bf61"/>
<rect x="1855.0" y="914.2" width="45.9" height="10.2" fill="#e6ba5a"/>
<rect x="1900.4" y="914.2" width="45.9" height="10.2" fill="#e5b552"/>
<rect x="1945.9" y="914.2" width="45.9" height="10.2" fill="#e5b04b"/>
<rect x="1991.3" y="914.2" width="45.9" height="10.2" fill="#e5ab44"/>
<rect x="2036.7" y="914.2" width="45.9" height="10.2" fill="#e4a63d"/>
<rect x="2082.1" y="914.2" width="45.9" height="10.2" fill="#e49e34"/>
<rect x="2127.6" y="914.2" width="45.4" height="10.2" fill="#e39c32"/>
<rect x="310.5" y="923.8" width="45.9" height="10.2" fill="#e0801d"/>
<rect x="355.9" y="923.8" width="45.9" height="10.2" fill="#e18621"/>
<rect x="401.4" y="923.8" width="45.9" height="10.2" fill="#e18c25"/>
<rect x="446.8" y="923.8" width="45.9" height="10.2" fill="#e2942b"/>
<rect x="492.2" y="923.8" width="45.9" height="10.2" fill="#e39c32"/>
<rect x="537.6" y="923.8" width="45.9" height="10.2" fill="#e4a33a"/>
<rect x="583.1" y="923.8" width="45.9" height="10.2" fill="#e5a841"/>
<rect x="628.5" y="923.8" width="45.9" height="10.2" fill="#e5b04b"/>
<rect x="673.9" y="923.8" width="45.9" height="10.2" fill="#e5b552"/>
<rect x="719.3" y="923.8" width="45.9" height="10.2" fill="#e6bc5d"/>
<rect x="764.8" y="923.8" width="45.9" height="10.2" fill="#e6c36b"/>
<rect x="810.2" y="923.8" width="45.9" height="10.2" fill="#e7c97a"/>
<rect x="855.6" y="923.8" width="45.9" height="10.2" fill="#e8d08b"/>
<rect x="901.0" y="923.8" width="45.9" height="10.2" fill="#e9d597"/>
<rect x="946.5" y="923.8" width="45.9" height="10.2" fill="#ebddab"/>
<rect x="991.9" y="923.8" width="45.9" height="10.2" fill="#ecdfb2"/>
<rect x="1037.3" y="923.8" width="45.9" height="10.2" fill="#eee4c1"/>
<rect x="1082.8" y="923.8" width="45.9" height="10.2" fill="#efe7c9"/>
<rect x="1128.2" y="923.8" width="45.9" height="10.2" fill="#f0e9d0"/>
<rect x="1173.6" y="923.8" width="182.2" height="10.2" fill="#f1ebd6"/>
<rect x="1355.3" y="923.8" width="45.9" height="10.2" fill="#f0e9d0"/>
<rect x="1400.7" y="923.8" width="91.4" height="10.2" fill="#efe7c9"/>
<rect x="1491.6" y="923.8" width="45.9" height="10.2" fill="#eee4c1"/>
<rect x="1537.0" y="923.8" width="91.4" height="10.2" fill="#ede2ba"/>
<rect x="1627.9" y="923.8" width="45.9" height="10.2" fill="#ecdfb2"/>
<rect x="1673.3" y="923.8" width="45.9" height="10.2" fill="#ebddab"/>
<rect x="1718.7" y="923.8" width="45.9" height="10.2" fill="#ead89d"/>
<rect x="1764.2" y="923.8" width="45.9" height="10.2" fill="#e9d391"/>
<rect x="1809.6" y="923.8" width="45.9" height="10.2" fill="#e8ce85"/>
<rect x="1855.0" y="923.8" width="45.9" height="10.2" fill="#e7c97a"/>
<rect x="1900.4" y="923.8" width="45.9" height="10.2" fill="#e6c36b"/>
<rect x="1945.9" y="923.8" width="45.9" height="10.2" fill="#e6bf61"/>
<rect x="1991.3" y="923.8" width="45.9" height="10.2" fill="#e6b756"/>
<rect x="2036.7" y="923.8" width="45.9" height="10.2" fill="#e5ad48"/>
<rect x="2082.1" y="923.8" width="45.9" height="10.2" fill="#e4a63d"/>
<rect x="2127.6" y="923.8" width="45.4" height="10.2" fill="#e4a136"/>
<rect x="310.5" y="933.3" width="91.4" height="10.2" fill="#e3962d"/>
<rect x="401.4" y="933.3" width="45.9" height="10.2" fill="#e3992f"/>
<rect x="446.8" y="933.3" width="45.9" height="10.2" fill="#e49e34"/>
<rect x="492.2" y="933.3" width="45.9" height="10.2" fill="#e4a33a"/>
<rect x="537.6" y="933.3" width="45.9" height="10.2" fill="#e5ab44"/>
<rect x="583.1" y="933.3" width="45.9" height="10.2" fill="#e5b04b"/>
<rect x="628.5" y="933.3" width="45.9" height="10.2" fill="#e6b756"/>
<rect x="673.9" y="933.3" width="45.9" height="10.2" fill="#e6c166"/>
<rect x="719.3" y="933.3" width="45.9" height="10.2" fill="#e7c775"/>
<rect x="764.8" y="933.3" width="45.9" height="10.2" fill="#e8ce85"/>
<rect x="810.2" y="933.3" width="45.9" height="10.2" fill="#e9d391"/>
<rect x="855.6" y="933.3" width="45.9" height="10.2" fill="#eadaa3"/>
<rect x="901.0" y="933.3" width="45.9" height="10.2" fill="#ebddab"/>
<rect x="946.5" y="933.3" width="45.9" height="10.2" fill="#ede2ba"/>
<rect x="991.9" y="933.3" width="45.9" height="10.2" fill="#eee4c1"/>
<rect x="1037.3" y="933.3" width="45.9" height="10.2" fill="#efe7c9"/>
<rect x="1082.8" y="933.3" width="45.9" height="10.2" fill="#f0e9d0"/>
<rect x="1128.2" y="933.3" width="182.2" height="10.2" fill="#f1ebd6"/>
<rect x="1309.9" y="933.3" width="136.8" height="10.2" fill="#f2eddc"/>
<rect x="1446.2" y="933.3" width="182.2" height="10.2" fill="#f1ebd6"/>
<rect x="1627.9" y="933.3" width="91.4" height="10.2" fill="#f0e9d0"/>
<rect x="1718.7" y="933.3" width="45.9" height="10.2" fill="#efe7c9"/>
<rect x="1764.2" y="933.3" width="45.9" height="10.2" fill="#eee4c1"/>
<rect x="1809.6" y="933.3" width="45.9" height="10.2" fill="#ede2ba"/>
<rect x="1855.0" y="933.3" width="45.9" height="10.2" fill="#ecdfb2"/>
<rect x="1900.4" y="933.3" width="45.9" height="10.2" fill="#ebddab"/>
<rect x="1945.9" y="933.3" width="45.9" height="10.2" fill="#ead89d"/>
<rect x="1991.3" y="933.3" width="45.9" height="10.2" fill="#e9d597"/>
<rect x="2036.7" y="933.3" width="45.9" height="10.2" fill="#e8d08b"/>
<rect x="2082.1" y="933.3" width="45.9" height="10.2" fill="#e8ce85"/>
<rect x="2127.6" y="933.3" width="45.4" height="10.2" fill="#e7cb7f"/>
<rect x="310.5" y="942.9" width="91.4" height="10.2" fill="#e6bf61"/>
<rect x="401.4" y="942.9" width="45.9" height="10.2" fill="#e6c166"/>
<rect x="446.8" y="942.9" width="45.9" height="10.2" fill="#e6c36b"/>
<rect x="492.2" y="942.9" width="45.9" height="10.2" fill="#e7c570"/>
<rect x="537.6" y="942.9" width="45.9" height="10.2" fill="#e7c775"/>
<rect x="583.1" y="942.9" width="45.9" height="10.2" fill="#e7cb7f"/>
<rect x="628.5" y="942.9" width="45.9" height="10.2" fill="#e8ce85"/>
<rect x="673.9" y="942.9" width="45.9" height="10.2" fill="#e8d08b"/>
<rect x="719.3" y="942.9" width="45.9" height="10.2" fill="#e9d391"/>
<rect x="764.8" y="942.9" width="45.9" height="10.2" fill="#ead89d"/>
<rect x="810.2" y="942.9" width="45.9" height="10.2" fill="#eadaa3"/>
<rect x="855.6" y="942.9" width="45.9" height="10.2" fill="#ebddab"/>
<rect x="901.0" y="942.9" width="45.9" height="10.2" fill="#ecdfb2"/>
<rect x="946.5" y="942.9" width="45.9" height="10.2" fill="#eee4c1"/>
<rect x="991.9" y="942.9" width="45.9" height="10.2" fill="#efe7c9"/>
<rect x="1037.3" y="942.9" width="45.9" height="10.2" fill="#f0e9d0"/>
<rect x="1082.8" y="942.9" width="318.5" height="10.2" fill="#f1ebd6"/>
<rect x="1400.7" y="942.9" width="227.6" height="10.2" fill="#f2eddc"/>
<rect x="1627.9" y="942.9" width="45.9" height="10.2" fill="#f1ebd6"/>
<rect x="1673.3" y="942.9" width="91.4" height="10.2" fill="#f0e9d0"/>
<rect x="1764.2" y="942.9" width="91.4" height="10.2" fill="#efe6c7"/>
<rect x="1855.0" y="942.9" width="136.8" height="10.2" fill="#eee3be"/>
<rect x="1991.3" y="942.9" width="91.4" height="10.2" fill="#ece0b4"/>
<rect x="2082.1" y="942.9" width="90.9" height="10.2" fill="#ebddab"/>
<rect x="310.5" y="952.5" width="91.4" height="10.2" fill="#e6c36b"/>
<rect x="401.4" y="952.5" width="45.9" height="10.2" fill="#e7c570"/>
<rect x="446.8" y="952.5" width="45.9" height="10.2" fill="#e7c775"/>
<rect x="492.2" y="952.5" width="45.9" height="10.2" fill="#e7c97a"/>
<rect x="537.6" y="952.5" width="45.9" height="10.2" fill="#e7cb7f"/>
<rect x="583.1" y="952.5" width="91.4" height="10.2" fill="#e8ce85"/>
<rect x="673.9" y="952.5" width="91.4" height="10.2" fill="#e8d08b"/>
<rect x="764.8" y="952.5" width="91.4" height="10.2" fill="#e9d391"/>
<rect x="855.6" y="952.5" width="91.4" height="10.2" fill="#e9d597"/>
<rect x="946.5" y="952.5" width="91.4" height="10.2" fill="#ead89d"/>
<rect x="1037.3" y="952.5" width="91.4" height="10.2" fill="#eadaa3"/>
<rect x="1128.2" y="952.5" width="91.4" height="10.2" fill="#ebddab"/>
<rect x="1219.0" y="952.5" width="954.0" height="10.2" fill="#ecdfb2"/>
<rect x="310.5" y="962.0" width="45.9" height="10.2" fill="#e07d1c"/>
<rect x="355.9" y="962.0" width="91.4" height="10.2" fill="#e0801d"/>
<rect x="446.8" y="962.0" width="91.4" height="10.2" fill="#e1831f"/>
<rect x="537.6" y="962.0" width="45.9" height="10.2" fill="#e18621"/>
<rect x="583.1" y="962.0" width="45.9" height="10.2" fill="#e18923"/>
<rect x="628.5" y="962.0" width="45.9" height="10.2" fill="#e18c25"/>
<rect x="673.9" y="962.0" width="45.9" height="10.2" fill="#e29129"/>
<rect x="719.3" y="962.0" width="45.9" height="10.2" fill="#e2942b"/>
<rect x="764.8" y="962.0" width="45.9" height="10.2" fill="#e3962d"/>
<rect x="810.2" y="962.0" width="45.9" height="10.2" fill="#e3992f"/>
<rect x="855.6" y="962.0" width="45.9" height="10.2" fill="#e49e34"/>
<rect x="901.0" y="962.0" width="45.9" height="10.2" fill="#e4a33a"/>
<rect x="946.5" y="962.0" width="45.9" height="10.2" fill="#e4a63d"/>
<rect x="991.9" y="962.0" width="45.9" height="10.2" fill="#e5b24e"/>
<rect x="1037.3" y="962.0" width="454.8" height="10.2" fill="#e6be60"/>
<rect x="1491.6" y="962.0" width="227.6" height="10.2" fill="#e6bc5d"/>
<rect x="1718.7" y="962.0" width="182.2" height="10.2" fill="#e6ba5a"/>
<rect x="1900.4" y="962.0" width="45.9" height="10.2" fill="#e6b756"/>
<rect x="1945.9" y="962.0" width="45.9" height="10.2" fill="#e5b552"/>
<rect x="1991.3" y="962.0" width="45.9" height="10.2" fill="#e5b04b"/>
<rect x="2036.7" y="962.0" width="45.9" height="10.2" fill="#e5ab44"/>
<rect x="2082.1" y="962.0" width="45.9" height="10.2" fill="#e4a63d"/>
<rect x="2127.6" y="962.0" width="45.4" height="10.2" fill="#e4a136"/>
<rect x="310.5" y="971.6" width="91.4" height="10.2" fill="#d14d15"/>
<rect x="401.4" y="971.6" width="45.9" height="10.2" fill="#d35014"/>
<rect x="446.8" y="971.6" width="45.9" height="10.2" fill="#d55213"/>
<rect x="492.2" y="971.6" width="45.9" height="10.2" fill="#d75411"/>
<rect x="537.6" y="971.6" width="45.9" height="10.2" fill="#d85712"/>
<rect x="583.1" y="971.6" width="45.9" height="10.2" fill="#da5e13"/>
<rect x="628.5" y="971.6" width="45.9" height="10.2" fill="#da6214"/>
<rect x="673.9" y="971.6" width="45.9" height="10.2" fill="#dc6916"/>
<rect x="719.3" y="971.6" width="45.9" height="10.2" fill="#dc6c17"/>
<rect x="764.8" y="971.6" width="45.9" height="10.2" fill="#de7319"/>
<rect x="810.2" y="971.6" width="45.9" height="10.2" fill="#de761a"/>
<rect x="855.6" y="971.6" width="45.9" height="10.2" fill="#e07d1c"/>
<rect x="901.0" y="971.6" width="45.9" height="10.2" fill="#e0801d"/>
<rect x="946.5" y="971.6" width="45.9" height="10.2" fill="#e18621"/>
<rect x="991.9" y="971.6" width="45.9" height="10.2" fill="#e18c25"/>
<rect x="1037.3" y="971.6" width="45.9" height="10.2" fill="#e29129"/>
<rect x="1082.8" y="971.6" width="45.9" height="10.2" fill="#e3962d"/>
<rect x="1128.2" y="971.6" width="45.9" height="10.2" fill="#e3992f"/>
<rect x="1173.6" y="971.6" width="45.9" height="10.2" fill="#e39c32"/>
<rect x="1219.0" y="971.6" width="45.9" height="10.2" fill="#e3992f"/>
<rect x="1264.5" y="971.6" width="45.9" height="10.2" fill="#e2942b"/>
<rect x="1309.9" y="971.6" width="45.9" height="10.2" fill="#e28e27"/>
<rect x="1355.3" y="971.6" width="91.4" height="10.2" fill="#e18c25"/>
<rect x="1446.2" y="971.6" width="45.9" height="10.2" fill="#e18923"/>
<rect x="1491.6" y="971.6" width="45.9" height="10.2" fill="#e18621"/>
<rect x="1537.0" y="971.6" width="91.4" height="10.2" fill="#e1831f"/>
<rect x="1627.9" y="971.6" width="91.4" height="10.2" fill="#e0801d"/>
<rect x="1718.7" y="971.6" width="91.4" height="10.2" fill="#e07d1c"/>
<rect x="1809.6" y="971.6" width="45.9" height="10.2" fill="#df7a1b"/>
<rect x="1855.0" y="971.6" width="45.9" height="10.2" fill="#de761a"/>
<rect x="1900.4" y="971.6" width="45.9" height="10.2" fill="#de7319"/>
<rect x="1945.9" y="971.6" width="45.9" height="10.2" fill="#dd7018"/>
<rect x="1991.3" y="971.6" width="45.9" height="10.2" fill="#dc6916"/>
<rect x="2036.7" y="971.6" width="45.9" height="10.2" fill="#db6515"/>
<rect x="2082.1" y="971.6" width="45.9" height="10.2" fill="#d95b12"/>
<rect x="2127.6" y="971.6" width="45.4" height="10.2" fill="#d85712"/>
<rect x="310.5" y="981.1" width="45.9" height="10.2" fill="#e4a136"/>
<rect x="355.9" y="981.1" width="45.9" height="10.2" fill="#e4a33a"/>
<rect x="401.4" y="981.1" width="45.9" height="10.2" fill="#e4a63d"/>
<rect x="446.8" y="981.1" width="45.9" height="10.2" fill="#e5ab44"/>
<rect x="492.2" y="981.1" width="45.9" height="10.2" fill="#e5ad48"/>
<rect x="537.6" y="981.1" width="45.9" height="10.2" fill="#e5b24f"/>
<rect x="583.1" y="981.1" width="45.9" height="10.2" fill="#e5b552"/>
<rect x="628.5" y="981.1" width="45.9" height="10.2" fill="#e6b756"/>
<rect x="673.9" y="981.1" width="91.4" height="10.2" fill="#e6ba5a"/>
<rect x="764.8" y="981.1" width="45.9" height="10.2" fill="#e6bc5d"/>
<rect x="810.2" y="981.1" width="91.4" height="10.2" fill="#e6bf61"/>
<rect x="901.0" y="981.1" width="45.9" height="10.2" fill="#e6c166"/>
<rect x="946.5" y="981.1" width="45.9" height="10.2" fill="#e6c36b"/>
<rect x="991.9" y="981.1" width="91.4" height="10.2" fill="#e7c570"/>
<rect x="1082.8" y="981.1" width="91.4" height="10.2" fill="#e7c775"/>
<rect x="1173.6" y="981.1" width="45.9" height="10.2" fill="#e7c570"/>
<rect x="1219.0" y="981.1" width="45.9" height="10.2" fill="#e6c166"/>
<rect x="1264.5" y="981.1" width="45.9" height="10.2" fill="#e6ba5a"/>
<rect x="1309.9" y="981.1" width="45.9" height="10.2" fill="#e5b552"/>
<rect x="1355.3" y="981.1" width="45.9" height="10.2" fill="#e5b04b"/>
<rect x="1400.7" y="981.1" width="45.9" height="10.2" fill="#e5ad48"/>
<rect x="1446.2" y="981.1" width="45.9" height="10.2" fill="#e5a841"/>
<rect x="1491.6" y="981.1" width="45.9" height="10.2" fill="#e4a63d"/>
<rect x="1537.0" y="981.1" width="45.9" height="10.2" fill="#e4a33a"/>
<rect x="1582.5" y="981.1" width="45.9" height="10.2" fill="#e4a136"/>
<rect x="1627.9" y="981.1" width="45.9" height="10.2" fill="#e39c32"/>
<rect x="1673.3" y="981.1" width="45.9" height="10.2" fill="#e3992f"/>
<rect x="1718.7" y="981.1" width="45.9" height="10.2" fill="#e3962d"/>
<rect x="1764.2" y="981.1" width="45.9" height="10.2" fill="#e29129"/>
<rect x="1809.6" y="981.1" width="45.9" height="10.2" fill="#e28e27"/>
<rect x="1855.0" y="981.1" width="45.9" height="10.2" fill="#e18923"/>
<rect x="1900.4" y="981.1" width="45.9" height="10.2" fill="#e18621"/>
<rect x="1945.9" y="981.1" width="45.9" height="10.2" fill="#e0801d"/>
<rect x="1991.3" y="981.1" width="45.9" height="10.2" fill="#df7a1b"/>
<rect x="2036.7" y="981.1" width="45.9" height="10.2" fill="#de7319"/>
<rect x="2082.1" y="981.1" width="45.9" height="10.2" fill="#dd7018"/>
<rect x="2127.6" y="981.1" width="45.4" height="10.2" fill="#dc6c17"/>
<rect x="310.5" y="990.7" width="91.4" height="10.2" fill="#e6bf61"/>
<rect x="401.4" y="990.7" width="45.9" height="10.2" fill="#e6c166"/>
<rect x="446.8" y="990.7" width="45.9" height="10.2" fill="#e6c36b"/>
<rect x="492.2" y="990.7" width="45.9" height="10.2" fill="#e7c570"/>
<rect x="537.6" y="990.7" width="45.9" height="10.2" fill="#e7c775"/>
<rect x="583.1" y="990.7" width="91.4" height="10.2" fill="#e7cb7f"/>
<rect x="673.9" y="990.7" width="45.9" height="10.2" fill="#e8ce85"/>
<rect x="719.3" y="990.7" width="45.9" height="10.2" fill="#e8d08b"/>
<rect x="764.8" y="990.7" width="91.4" height="10.2" fill="#e9d391"/>
<rect x="855.6" y="990.7" width="136.8" height="10.2" fill="#e9d597"/>
<rect x="991.9" y="990.7" width="136.8" height="10.2" fill="#ead89d"/>
<rect x="1128.2" y="990.7" width="91.4" height="10.2" fill="#eadaa3"/>
<rect x="1219.0" y="990.7" width="136.8" height="10.2" fill="#ead89d"/>
<rect x="1355.3" y="990.7" width="136.8" height="10.2" fill="#e9d597"/>
<rect x="1491.6" y="990.7" width="182.2" height="10.2" fill="#e9d391"/>
<rect x="1673.3" y="990.7" width="136.8" height="10.2" fill="#e8d08b"/>
<rect x="1809.6" y="990.7" width="91.4" height="10.2" fill="#e8ce85"/>
<rect x="1900.4" y="990.7" width="91.4" height="10.2" fill="#e7cb7f"/>
<rect x="1991.3" y="990.7" width="45.9" height="10.2" fill="#e7c97a"/>
<rect x="2036.7" y="990.7" width="136.3" height="10.2" fill="#e7c775"/>
<rect x="310.5" y="1000.2" width="136.8" height="10.2" fill="#e7cb7f"/>
<rect x="446.8" y="1000.2" width="45.9" height="10.2" fill="#e8ce85"/>
<rect x="492.2" y="1000.2" width="45.9" height="10.2" fill="#e8d08b"/>
<rect x="537.6" y="1000.2" width="91.4" height="10.2" fill="#e9d391"/>
<rect x="628.5" y="1000.2" width="45.9" height="10.2" fill="#e9d597"/>
<rect x="673.9" y="1000.2" width="45.9" height="10.2" fill="#ead89d"/>
<rect x="719.3" y="1000.2" width="45.9" height="10.2" fill="#eadaa3"/>
<rect x="764.8" y="1000.2" width="45.9" height="10.2" fill="#ebddab"/>
<rect x="810.2" y="1000.2" width="45.9" height="10.2" fill="#ecdfb2"/>
<rect x="855.6" y="1000.2" width="45.9" height="10.2" fill="#ede2ba"/>
<rect x="901.0" y="1000.2" width="91.4" height="10.2" fill="#eee4c1"/>
<rect x="991.9" y="1000.2" width="45.9" height="10.2" fill="#efe7c9"/>
<rect x="1037.3" y="1000.2" width="91.4" height="10.2" fill="#f0e9d0"/>
<rect x="1128.2" y="1000.2" width="91.4" height="10.2" fill="#f1ebd6"/>
<rect x="1219.0" y="1000.2" width="91.4" height="10.2" fill="#f0e9d0"/>
<rect x="1309.9" y="1000.2" width="91.4" height="10.2" fill="#efe7c9"/>
<rect x="1400.7" y="1000.2" width="136.8" height="10.2" fill="#eee4c1"/>
<rect x="1537.0" y="1000.2" width="182.2" height="10.2" fill="#ede2ba"/>
<rect x="1718.7" y="1000.2" width="136.8" height="10.2" fill="#ecdfb2"/>
<rect x="1855.0" y="1000.2" width="45.9" height="10.2" fill="#ebddab"/>
<rect x="1900.4" y="1000.2" width="91.4" height="10.2" fill="#eadaa3"/>
<rect x="1991.3" y="1000.2" width="45.9" height="10.2" fill="#ead89d"/>
<rect x="2036.7" y="1000.2" width="45.9" height="10.2" fill="#e9d597"/>
<rect x="2082.1" y="1000.2" width="90.9" height="10.2" fill="#e9d391"/>
<rect x="310.5" y="1009.8" width="45.9" height="10.2" fill="#e6b756"/>
<rect x="355.9" y="1009.8" width="91.4" height="10.2" fill="#e6ba5a"/>
<rect x="446.8" y="1009.8" width="45.9" height="10.2" fill="#e6bc5d"/>
<rect x="492.2" y="1009.8" width="45.9" height="10.2" fill="#e6c166"/>
<rect x="537.6" y="1009.8" width="45.9" height="10.2" fill="#e6c36b"/>
<rect x="583.1" y="1009.8" width="45.9" height="10.2" fill="#e7c570"/>
<rect x="628.5" y="1009.8" width="45.9" height="10.2" fill="#e7c775"/>
<rect x="673.9" y="1009.8" width="45.9" height="10.2" fill="#e7c97a"/>
<rect x="719.3" y="1009.8" width="45.9" height="10.2" fill="#e7cb7f"/>
<rect x="764.8" y="1009.8" width="45.9" height="10.2" fill="#e8ce85"/>
<rect x="810.2" y="1009.8" width="45.9" height="10.2" fill="#e8d08b"/>
<rect x="855.6" y="1009.8" width="45.9" height="10.2" fill="#e9d597"/>
<rect x="901.0" y="1009.8" width="45.9" height="10.2" fill="#eadaa3"/>
<rect x="946.5" y="1009.8" width="45.9" height="10.2" fill="#ebddab"/>
<rect x="991.9" y="1009.8" width="45.9" height="10.2" fill="#ede2ba"/>
<rect x="1037.3" y="1009.8" width="45.9" height="10.2" fill="#eee4c1"/>
<rect x="1082.8" y="1009.8" width="45.9" height="10.2" fill="#f0e9d0"/>
<rect x="1128.2" y="1009.8" width="45.9" height="10.2" fill="#f1ebd6"/>
<rect x="1173.6" y="1009.8" width="45.9" height="10.2" fill="#f2eddc"/>
<rect x="1219.0" y="1009.8" width="45.9" height="10.2" fill="#f1ebd6"/>
<rect x="1264.5" y="1009.8" width="45.9" height="10.2" fill="#f0e9d0"/>
<rect x="1309.9" y="1009.8" width="45.9" height="10.2" fill="#efe7c9"/>
<rect x="1355.3" y="1009.8" width="91.4" height="10.2" fill="#eee4c1"/>
<rect x="1446.2" y="1009.8" width="45.9" height="10.2" fill="#ede2ba"/>
<rect x="1491.6" y="1009.8" width="45.9" height="10.2" fill="#ecdfb2"/>
<rect x="1537.0" y="1009.8" width="45.9" height="10.2" fill="#ebddab"/>
<rect x="1582.5" y="1009.8" width="45.9" height="10.2" fill="#eadaa3"/>
<rect x="1627.9" y="1009.8" width="45.9" height="10.2" fill="#ead89d"/>
<rect x="1673.3" y="1009.8" width="91.4" height="10.2" fill="#e9d597"/>
<rect x="1764.2" y="1009.8" width="45.9" height="10.2" fill="#e9d391"/>
<rect x="1809.6" y="1009.8" width="91.4" height="10.2" fill="#e8d08b"/>
<rect x="1900.4" y="1009.8" width="91.4" height="10.2" fill="#e8ce85"/>
<rect x="1991.3" y="1009.8" width="45.9" height="10.2" fill="#e7cb7f"/>
<rect x="2036.7" y="1009.8" width="45.9" height="10.2" fill="#e7c97a"/>
<rect x="2082.1" y="1009.8" width="90.9" height="10.2" fill="#e7c775"/>
<rect x="310.5" y="1019.3" width="45.9" height="10.2" fill="#e0801d"/>
<rect x="355.9" y="1019.3" width="45.9" height="10.2" fill="#e18621"/>
<rect x="401.4" y="1019.3" width="45.9" height="10.2" fill="#e18c25"/>
<rect x="446.8" y="1019.3" width="45.9" height="10.2" fill="#e29129"/>
<rect x="492.2" y="1019.3" width="45.9" height="10.2" fill="#e2942b"/>
<rect x="537.6" y="1019.3" width="45.9" height="10.2" fill="#e3962d"/>
<rect x="583.1" y="1019.3" width="45.9" height="10.2" fill="#e3992f"/>
<rect x="628.5" y="1019.3" width="45.9" height="10.2" fill="#e49e34"/>
<rect x="673.9" y="1019.3" width="45.9" height="10.2" fill="#e4a136"/>
<rect x="719.3" y="1019.3" width="45.9" height="10.2" fill="#e4a63d"/>
<rect x="764.8" y="1019.3" width="45.9" height="10.2" fill="#e5a841"/>
<rect x="810.2" y="1019.3" width="45.9" height="10.2" fill="#e5b04b"/>
<rect x="855.6" y="1019.3" width="45.9" height="10.2" fill="#e5b552"/>
<rect x="901.0" y="1019.3" width="45.9" height="10.2" fill="#e6bc5d"/>
<rect x="946.5" y="1019.3" width="45.9" height="10.2" fill="#e6c166"/>
<rect x="991.9" y="1019.3" width="45.9" height="10.2" fill="#e7c775"/>
<rect x="1037.3" y="1019.3" width="45.9" height="10.2" fill="#e7cb7f"/>
<rect x="1082.8" y="1019.3" width="45.9" height="10.2" fill="#e9d391"/>
<rect x="1128.2" y="1019.3" width="45.9" height="10.2" fill="#ead89d"/>
<rect x="1173.6" y="1019.3" width="45.9" height="10.2" fill="#eadaa3"/>
<rect x="1219.0" y="1019.3" width="45.9" height="10.2" fill="#ebddab"/>
<rect x="1264.5" y="1019.3" width="91.4" height="10.2" fill="#ecdfb2"/>
<rect x="1355.3" y="1019.3" width="91.4" height="10.2" fill="#ebddab"/>
<rect x="1446.2" y="1019.3" width="91.4" height="10.2" fill="#eadaa3"/>
<rect x="1537.0" y="1019.3" width="45.9" height="10.2" fill="#ead89d"/>
<rect x="1582.5" y="1019.3" width="91.4" height="10.2" fill="#e9d597"/>
<rect x="1673.3" y="1019.3" width="45.9" height="10.2" fill="#e9d391"/>
<rect x="1718.7" y="1019.3" width="91.4" height="10.2" fill="#e8d08b"/>
<rect x="1809.6" y="1019.3" width="91.4" height="10.2" fill="#e8ce85"/>
<rect x="1900.4" y="1019.3" width="45.9" height="10.2" fill="#e7cb7f"/>
<rect x="1945.9" y="1019.3" width="45.9" height="10.2" fill="#e7c97a"/>
<rect x="1991.3" y="1019.3" width="45.9" height="10.2" fill="#e7c775"/>
<rect x="2036.7" y="1019.3" width="45.9" height="10.2" fill="#e6c36b"/>
<rect x="2082.1" y="1019.3" width="45.9" height="10.2" fill="#e6c166"/>
<rect x="2127.6" y="1019.3" width="45.4" height="10.2" fill="#e6bf61"/>
<rect x="310.5" y="1028.9" width="136.8" height="10.2" fill="#e6bf61"/>
<rect x="446.8" y="1028.9" width="45.9" height="10.2" fill="#e6c166"/>
<rect x="492.2" y="1028.9" width="45.9" height="10.2" fill="#e6c36b"/>
<rect x="537.6" y="1028.9" width="91.4" height="10.2" fill="#e7c570"/>
<rect x="628.5" y="1028.9" width="45.9" height="10.2" fill="#e7c775"/>
<rect x="673.9" y="1028.9" width="45.9" height="10.2" fill="#e7c97a"/>
<rect x="719.3" y="1028.9" width="91.4" height="10.2" fill="#e7cb7f"/>
<rect x="810.2" y="1028.9" width="45.9" height="10.2" fill="#e8ce85"/>
<rect x="855.6" y="1028.9" width="91.4" height="10.2" fill="#e8d08b"/>
<rect x="946.5" y="1028.9" width="45.9" height="10.2" fill="#e9d391"/>
<rect x="991.9" y="1028.9" width="91.4" height="10.2" fill="#e9d597"/>
<rect x="1082.8" y="1028.9" width="91.4" height="10.2" fill="#ead89d"/>
<rect x="1173.6" y="1028.9" width="45.9" height="10.2" fill="#eadaa3"/>
<rect x="1219.0" y="1028.9" width="136.8" height="10.2" fill="#ead89d"/>
<rect x="1355.3" y="1028.9" width="136.8" height="10.2" fill="#e9d597"/>
<rect x="1491.6" y="1028.9" width="182.2" height="10.2" fill="#e9d391"/>
<rect x="1673.3" y="1028.9" width="136.8" height="10.2" fill="#e8d08b"/>
<rect x="1809.6" y="1028.9" width="91.4" height="10.2" fill="#e8ce85"/>
<rect x="1900.4" y="1028.9" width="91.4" height="10.2" fill="#e7cb7f"/>
<rect x="1991.3" y="1028.9" width="45.9" height="10.2" fill="#e7c97a"/>
<rect x="2036.7" y="1028.9" width="136.3" height="10.2" fill="#e7c775"/>
<rect x="310.5" y="1038.5" width="91.4" height="10.2" fill="#e8d08b"/>
<rect x="401.4" y="1038.5" width="91.4" height="10.2" fill="#e9d391"/>
<rect x="492.2" y="1038.5" width="45.9" height="10.2" fill="#e9d597"/>
<rect x="537.6" y="1038.5" width="45.9" height="10.2" fill="#ead89d"/>
<rect x="583.1" y="1038.5" width="91.4" height="10.2" fill="#eadaa3"/>
<rect x="673.9" y="1038.5" width="91.4" height="10.2" fill="#ebddab"/>
<rect x="764.8" y="1038.5" width="91.4" height="10.2" fill="#ecdfb2"/>
<rect x="855.6" y="1038.5" width="45.9" height="10.2" fill="#ede2ba"/>
<rect x="901.0" y="1038.5" width="91.4" height="10.2" fill="#eee4c1"/>
<rect x="991.9" y="1038.5" width="136.8" height="10.2" fill="#efe7c9"/>
<rect x="1128.2" y="1038.5" width="91.4" height="10.2" fill="#eee4c1"/>
<rect x="1219.0" y="1038.5" width="45.9" height="10.2" fill="#ede2ba"/>
<rect x="1264.5" y="1038.5" width="45.9" height="10.2" fill="#ecdfb2"/>
<rect x="1309.9" y="1038.5" width="45.9" height="10.2" fill="#ebddab"/>
<rect x="1355.3" y="1038.5" width="45.9" height="10.2" fill="#ead89d"/>
<rect x="1400.7" y="1038.5" width="45.9" height="10.2" fill="#e9d391"/>
<rect x="1446.2" y="1038.5" width="45.9" height="10.2" fill="#e8ce85"/>
<rect x="1491.6" y="1038.5" width="45.9" height="10.2" fill="#e7c97a"/>
<rect x="1537.0" y="1038.5" width="45.9" height="10.2" fill="#e7c775"/>
<rect x="1582.5" y="1038.5" width="45.9" height="10.2" fill="#e7c570"/>
<rect x="1627.9" y="1038.5" width="45.9" height="10.2" fill="#e6c36b"/>
<rect x="1673.3" y="1038.5" width="91.4" height="10.2" fill="#e6c166"/>
<rect x="1764.2" y="1038.5" width="45.9" height="10.2" fill="#e6bc5d"/>
<rect x="1809.6" y="1038.5" width="45.9" height="10.2" fill="#e6ba5a"/>
<rect x="1855.0" y="1038.5" width="45.9" height="10.2" fill="#e5b552"/>
<rect x="1900.4" y="1038.5" width="45.9" height="10.2" fill="#e5b24f"/>
<rect x="1945.9" y="1038.5" width="45.9" height="10.2" fill="#e5ad48"/>
<rect x="1991.3" y="1038.5" width="45.9" height="10.2" fill="#e5a841"/>
<rect x="2036.7" y="1038.5" width="45.9" height="10.2" fill="#e4a136"/>
<rect x="2082.1" y="1038.5" width="45.9" height="10.2" fill="#e39c32"/>
<rect x="2127.6" y="1038.5" width="45.4" height="10.2" fill="#e3992f"/>
<rect x="310.5" y="1048.0" width="45.9" height="10.2" fill="#e5a841"/>
<rect x="355.9" y="1048.0" width="45.9" height="10.2" fill="#e5ab44"/>
<rect x="401.4" y="1048.0" width="45.9" height="10.2" fill="#e5b04b"/>
<rect x="446.8" y="1048.0" width="45.9" height="10.2" fill="#e5b552"/>
<rect x="492.2" y="1048.0" width="45.9" height="10.2" fill="#e6ba5a"/>
<rect x="537.6" y="1048.0" width="45.9" height="10.2" fill="#e6bc5d"/>
<rect x="583.1" y="1048.0" width="45.9" height="10.2" fill="#e6bf61"/>
<rect x="628.5" y="1048.0" width="45.9" height="10.2" fill="#e6c166"/>
<rect x="673.9" y="1048.0" width="45.9" height="10.2" fill="#e6c36b"/>
<rect x="719.3" y="1048.0" width="45.9" height="10.2" fill="#e7c775"/>
<rect x="764.8" y="1048.0" width="45.9" height="10.2" fill="#e7c97a"/>
<rect x="810.2" y="1048.0" width="45.9" height="10.2" fill="#e8ce85"/>
<rect x="855.6" y="1048.0" width="45.9" height="10.2" fill="#e9d391"/>
<rect x="901.0" y="1048.0" width="45.9" height="10.2" fill="#eadaa3"/>
<rect x="946.5" y="1048.0" width="45.9" height="10.2" fill="#ecdfb2"/>
<rect x="991.9" y="1048.0" width="45.9" height="10.2" fill="#eee4c1"/>
<rect x="1037.3" y="1048.0" width="45.9" height="10.2" fill="#f0e9d0"/>
<rect x="1082.8" y="1048.0" width="45.9" height="10.2" fill="#f1ebd6"/>
<rect x="1128.2" y="1048.0" width="45.9" height="10.2" fill="#f2eddc"/>
<rect x="1173.6" y="1048.0" width="45.9" height="10.2" fill="#f3efe2"/>
<rect x="1219.0" y="1048.0" width="45.9" height="10.2" fill="#f2eddc"/>
<rect x="1264.5" y="1048.0" width="45.9" height="10.2" fill="#f1ebd6"/>
<rect x="1309.9" y="1048.0" width="45.9" height="10.2" fill="#efe7c9"/>
<rect x="1355.3" y="1048.0" width="45.9" height="10.2" fill="#eee4c1"/>
<rect x="1400.7" y="1048.0" width="45.9" height="10.2" fill="#ede2ba"/>
<rect x="1446.2" y="1048.0" width="45.9" height="10.2" fill="#ebddab"/>
<rect x="1491.6" y="1048.0" width="45.9" height="10.2" fill="#eadaa3"/>
<rect x="1537.0" y="1048.0" width="45.9" height="10.2" fill="#ead89d"/>
<rect x="1582.5" y="1048.0" width="45.9" height="10.2" fill="#e9d597"/>
<rect x="1627.9" y="1048.0" width="45.9" height="10.2" fill="#e9d391"/>
<rect x="1673.3" y="1048.0" width="45.9" height="10.2" fill="#e8d08b"/>
<rect x="1718.7" y="1048.0" width="45.9" height="10.2" fill="#e8ce85"/>
<rect x="1764.2" y="1048.0" width="45.9" height="10.2" fill="#e7c97a"/>
<rect x="1809.6" y="1048.0" width="45.9" height="10.2" fill="#e7c775"/>
<rect x="1855.0" y="1048.0" width="45.9" height="10.2" fill="#e7c570"/>
<rect x="1900.4" y="1048.0" width="45.9" height="10.2" fill="#e6c36b"/>
<rect x="1945.9" y="1048.0" width="45.9" height="10.2" fill="#e6bf61"/>
<rect x="1991.3" y="1048.0" width="45.9" height="10.2" fill="#e6ba5a"/>
<rect x="2036.7" y="1048.0" width="45.9" height="10.2" fill="#e5b24f"/>
<rect x="2082.1" y="1048.0" width="45.9" height="10.2" fill="#e5ad48"/>
<rect x="2127.6" y="1048.0" width="45.4" height="10.2" fill="#e5a841"/>
<rect x="310.5" y="1057.6" width="91.4" height="10.2" fill="#e8d08b"/>
<rect x="401.4" y="1057.6" width="91.4" height="10.2" fill="#e9d391"/>
<rect x="492.2" y="1057.6" width="45.9" height="10.2" fill="#e9d597"/>
<rect x="537.6" y="1057.6" width="45.9" height="10.2" fill="#ead89d"/>
<rect x="583.1" y="1057.6" width="45.9" height="10.2" fill="#eadaa3"/>
<rect x="628.5" y="1057.6" width="91.4" height="10.2" fill="#ebddab"/>
<rect x="719.3" y="1057.6" width="45.9" height="10.2" fill="#ecdfb2"/>
<rect x="764.8" y="1057.6" width="91.4" height="10.2" fill="#ede2ba"/>
<rect x="855.6" y="1057.6" width="91.4" height="10.2" fill="#eee4c1"/>
<rect x="946.5" y="1057.6" width="91.4" height="10.2" fill="#efe7c9"/>
<rect x="1037.3" y="1057.6" width="136.8" height="10.2" fill="#f0e9d0"/>
<rect x="1173.6" y="1057.6" width="227.6" height="10.2" fill="#f1ebd6"/>
<rect x="1400.7" y="1057.6" width="182.2" height="10.2" fill="#f0e9d0"/>
<rect x="1582.5" y="1057.6" width="182.2" height="10.2" fill="#efe7c9"/>
<rect x="1764.2" y="1057.6" width="136.8" height="10.2" fill="#eee4c1"/>
<rect x="1900.4" y="1057.6" width="45.9" height="10.2" fill="#ede2ba"/>
<rect x="1945.9" y="1057.6" width="45.9" height="10.2" fill="#ecdfb2"/>
<rect x="1991.3" y="1057.6" width="91.4" height="10.2" fill="#ebddab"/>
<rect x="2082.1" y="1057.6" width="90.9" height="10.2" fill="#eadaa3"/>
<rect x="310.5" y="1067.1" width="45.9" height="10.2" fill="#e9d391"/>
<rect x="355.9" y="1067.1" width="136.8" height="10.2" fill="#e9d597"/>
<rect x="492.2" y="1067.1" width="91.4" height="10.2" fill="#ead89d"/>
<rect x="583.1" y="1067.1" width="91.4" height="10.2" fill="#eadaa3"/>
<rect x="673.9" y="1067.1" width="91.4" height="10.2" fill="#ebddab"/>
<rect x="764.8" y="1067.1" width="91.4" height="10.2" fill="#ecdfb2"/>
<rect x="855.6" y="1067.1" width="45.9" height="10.2" fill="#ede2ba"/>
<rect x="901.0" y="1067.1" width="91.4" height="10.2" fill="#eee4c1"/>
<rect x="991.9" y="1067.1" width="45.9" height="10.2" fill="#efe7c9"/>
<rect x="1037.3" y="1067.1" width="91.4" height="10.2" fill="#f0e9d0"/>
<rect x="1128.2" y="1067.1" width="136.8" height="10.2" fill="#f1ebd6"/>
<rect x="1264.5" y="1067.1" width="136.8" height="10.2" fill="#f0e9d0"/>
<rect x="1400.7" y="1067.1" width="136.8" height="10.2" fill="#efe7c9"/>
<rect x="1537.0" y="1067.1" width="182.2" height="10.2" fill="#eee4c1"/>
<rect x="1718.7" y="1067.1" width="91.4" height="10.2" fill="#ede2ba"/>
<rect x="1809.6" y="1067.1" width="45.9" height="10.2" fill="#ecdfb2"/>
<rect x="1855.0" y="1067.1" width="91.4" height="10.2" fill="#ebddab"/>
<rect x="1945.9" y="1067.1" width="45.9" height="10.2" fill="#eadaa3"/>
<rect x="1991.3" y="1067.1" width="45.9" height="10.2" fill="#ead89d"/>
<rect x="2036.7" y="1067.1" width="45.9" height="10.2" fill="#e9d597"/>
<rect x="2082.1" y="1067.1" width="45.9" height="10.2" fill="#e9d391"/>
<rect x="2127.6" y="1067.1" width="45.4" height="10.2" fill="#e8d08b"/>
<rect x="310.5" y="1076.7" width="91.4" height="10.2" fill="#e6bf61"/>
<rect x="401.4" y="1076.7" width="45.9" height="10.2" fill="#e6c166"/>
<rect x="446.8" y="1076.7" width="45.9" height="10.2" fill="#e6c36b"/>
<rect x="492.2" y="1076.7" width="45.9" height="10.2" fill="#e7c570"/>
<rect x="537.6" y="1076.7" width="45.9" height="10.2" fill="#e7c775"/>
<rect x="583.1" y="1076.7" width="45.9" height="10.2" fill="#e7cb7f"/>
<rect x="628.5" y="1076.7" width="45.9" height="10.2" fill="#e8ce85"/>
<rect x="673.9" y="1076.7" width="45.9" height="10.2" fill="#e8d08b"/>
<rect x="719.3" y="1076.7" width="45.9" height="10.2" fill="#e9d391"/>
<rect x="764.8" y="1076.7" width="45.9" height="10.2" fill="#ead89d"/>
<rect x="810.2" y="1076.7" width="45.9" height="10.2" fill="#eadaa3"/>
<rect x="855.6" y="1076.7" width="45.9" height="10.2" fill="#ebddab"/>
<rect x="901.0" y="1076.7" width="45.9" height="10.2" fill="#ecdfb2"/>
<rect x="946.5" y="1076.7" width="45.9" height="10.2" fill="#ede2ba"/>
<rect x="991.9" y="1076.7" width="91.4" height="10.2" fill="#eee4c1"/>
<rect x="1082.8" y="1076.7" width="273.1" height="10.2" fill="#efe7c9"/>
<rect x="1355.3" y="1076.7" width="45.9" height="10.2" fill="#eee4c1"/>
<rect x="1400.7" y="1076.7" width="91.4" height="10.2" fill="#ede2ba"/>
<rect x="1491.6" y="1076.7" width="91.4" height="10.2" fill="#ecdfb2"/>
<rect x="1582.5" y="1076.7" width="91.4" height="10.2" fill="#ebddab"/>
<rect x="1673.3" y="1076.7" width="91.4" height="10.2" fill="#eadaa3"/>
<rect x="1764.2" y="1076.7" width="45.9" height="10.2" fill="#ead89d"/>
<rect x="1809.6" y="1076.7" width="91.4" height="10.2" fill="#e9d597"/>
<rect x="1900.4" y="1076.7" width="45.9" height="10.2" fill="#e9d391"/>
<rect x="1945.9" y="1076.7" width="45.9" height="10.2" fill="#e8d08b"/>
<rect x="1991.3" y="1076.7" width="45.9" height="10.2" fill="#e8ce85"/>
<rect x="2036.7" y="1076.7" width="45.9" height="10.2" fill="#e7cb7f"/>
<rect x="2082.1" y="1076.7" width="90.9" height="10.2" fill="#e7c97a"/>
<rect x="310.5" y="1086.2" width="136.8" height="10.2" fill="#eadaa3"/>
<rect x="446.8" y="1086.2" width="45.9" height="10.2" fill="#ebddab"/>
<rect x="492.2" y="1086.2" width="45.9" height="10.2" fill="#ecdfb2"/>
<rect x="537.6" y="1086.2" width="91.4" height="10.2" fill="#ede2ba"/>
<rect x="628.5" y="1086.2" width="91.4" height="10.2" fill="#eee4c1"/>
<rect x="719.3" y="1086.2" width="91.4" height="10.2" fill="#efe7c9"/>
<rect x="810.2" y="1086.2" width="136.8" height="10.2" fill="#f0e9d0"/>
<rect x="946.5" y="1086.2" width="273.1" height="10.2" fill="#f1ebd6"/>
<rect x="1219.0" y="1086.2" width="182.2" height="10.2" fill="#f0e9d0"/>
<rect x="1400.7" y="1086.2" width="136.8" height="10.2" fill="#efe7c9"/>
<rect x="1537.0" y="1086.2" width="91.4" height="10.2" fill="#eee4c1"/>
<rect x="1627.9" y="1086.2" width="91.4" height="10.2" fill="#ede2ba"/>
<rect x="1718.7" y="1086.2" width="91.4" height="10.2" fill="#ecdfb2"/>
<rect x="1809.6" y="1086.2" width="91.4" height="10.2" fill="#ebddab"/>
<rect x="1900.4" y="1086.2" width="91.4" height="10.2" fill="#eadaa3"/>
<rect x="1991.3" y="1086.2" width="45.9" height="10.2" fill="#ead89d"/>
<rect x="2036.7" y="1086.2" width="45.9" height="10.2" fill="#e9d597"/>
<rect x="2082.1" y="1086.2" width="45.9" height="10.2" fill="#e9d391"/>
<rect x="2127.6" y="1086.2" width="45.4" height="10.2" fill="#e8d08b"/>
<rect x="310.5" y="1095.8" width="91.4" height="10.2" fill="#e6bf61"/>
<rect x="401.4" y="1095.8" width="45.9" height="10.2" fill="#e6c166"/>
<rect x="446.8" y="1095.8" width="45.9" height="10.2" fill="#e6c36b"/>
<rect x="492.2" y="1095.8" width="45.9" height="10.2" fill="#e7c570"/>
<rect x="537.6" y="1095.8" width="45.9" height="10.2" fill="#e7c775"/>
<rect x="583.1" y="1095.8" width="91.4" height="10.2" fill="#e7cb7f"/>
<rect x="673.9" y="1095.8" width="91.4" height="10.2" fill="#e8ce85"/>
<rect x="764.8" y="1095.8" width="91.4" height="10.2" fill="#e8d08b"/>
<rect x="855.6" y="1095.8" width="45.9" height="10.2" fill="#e9d391"/>
<rect x="901.0" y="1095.8" width="91.4" height="10.2" fill="#e9d597"/>
<rect x="991.9" y="1095.8" width="91.4" height="10.2" fill="#ead89d"/>
<rect x="1082.8" y="1095.8" width="91.4" height="10.2" fill="#eadaa3"/>
<rect x="1173.6" y="1095.8" width="136.8" height="10.2" fill="#ebddab"/>
<rect x="1309.9" y="1095.8" width="227.6" height="10.2" fill="#ecdfb2"/>
<rect x="1537.0" y="1095.8" width="136.8" height="10.2" fill="#ebddab"/>
<rect x="1673.3" y="1095.8" width="91.4" height="10.2" fill="#eadaa3"/>
<rect x="1764.2" y="1095.8" width="91.4" height="10.2" fill="#ead89d"/>
<rect x="1855.0" y="1095.8" width="91.4" height="10.2" fill="#e9d597"/>
<rect x="1945.9" y="1095.8" width="91.4" height="10.2" fill="#e9d391"/>
<rect x="2036.7" y="1095.8" width="45.9" height="10.2" fill="#e8d08b"/>
<rect x="2082.1" y="1095.8" width="90.9" height="10.2" fill="#e8ce85"/>
<rect x="310.5" y="1105.3" width="45.9" height="10.2" fill="#e7c775"/>
<rect x="355.9" y="1105.3" width="45.9" height="10.2" fill="#e7c97a"/>
<rect x="401.4" y="1105.3" width="45.9" height="10.2" fill="#e8ce85"/>
<rect x="446.8" y="1105.3" width="45.9" height="10.2" fill="#e8d08b"/>
<rect x="492.2" y="1105.3" width="45.9" height="10.2" fill="#e9d597"/>
<rect x="537.6" y="1105.3" width="45.9" height="10.2" fill="#ead89d"/>
<rect x="583.1" y="1105.3" width="91.4" height="10.2" fill="#eadaa3"/>
<rect x="673.9" y="1105.3" width="91.4" height="10.2" fill="#ebddab"/>
<rect x="764.8" y="1105.3" width="91.4" height="10.2" fill="#ecdfb2"/>
<rect x="855.6" y="1105.3" width="91.4" height="10.2" fill="#ede2ba"/>
<rect x="946.5" y="1105.3" width="182.2" height="10.2" fill="#eee4c1"/>
<rect x="1128.2" y="1105.3" width="45.9" height="10.2" fill="#ede2ba"/>
<rect x="1173.6" y="1105.3" width="45.9" height="10.2" fill="#ecdfb2"/>
<rect x="1219.0" y="1105.3" width="45.9" height="10.2" fill="#ebddab"/>
<rect x="1264.5" y="1105.3" width="45.9" height="10.2" fill="#eadaa3"/>
<rect x="1309.9" y="1105.3" width="91.4" height="10.2" fill="#ead89d"/>
<rect x="1400.7" y="1105.3" width="45.9" height="10.2" fill="#e9d597"/>
<rect x="1446.2" y="1105.3" width="45.9" height="10.2" fill="#e9d391"/>
<rect x="1491.6" y="1105.3" width="45.9" height="10.2" fill="#e8d08b"/>
<rect x="1537.0" y="1105.3" width="45.9" height="10.2" fill="#e8ce85"/>
<rect x="1582.5" y="1105.3" width="45.9" height="10.2" fill="#e7cb7f"/>
<rect x="1627.9" y="1105.3" width="45.9" height="10.2" fill="#e7c97a"/>
<rect x="1673.3" y="1105.3" width="45.9" height="10.2" fill="#e7c775"/>
<rect x="1718.7" y="1105.3" width="45.9" height="10.2" fill="#e7c570"/>
<rect x="1764.2" y="1105.3" width="45.9" height="10.2" fill="#e6c36b"/>
<rect x="1809.6" y="1105.3" width="45.9" height="10.2" fill="#e6bf61"/>
<rect x="1855.0" y="1105.3" width="45.9" height="10.2" fill="#e6bc5d"/>
<rect x="1900.4" y="1105.3" width="45.9" height="10.2" fill="#e6b756"/>
<rect x="1945.9" y="1105.3" width="45.9" height="10.2" fill="#e5b552"/>
<rect x="1991.3" y="1105.3" width="45.9" height="10.2" fill="#e5b04b"/>
<rect x="2036.7" y="1105.3" width="45.9" height="10.2" fill="#e5ab44"/>
<rect x="2082.1" y="1105.3" width="45.9" height="10.2" fill="#e4a63d"/>
<rect x="2127.6" y="1105.3" width="45.4" height="10.2" fill="#e4a136"/>
<rect x="310.5" y="1114.9" width="45.9" height="10.2" fill="#e9d597"/>
<rect x="355.9" y="1114.9" width="45.9" height="10.2" fill="#eadaa3"/>
<rect x="401.4" y="1114.9" width="45.9" height="10.2" fill="#ebddab"/>
<rect x="446.8" y="1114.9" width="45.9" height="10.2" fill="#ecdfb2"/>
<rect x="492.2" y="1114.9" width="91.4" height="10.2" fill="#ede2ba"/>
<rect x="583.1" y="1114.9" width="136.8" height="10.2" fill="#eee4c1"/>
<rect x="719.3" y="1114.9" width="91.4" height="10.2" fill="#efe7c9"/>
<rect x="810.2" y="1114.9" width="136.8" height="10.2" fill="#f0e9d0"/>
<rect x="946.5" y="1114.9" width="136.8" height="10.2" fill="#f1ebd6"/>
<rect x="1082.8" y="1114.9" width="136.8" height="10.2" fill="#f2eddc"/>
<rect x="1219.0" y="1114.9" width="45.9" height="10.2" fill="#f1ebd6"/>
<rect x="1264.5" y="1114.9" width="91.4" height="10.2" fill="#f0e9d0"/>
<rect x="1355.3" y="1114.9" width="45.9" height="10.2" fill="#efe7c9"/>
<rect x="1400.7" y="1114.9" width="45.9" height="10.2" fill="#eee4c1"/>
<rect x="1446.2" y="1114.9" width="45.9" height="10.2" fill="#ede2ba"/>
<rect x="1491.6" y="1114.9" width="91.4" height="10.2" fill="#ecdfb2"/>
<rect x="1582.5" y="1114.9" width="91.4" height="10.2" fill="#ebddab"/>
<rect x="1673.3" y="1114.9" width="91.4" height="10.2" fill="#eadaa3"/>
<rect x="1764.2" y="1114.9" width="45.9" height="10.2" fill="#ead89d"/>
<rect x="1809.6" y="1114.9" width="91.4" height="10.2" fill="#e9d597"/>
<rect x="1900.4" y="1114.9" width="45.9" height="10.2" fill="#e9d391"/>
<rect x="1945.9" y="1114.9" width="45.9" height="10.2" fill="#e8d08b"/>
<rect x="1991.3" y="1114.9" width="45.9" height="10.2" fill="#e8ce85"/>
<rect x="2036.7" y="1114.9" width="45.9" height="10.2" fill="#e7cb7f"/>
<rect x="2082.1" y="1114.9" width="90.9" height="10.2" fill="#e7c97a"/>
<rect x="310.5" y="1124.5" width="45.9" height="10.2" fill="#e9d597"/>
<rect x="355.9" y="1124.5" width="45.9" height="10.2" fill="#eadaa3"/>
<rect x="401.4" y="1124.5" width="45.9" height="10.2" fill="#ecdfb2"/>
<rect x="446.8" y="1124.5" width="45.9" height="10.2" fill="#ede2ba"/>
<rect x="492.2" y="1124.5" width="91.4" height="10.2" fill="#eee4c1"/>
<rect x="583.1" y="1124.5" width="91.4" height="10.2" fill="#efe7c9"/>
<rect x="673.9" y="1124.5" width="91.4" height="10.2" fill="#f0e9d0"/>
<rect x="764.8" y="1124.5" width="91.4" height="10.2" fill="#f1ebd6"/>
<rect x="855.6" y="1124.5" width="136.8" height="10.2" fill="#f2eddc"/>
<rect x="991.9" y="1124.5" width="45.9" height="10.2" fill="#f3efe2"/>
<rect x="1037.3" y="1124.5" width="273.1" height="10.2" fill="#f3f1e7"/>
<rect x="1309.9" y="1124.5" width="45.9" height="10.2" fill="#f3efe2"/>
<rect x="1355.3" y="1124.5" width="45.9" height="10.2" fill="#f2eddc"/>
<rect x="1400.7" y="1124.5" width="45.9" height="10.2" fill="#f1ebd6"/>
<rect x="1446.2" y="1124.5" width="45.9" height="10.2" fill="#f0e9d0"/>
<rect x="1491.6" y="1124.5" width="45.9" height="10.2" fill="#efe7c9"/>
<rect x="1537.0" y="1124.5" width="45.9" height="10.2" fill="#eee4c1"/>
<rect x="1582.5" y="1124.5" width="45.9" height="10.2" fill="#ede2ba"/>
<rect x="1627.9" y="1124.5" width="45.9" height="10.2" fill="#ecdfb2"/>
<rect x="1673.3" y="1124.5" width="45.9" height="10.2" fill="#ebddab"/>
<rect x="1718.7" y="1124.5" width="45.9" height="10.2" fill="#eadaa3"/>
<rect x="1764.2" y="1124.5" width="91.4" height="10.2" fill="#ead89d"/>
<rect x="1855.0" y="1124.5" width="45.9" height="10.2" fill="#e9d597"/>
<rect x="1900.4" y="1124.5" width="45.9" height="10.2" fill="#e9d391"/>
<rect x="1945.9" y="1124.5" width="45.9" height="10.2" fill="#e8d08b"/>
<rect x="1991.3" y="1124.5" width="45.9" height="10.2" fill="#e8ce85"/>
<rect x="2036.7" y="1124.5" width="45.9" height="10.2" fill="#e7c97a"/>
<rect x="2082.1" y="1124.5" width="90.9" height="10.2" fill="#e7c775"/>
<rect x="310.5" y="1134.0" width="45.9" height="10.2" fill="#e9d597"/>
<rect x="355.9" y="1134.0" width="45.9" height="10.2" fill="#ead89d"/>
<rect x="401.4" y="1134.0" width="45.9" height="10.2" fill="#ebddab"/>
<rect x="446.8" y="1134.0" width="45.9" height="10.2" fill="#ecdfb2"/>
<rect x="492.2" y="1134.0" width="91.4" height="10.2" fill="#ede2ba"/>
<rect x="583.1" y="1134.0" width="136.8" height="10.2" fill="#eee4c1"/>
<rect x="719.3" y="1134.0" width="91.4" height="10.2" fill="#efe7c9"/>
<rect x="810.2" y="1134.0" width="45.9" height="10.2" fill="#f0e9d0"/>
<rect x="855.6" y="1134.0" width="45.9" height="10.2" fill="#f1ebd6"/>
<rect x="901.0" y="1134.0" width="91.4" height="10.2" fill="#f2eddc"/>
<rect x="991.9" y="1134.0" width="45.9" height="10.2" fill="#f3efe2"/>
<rect x="1037.3" y="1134.0" width="45.9" height="10.2" fill="#f3f1e7"/>
<rect x="1082.8" y="1134.0" width="91.4" height="10.2" fill="#f4f3ed"/>
<rect x="1173.6" y="1134.0" width="45.9" height="10.2" fill="#f5f5f3"/>
<rect x="1219.0" y="1134.0" width="45.9" height="10.2" fill="#f4f3ed"/>
<rect x="1264.5" y="1134.0" width="45.9" height="10.2" fill="#f3f1e7"/>
<rect x="1309.9" y="1134.0" width="91.4" height="10.2" fill="#f3efe2"/>
<rect x="1400.7" y="1134.0" width="45.9" height="10.2" fill="#f2eddc"/>
<rect x="1446.2" y="1134.0" width="45.9" height="10.2" fill="#f1ebd6"/>
<rect x="1491.6" y="1134.0" width="45.9" height="10.2" fill="#f0e9d0"/>
<rect x="1537.0" y="1134.0" width="45.9" height="10.2" fill="#eee4c1"/>
<rect x="1582.5" y="1134.0" width="91.4" height="10.2" fill="#ede2ba"/>
<rect x="1673.3" y="1134.0" width="45.9" height="10.2" fill="#ecdfb2"/>
<rect x="1718.7" y="1134.0" width="91.4" height="10.2" fill="#ebddab"/>
<rect x="1809.6" y="1134.0" width="45.9" height="10.2" fill="#eadaa3"/>
<rect x="1855.0" y="1134.0" width="45.9" height="10.2" fill="#e9d597"/>
<rect x="1900.4" y="1134.0" width="45.9" height="10.2" fill="#e9d391"/>
<rect x="1945.9" y="1134.0" width="45.9" height="10.2" fill="#e8d08b"/>
<rect x="1991.3" y="1134.0" width="45.9" height="10.2" fill="#e7cb7f"/>
<rect x="2036.7" y="1134.0" width="45.9" height="10.2" fill="#e7c97a"/>
<rect x="2082.1" y="1134.0" width="90.9" height="10.2" fill="#e7c775"/>
<rect x="310.5" y="1143.6" width="45.9" height="10.2" fill="#e8d08b"/>
<rect x="355.9" y="1143.6" width="45.9" height="10.2" fill="#e9d391"/>
<rect x="401.4" y="1143.6" width="45.9" height="10.2" fill="#ead89d"/>
<rect x="446.8" y="1143.6" width="45.9" height="10.2" fill="#eadaa3"/>
<rect x="492.2" y="1143.6" width="45.9" height="10.2" fill="#ebddab"/>
<rect x="537.6" y="1143.6" width="45.9" height="10.2" fill="#ecdfb2"/>
<rect x="583.1" y="1143.6" width="91.4" height="10.2" fill="#ede2ba"/>
<rect x="673.9" y="1143.6" width="45.9" height="10.2" fill="#eee4c1"/>
<rect x="719.3" y="1143.6" width="91.4" height="10.2" fill="#efe7c9"/>
<rect x="810.2" y="1143.6" width="91.4" height="10.2" fill="#f0e9d0"/>
<rect x="901.0" y="1143.6" width="91.4" height="10.2" fill="#f1ebd6"/>
<rect x="991.9" y="1143.6" width="91.4" height="10.2" fill="#f2eddc"/>
<rect x="1082.8" y="1143.6" width="273.1" height="10.2" fill="#f3efe2"/>
<rect x="1355.3" y="1143.6" width="91.4" height="10.2" fill="#f2eddc"/>
<rect x="1446.2" y="1143.6" width="136.8" height="10.2" fill="#f1ebd6"/>
<rect x="1582.5" y="1143.6" width="91.4" height="10.2" fill="#f0e9d0"/>
<rect x="1673.3" y="1143.6" width="91.4" height="10.2" fill="#efe7c9"/>
<rect x="1764.2" y="1143.6" width="91.4" height="10.2" fill="#eee4c1"/>
<rect x="1855.0" y="1143.6" width="91.4" height="10.2" fill="#ede2ba"/>
<rect x="1945.9" y="1143.6" width="91.4" height="10.2" fill="#ecdfb2"/>
<rect x="2036.7" y="1143.6" width="45.9" height="10.2" fill="#ebddab"/>
<rect x="2082.1" y="1143.6" width="90.9" height="10.2" fill="#eadaa3"/>
<rect x="310.5" y="1153.1" width="45.9" height="10.2" fill="#e7c775"/>
<rect x="355.9" y="1153.1" width="45.9" height="10.2" fill="#e7c97a"/>
<rect x="401.4" y="1153.1" width="91.4" height="10.2" fill="#e8ce85"/>
<rect x="492.2" y="1153.1" width="45.9" height="10.2" fill="#e8d08b"/>
<rect x="537.6" y="1153.1" width="45.9" height="10.2" fill="#e9d391"/>
<rect x="583.1" y="1153.1" width="45.9" height="10.2" fill="#e9d597"/>
<rect x="628.5" y="1153.1" width="45.9" height="10.2" fill="#eadaa3"/>
<rect x="673.9" y="1153.1" width="45.9" height="10.2" fill="#ebddab"/>
<rect x="719.3" y="1153.1" width="45.9" height="10.2" fill="#ecdfb2"/>
<rect x="764.8" y="1153.1" width="91.4" height="10.2" fill="#ede2ba"/>
<rect x="855.6" y="1153.1" width="45.9" height="10.2" fill="#eee4c1"/>
<rect x="901.0" y="1153.1" width="45.9" height="10.2" fill="#efe7c9"/>
<rect x="946.5" y="1153.1" width="45.9" height="10.2" fill="#f0e9d0"/>
<rect x="991.9" y="1153.1" width="45.9" height="10.2" fill="#f1ebd6"/>
<rect x="1037.3" y="1153.1" width="91.4" height="10.2" fill="#f2eddc"/>
<rect x="1128.2" y="1153.1" width="273.1" height="10.2" fill="#f3efe2"/>
<rect x="1400.7" y="1153.1" width="363.9" height="10.2" fill="#f3f1e7"/>
<rect x="1764.2" y="1153.1" width="91.4" height="10.2" fill="#f4f3ed"/>
<rect x="1855.0" y="1153.1" width="136.8" height="10.2" fill="#f3f1e7"/>
<rect x="1991.3" y="1153.1" width="136.8" height="10.2" fill="#f3efe2"/>
<rect x="2127.6" y="1153.1" width="45.4" height="10.2" fill="#f2eddc"/>
<rect x="310.5" y="1162.7" width="45.9" height="10.2" fill="#e6c166"/>
<rect x="355.9" y="1162.7" width="45.9" height="10.2" fill="#e6c36b"/>
<rect x="401.4" y="1162.7" width="45.9" height="10.2" fill="#e7c775"/>
<rect x="446.8" y="1162.7" width="45.9" height="10.2" fill="#e7c97a"/>
<rect x="492.2" y="1162.7" width="45.9" height="10.2" fill="#e7cb7f"/>
<rect x="537.6" y="1162.7" width="45.9" height="10.2" fill="#e8ce85"/>
<rect x="583.1" y="1162.7" width="45.9" height="10.2" fill="#e8d08b"/>
<rect x="628.5" y="1162.7" width="45.9" height="10.2" fill="#e9d391"/>
<rect x="673.9" y="1162.7" width="45.9" height="10.2" fill="#e9d597"/>
<rect x="719.3" y="1162.7" width="91.4" height="10.2" fill="#ead89d"/>
<rect x="810.2" y="1162.7" width="45.9" height="10.2" fill="#eadaa3"/>
<rect x="855.6" y="1162.7" width="45.9" height="10.2" fill="#ebddab"/>
<rect x="901.0" y="1162.7" width="45.9" height="10.2" fill="#ede2ba"/>
<rect x="946.5" y="1162.7" width="45.9" height="10.2" fill="#eee4c1"/>
<rect x="991.9" y="1162.7" width="45.9" height="10.2" fill="#f0e9d0"/>
<rect x="1037.3" y="1162.7" width="45.9" height="10.2" fill="#f1ebd6"/>
<rect x="1082.8" y="1162.7" width="136.8" height="10.2" fill="#f2eddc"/>
<rect x="1219.0" y="1162.7" width="182.2" height="10.2" fill="#f3efe2"/>
<rect x="1400.7" y="1162.7" width="136.8" height="10.2" fill="#f3f1e7"/>
<rect x="1537.0" y="1162.7" width="182.2" height="10.2" fill="#f4f3ed"/>
<rect x="1718.7" y="1162.7" width="182.2" height="10.2" fill="#f5f5f3"/>
<rect x="1900.4" y="1162.7" width="272.6" height="10.2" fill="#f4f3ed"/>
<rect x="310.5" y="1172.2" width="45.9" height="10.2" fill="#e6c36b"/>
<rect x="355.9" y="1172.2" width="45.9" height="10.2" fill="#e7c570"/>
<rect x="401.4" y="1172.2" width="45.9" height="10.2" fill="#e7c775"/>
<rect x="446.8" y="1172.2" width="45.9" height="10.2" fill="#e7c97a"/>
<rect x="492.2" y="1172.2" width="45.9" height="10.2" fill="#e7cb7f"/>
<rect x="537.6" y="1172.2" width="45.9" height="10.2" fill="#e8ce85"/>
<rect x="583.1" y="1172.2" width="45.9" height="10.2" fill="#e8d08b"/>
<rect x="628.5" y="1172.2" width="45.9" height="10.2" fill="#e9d391"/>
<rect x="673.9" y="1172.2" width="45.9" height="10.2" fill="#e9d597"/>
<rect x="719.3" y="1172.2" width="91.4" height="10.2" fill="#ead89d"/>
<rect x="810.2" y="1172.2" width="45.9" height="10.2" fill="#eadaa3"/>
<rect x="855.6" y="1172.2" width="45.9" height="10.2" fill="#ebddab"/>
<rect x="901.0" y="1172.2" width="45.9" height="10.2" fill="#ede2ba"/>
<rect x="946.5" y="1172.2" width="45.9" height="10.2" fill="#eee4c1"/>
<rect x="991.9" y="1172.2" width="45.9" height="10.2" fill="#efe7c9"/>
<rect x="1037.3" y="1172.2" width="45.9" height="10.2" fill="#f0e9d0"/>
<rect x="1082.8" y="1172.2" width="91.4" height="10.2" fill="#f1ebd6"/>
<rect x="1173.6" y="1172.2" width="136.8" height="10.2" fill="#f2eddc"/>
<rect x="1309.9" y="1172.2" width="136.8" height="10.2" fill="#f3efe2"/>
<rect x="1446.2" y="1172.2" width="363.9" height="10.2" fill="#f3f1e7"/>
<rect x="1809.6" y="1172.2" width="363.4" height="10.2" fill="#f4f3ed"/>
<rect x="310.5" y="1181.8" width="136.8" height="10.2" fill="#e7c97a"/>
<rect x="446.8" y="1181.8" width="45.9" height="10.2" fill="#e7cb7f"/>
<rect x="492.2" y="1181.8" width="45.9" height="10.2" fill="#e8ce85"/>
<rect x="537.6" y="1181.8" width="45.9" height="10.2" fill="#e8d08b"/>
<rect x="583.1" y="1181.8" width="45.9" height="10.2" fill="#e9d391"/>
<rect x="628.5" y="1181.8" width="45.9" height="10.2" fill="#e9d597"/>
<rect x="673.9" y="1181.8" width="45.9" height="10.2" fill="#ead89d"/>
<rect x="719.3" y="1181.8" width="45.9" height="10.2" fill="#eadaa3"/>
<rect x="764.8" y="1181.8" width="45.9" height="10.2" fill="#ebddab"/>
<rect x="810.2" y="1181.8" width="45.9" height="10.2" fill="#ecdfb2"/>
<rect x="855.6" y="1181.8" width="45.9" height="10.2" fill="#ede2ba"/>
<rect x="901.0" y="1181.8" width="91.4" height="10.2" fill="#eee4c1"/>
<rect x="991.9" y="1181.8" width="45.9" height="10.2" fill="#efe7c9"/>
<rect x="1037.3" y="1181.8" width="91.4" height="10.2" fill="#f0e9d0"/>
<rect x="1128.2" y="1181.8" width="91.4" height="10.2" fill="#f1ebd6"/>
<rect x="1219.0" y="1181.8" width="45.9" height="10.2" fill="#f0e9d0"/>
<rect x="1264.5" y="1181.8" width="45.9" height="10.2" fill="#efe7c9"/>
<rect x="1309.9" y="1181.8" width="45.9" height="10.2" fill="#eee4c1"/>
<rect x="1355.3" y="1181.8" width="45.9" height="10.2" fill="#ede2ba"/>
<rect x="1400.7" y="1181.8" width="45.9" height="10.2" fill="#ecdfb2"/>
<rect x="1446.2" y="1181.8" width="45.9" height="10.2" fill="#ebddab"/>
<rect x="1491.6" y="1181.8" width="136.8" height="10.2" fill="#eadaa3"/>
<rect x="1627.9" y="1181.8" width="182.2" height="10.2" fill="#ead89d"/>
<rect x="1809.6" y="1181.8" width="227.6" height="10.2" fill="#e9d597"/>
<rect x="2036.7" y="1181.8" width="136.3" height="10.2" fill="#e9d391"/>
<rect x="310.5" y="1191.3" width="91.4" height="10.2" fill="#e6c36b"/>
<rect x="401.4" y="1191.3" width="91.4" height="10.2" fill="#e7c570"/>
<rect x="492.2" y="1191.3" width="91.4" height="10.2" fill="#e7c775"/>
<rect x="583.1" y="1191.3" width="91.4" height="10.2" fill="#e7c97a"/>
<rect x="673.9" y="1191.3" width="91.4" height="10.2" fill="#e7cb7f"/>
<rect x="764.8" y="1191.3" width="136.8" height="10.2" fill="#e8ce85"/>
<rect x="901.0" y="1191.3" width="91.4" height="10.2" fill="#e8d08b"/>
<rect x="991.9" y="1191.3" width="45.9" height="10.2" fill="#e9d391"/>
<rect x="1037.3" y="1191.3" width="91.4" height="10.2" fill="#e9d597"/>
<rect x="1128.2" y="1191.3" width="136.8" height="10.2" fill="#ead89d"/>
<rect x="1264.5" y="1191.3" width="45.9" height="10.2" fill="#e9d597"/>
<rect x="1309.9" y="1191.3" width="45.9" height="10.2" fill="#e9d391"/>
<rect x="1355.3" y="1191.3" width="45.9" height="10.2" fill="#e8d08b"/>
<rect x="1400.7" y="1191.3" width="91.4" height="10.2" fill="#e8ce85"/>
<rect x="1491.6" y="1191.3" width="45.9" height="10.2" fill="#e7cb7f"/>
<rect x="1537.0" y="1191.3" width="45.9" height="10.2" fill="#e7c775"/>
<rect x="1582.5" y="1191.3" width="45.9" height="10.2" fill="#e7c570"/>
<rect x="1627.9" y="1191.3" width="45.9" height="10.2" fill="#e6c166"/>
<rect x="1673.3" y="1191.3" width="45.9" height="10.2" fill="#e6bf61"/>
<rect x="1718.7" y="1191.3" width="45.9" height="10.2" fill="#e6ba5a"/>
<rect x="1764.2" y="1191.3" width="45.9" height="10.2" fill="#e6b756"/>
<rect x="1809.6" y="1191.3" width="45.9" height="10.2" fill="#e5b24f"/>
<rect x="1855.0" y="1191.3" width="45.9" height="10.2" fill="#e5ad48"/>
<rect x="1900.4" y="1191.3" width="45.9" height="10.2" fill="#e5ab44"/>
<rect x="1945.9" y="1191.3" width="45.9" height="10.2" fill="#e4a63d"/>
<rect x="1991.3" y="1191.3" width="45.9" height="10.2" fill="#e4a33a"/>
<rect x="2036.7" y="1191.3" width="136.3" height="10.2" fill="#e4a136"/>
<rect x="310.5" y="1200.9" width="45.9" height="10.2" fill="#e9d391"/>
<rect x="355.9" y="1200.9" width="136.8" height="10.2" fill="#e9d597"/>
<rect x="492.2" y="1200.9" width="91.4" height="10.2" fill="#ead89d"/>
<rect x="583.1" y="1200.9" width="45.9" height="10.2" fill="#eadaa3"/>
<rect x="628.5" y="1200.9" width="91.4" height="10.2" fill="#ebddab"/>
<rect x="719.3" y="1200.9" width="45.9" height="10.2" fill="#ecdfb2"/>
<rect x="764.8" y="1200.9" width="45.9" height="10.2" fill="#ede2ba"/>
<rect x="810.2" y="1200.9" width="91.4" height="10.2" fill="#eee4c1"/>
<rect x="901.0" y="1200.9" width="45.9" height="10.2" fill="#efe7c9"/>
<rect x="946.5" y="1200.9" width="45.9" height="10.2" fill="#f0e9d0"/>
<rect x="991.9" y="1200.9" width="45.9" height="10.2" fill="#f1ebd6"/>
<rect x="1037.3" y="1200.9" width="45.9" height="10.2" fill="#f2eddc"/>
<rect x="1082.8" y="1200.9" width="45.9" height="10.2" fill="#f3efe2"/>
<rect x="1128.2" y="1200.9" width="227.6" height="10.2" fill="#f3f1e7"/>
<rect x="1355.3" y="1200.9" width="91.4" height="10.2" fill="#f3efe2"/>
<rect x="1446.2" y="1200.9" width="227.6" height="10.2" fill="#f2eddc"/>
<rect x="1673.3" y="1200.9" width="227.6" height="10.2" fill="#f1ebd6"/>
<rect x="1900.4" y="1200.9" width="272.6" height="10.2" fill="#f0e9d0"/>
<rect x="310.5" y="1210.5" width="136.8" height="10.2" fill="#e8ce85"/>
<rect x="446.8" y="1210.5" width="91.4" height="10.2" fill="#e8d08b"/>
<rect x="537.6" y="1210.5" width="91.4" height="10.2" fill="#e9d391"/>
<rect x="628.5" y="1210.5" width="45.9" height="10.2" fill="#e9d597"/>
<rect x="673.9" y="1210.5" width="91.4" height="10.2" fill="#ead89d"/>
<rect x="764.8" y="1210.5" width="45.9" height="10.2" fill="#eadaa3"/>
<rect x="810.2" y="1210.5" width="45.9" height="10.2" fill="#ecdfb2"/>
<rect x="855.6" y="1210.5" width="45.9" height="10.2" fill="#eee4c1"/>
<rect x="901.0" y="1210.5" width="45.9" height="10.2" fill="#f0e9d0"/>
<rect x="946.5" y="1210.5" width="45.9" height="10.2" fill="#f1ebd6"/>
<rect x="991.9" y="1210.5" width="45.9" height="10.2" fill="#f3efe2"/>
<rect x="1037.3" y="1210.5" width="91.4" height="10.2" fill="#f3f1e7"/>
<rect x="1128.2" y="1210.5" width="91.4" height="10.2" fill="#f4f3ed"/>
<rect x="1219.0" y="1210.5" width="91.4" height="10.2" fill="#f5f5f3"/>
<rect x="1309.9" y="1210.5" width="45.9" height="10.2" fill="#f4f3ed"/>
<rect x="1355.3" y="1210.5" width="91.4" height="10.2" fill="#f3f1e7"/>
<rect x="1446.2" y="1210.5" width="45.9" height="10.2" fill="#f3efe2"/>
<rect x="1491.6" y="1210.5" width="91.4" height="10.2" fill="#f2eddc"/>
<rect x="1582.5" y="1210.5" width="91.4" height="10.2" fill="#f1ebd6"/>
<rect x="1673.3" y="1210.5" width="182.2" height="10.2" fill="#f0e9d0"/>
<rect x="1855.0" y="1210.5" width="318.0" height="10.2" fill="#efe7c9"/>
<rect x="310.5" y="1220.0" width="136.8" height="10.2" fill="#eadaa3"/>
<rect x="446.8" y="1220.0" width="91.4" height="10.2" fill="#ebddab"/>
<rect x="537.6" y="1220.0" width="91.4" height="10.2" fill="#ecdfb2"/>
<rect x="628.5" y="1220.0" width="45.9" height="10.2" fill="#ede2ba"/>
<rect x="673.9" y="1220.0" width="91.4" height="10.2" fill="#eee4c1"/>
<rect x="764.8" y="1220.0" width="45.9" height="10.2" fill="#efe7c9"/>
<rect x="810.2" y="1220.0" width="45.9" height="10.2" fill="#f0e9d0"/>
<rect x="855.6" y="1220.0" width="45.9" height="10.2" fill="#f1ebd6"/>
<rect x="901.0" y="1220.0" width="45.9" height="10.2" fill="#f2eddc"/>
<rect x="946.5" y="1220.0" width="45.9" height="10.2" fill="#f3efe2"/>
<rect x="991.9" y="1220.0" width="91.4" height="10.2" fill="#f3f1e7"/>
<rect x="1082.8" y="1220.0" width="91.4" height="10.2" fill="#f4f3ed"/>
<rect x="1173.6" y="1220.0" width="45.9" height="10.2" fill="#f5f5f3"/>
<rect x="1219.0" y="1220.0" width="91.4" height="10.2" fill="#f4f3ed"/>
<rect x="1309.9" y="1220.0" width="91.4" height="10.2" fill="#f3f1e7"/>
<rect x="1400.7" y="1220.0" width="45.9" height="10.2" fill="#f3efe2"/>
<rect x="1446.2" y="1220.0" width="91.4" height="10.2" fill="#f2eddc"/>
<rect x="1537.0" y="1220.0" width="45.9" height="10.2" fill="#f1ebd6"/>
<rect x="1582.5" y="1220.0" width="91.4" height="10.2" fill="#f0e9d0"/>
<rect x="1673.3" y="1220.0" width="91.4" height="10.2" fill="#efe7c9"/>
<rect x="1764.2" y="1220.0" width="91.4" height="10.2" fill="#eee4c1"/>
<rect x="1855.0" y="1220.0" width="136.8" height="10.2" fill="#ede2ba"/>
<rect x="1991.3" y="1220.0" width="181.7" height="10.2" fill="#ecdfb2"/>
<rect x="310.5" y="1229.6" width="91.4" height="10.2" fill="#ecdfb2"/>
<rect x="401.4" y="1229.6" width="91.4" height="10.2" fill="#ede2ba"/>
<rect x="492.2" y="1229.6" width="91.4" height="10.2" fill="#eee4c1"/>
<rect x="583.1" y="1229.6" width="91.4" height="10.2" fill="#efe7c9"/>
<rect x="673.9" y="1229.6" width="91.4" height="10.2" fill="#f0e9d0"/>
<rect x="764.8" y="1229.6" width="91.4" height="10.2" fill="#f1ebd6"/>
<rect x="855.6" y="1229.6" width="91.4" height="10.2" fill="#f2eddc"/>
<rect x="946.5" y="1229.6" width="45.9" height="10.2" fill="#f3efe2"/>
<rect x="991.9" y="1229.6" width="91.4" height="10.2" fill="#f3f1e7"/>
<rect x="1082.8" y="1229.6" width="91.4" height="10.2" fill="#f4f3ed"/>
<rect x="1173.6" y="1229.6" width="45.9" height="10.2" fill="#f5f5f3"/>
<rect x="1219.0" y="1229.6" width="91.4" height="10.2" fill="#f4f3ed"/>
<rect x="1309.9" y="1229.6" width="91.4" height="10.2" fill="#f3f1e7"/>
<rect x="1400.7" y="1229.6" width="91.4" height="10.2" fill="#f3efe2"/>
<rect x="1491.6" y="1229.6" width="91.4" height="10.2" fill="#f2eddc"/>
<rect x="1582.5" y="1229.6" width="45.9" height="10.2" fill="#f1ebd6"/>
<rect x="1627.9" y="1229.6" width="45.9" height="10.2" fill="#f0e9d0"/>
<rect x="1673.3" y="1229.6" width="91.4" height="10.2" fill="#efe7c9"/>
<rect x="1764.2" y="1229.6" width="91.4" height="10.2" fill="#eee4c1"/>
<rect x="1855.0" y="1229.6" width="45.9" height="10.2" fill="#ede2ba"/>
<rect x="1900.4" y="1229.6" width="91.4" height="10.2" fill="#ecdfb2"/>
<rect x="1991.3" y="1229.6" width="181.7" height="10.2" fill="#ebddab"/>
<rect x="310.5" y="1239.1" width="45.9" height="10.2" fill="#ecdfb2"/>
<rect x="355.9" y="1239.1" width="91.4" height="10.2" fill="#ede2ba"/>
<rect x="446.8" y="1239.1" width="91.4" height="10.2" fill="#eee4c1"/>
<rect x="537.6" y="1239.1" width="91.4" height="10.2" fill="#efe7c9"/>
<rect x="628.5" y="1239.1" width="136.8" height="10.2" fill="#f0e9d0"/>
<rect x="764.8" y="1239.1" width="91.4" height="10.2" fill="#f1ebd6"/>
<rect x="855.6" y="1239.1" width="45.9" height="10.2" fill="#f2eddc"/>
<rect x="901.0" y="1239.1" width="91.4" height="10.2" fill="#f3efe2"/>
<rect x="991.9" y="1239.1" width="45.9" height="10.2" fill="#f3f1e7"/>
<rect x="1037.3" y="1239.1" width="182.2" height="10.2" fill="#f4f3ed"/>
<rect x="1219.0" y="1239.1" width="91.4" height="10.2" fill="#f3f1e7"/>
<rect x="1309.9" y="1239.1" width="45.9" height="10.2" fill="#f3efe2"/>
<rect x="1355.3" y="1239.1" width="91.4" height="10.2" fill="#f2eddc"/>
<rect x="1446.2" y="1239.1" width="45.9" height="10.2" fill="#f1ebd6"/>
<rect x="1491.6" y="1239.1" width="91.4" height="10.2" fill="#f0e9d0"/>
<rect x="1582.5" y="1239.1" width="45.9" height="10.2" fill="#efe7c9"/>
<rect x="1627.9" y="1239.1" width="45.9" height="10.2" fill="#eee4c1"/>
<rect x="1673.3" y="1239.1" width="45.9" height="10.2" fill="#ede2ba"/>
<rect x="1718.7" y="1239.1" width="45.9" height="10.2" fill="#ecdfb2"/>
<rect x="1764.2" y="1239.1" width="45.9" height="10.2" fill="#ebddab"/>
<rect x="1809.6" y="1239.1" width="45.9" height="10.2" fill="#eadaa3"/>
<rect x="1855.0" y="1239.1" width="45.9" height="10.2" fill="#ead89d"/>
<rect x="1900.4" y="1239.1" width="91.4" height="10.2" fill="#e9d597"/>
<rect x="1991.3" y="1239.1" width="91.4" height="10.2" fill="#e9d391"/>
<rect x="2082.1" y="1239.1" width="90.9" height="10.2" fill="#e8d08b"/>
<rect x="310.5" y="1248.7" width="91.4" height="10.2" fill="#ede2ba"/>
<rect x="401.4" y="1248.7" width="45.9" height="10.2" fill="#eee4c1"/>
<rect x="446.8" y="1248.7" width="91.4" height="10.2" fill="#efe7c9"/>
<rect x="537.6" y="1248.7" width="136.8" height="10.2" fill="#f0e9d0"/>
<rect x="673.9" y="1248.7" width="91.4" height="10.2" fill="#f1ebd6"/>
<rect x="764.8" y="1248.7" width="91.4" height="10.2" fill="#f2eddc"/>
<rect x="855.6" y="1248.7" width="91.4" height="10.2" fill="#f3efe2"/>
<rect x="946.5" y="1248.7" width="91.4" height="10.2" fill="#f3f1e7"/>
<rect x="1037.3" y="1248.7" width="91.4" height="10.2" fill="#f4f3ed"/>
<rect x="1128.2" y="1248.7" width="91.4" height="10.2" fill="#f5f5f3"/>
<rect x="1219.0" y="1248.7" width="91.4" height="10.2" fill="#f4f3ed"/>
<rect x="1309.9" y="1248.7" width="91.4" height="10.2" fill="#f3f1e7"/>
<rect x="1400.7" y="1248.7" width="91.4" height="10.2" fill="#f3efe2"/>
<rect x="1491.6" y="1248.7" width="45.9" height="10.2" fill="#f2eddc"/>
<rect x="1537.0" y="1248.7" width="91.4" height="10.2" fill="#f1ebd6"/>
<rect x="1627.9" y="1248.7" width="45.9" height="10.2" fill="#f0e9d0"/>
<rect x="1673.3" y="1248.7" width="45.9" height="10.2" fill="#efe7c9"/>
<rect x="1718.7" y="1248.7" width="91.4" height="10.2" fill="#eee4c1"/>
<rect x="1809.6" y="1248.7" width="91.4" height="10.2" fill="#ede2ba"/>
<rect x="1900.4" y="1248.7" width="91.4" height="10.2" fill="#ecdfb2"/>
<rect x="1991.3" y="1248.7" width="181.7" height="10.2" fill="#ebddab"/>
<rect x="310.5" y="1258.2" width="45.9" height="10.2" fill="#ecdfb2"/>
<rect x="355.9" y="1258.2" width="136.8" height="10.2" fill="#ede2ba"/>
<rect x="492.2" y="1258.2" width="45.9" height="10.2" fill="#eee4c1"/>
<rect x="537.6" y="1258.2" width="91.4" height="10.2" fill="#efe7c9"/>
<rect x="628.5" y="1258.2" width="45.9" height="10.2" fill="#f0e9d0"/>
<rect x="673.9" y="1258.2" width="91.4" height="10.2" fill="#f1ebd6"/>
<rect x="764.8" y="1258.2" width="91.4" height="10.2" fill="#f2eddc"/>
<rect x="855.6" y="1258.2" width="136.8" height="10.2" fill="#f3efe2"/>
<rect x="991.9" y="1258.2" width="363.9" height="10.2" fill="#f3f1e7"/>
<rect x="1355.3" y="1258.2" width="136.8" height="10.2" fill="#f3efe2"/>
<rect x="1491.6" y="1258.2" width="91.4" height="10.2" fill="#f2eddc"/>
<rect x="1582.5" y="1258.2" width="91.4" height="10.2" fill="#f1ebd6"/>
<rect x="1673.3" y="1258.2" width="136.8" height="10.2" fill="#f0e9d0"/>
<rect x="1809.6" y="1258.2" width="91.4" height="10.2" fill="#efe7c9"/>
<rect x="1900.4" y="1258.2" width="272.6" height="10.2" fill="#eee4c1"/>
<rect x="310.5" y="1267.8" width="136.8" height="10.2" fill="#eadaa3"/>
<rect x="446.8" y="1267.8" width="91.4" height="10.2" fill="#ebddab"/>
<rect x="537.6" y="1267.8" width="91.4" height="10.2" fill="#ecdfb2"/>
<rect x="628.5" y="1267.8" width="45.9" height="10.2" fill="#ede2ba"/>
<rect x="673.9" y="1267.8" width="91.4" height="10.2" fill="#eee4c1"/>
<rect x="764.8" y="1267.8" width="45.9" height="10.2" fill="#efe7c9"/>
<rect x="810.2" y="1267.8" width="45.9" height="10.2" fill="#f0e9d0"/>
<rect x="855.6" y="1267.8" width="91.4" height="10.2" fill="#f1ebd6"/>
<rect x="946.5" y="1267.8" width="45.9" height="10.2" fill="#f2eddc"/>
<rect x="991.9" y="1267.8" width="91.4" height="10.2" fill="#f3efe2"/>
<rect x="1082.8" y="1267.8" width="182.2" height="10.2" fill="#f3f1e7"/>
<rect x="1264.5" y="1267.8" width="45.9" height="10.2" fill="#f4f3ed"/>
<rect x="1309.9" y="1267.8" width="91.4" height="10.2" fill="#f3f1e7"/>
<rect x="1400.7" y="1267.8" width="91.4" height="10.2" fill="#f3efe2"/>
<rect x="1491.6" y="1267.8" width="91.4" height="10.2" fill="#f2eddc"/>
<rect x="1582.5" y="1267.8" width="91.4" height="10.2" fill="#f1ebd6"/>
<rect x="1673.3" y="1267.8" width="136.8" height="10.2" fill="#f0e9d0"/>
<rect x="1809.6" y="1267.8" width="91.4" height="10.2" fill="#efe7c9"/>
<rect x="1900.4" y="1267.8" width="272.6" height="10.2" fill="#eee4c1"/>
<rect x="310.5" y="1277.3" width="45.9" height="10.2" fill="#e9d391"/>
<rect x="355.9" y="1277.3" width="136.8" height="10.2" fill="#e9d597"/>
<rect x="492.2" y="1277.3" width="91.4" height="10.2" fill="#ead89d"/>
<rect x="583.1" y="1277.3" width="45.9" height="10.2" fill="#eadaa3"/>
<rect x="628.5" y="1277.3" width="45.9" height="10.2" fill="#ebddab"/>
<rect x="673.9" y="1277.3" width="45.9" height="10.2" fill="#ecdfb2"/>
<rect x="719.3" y="1277.3" width="45.9" height="10.2" fill="#ede2ba"/>
<rect x="764.8" y="1277.3" width="45.9" height="10.2" fill="#eee4c1"/>
<rect x="810.2" y="1277.3" width="45.9" height="10.2" fill="#efe7c9"/>
<rect x="855.6" y="1277.3" width="91.4" height="10.2" fill="#f0e9d0"/>
<rect x="946.5" y="1277.3" width="45.9" height="10.2" fill="#f1ebd6"/>
<rect x="991.9" y="1277.3" width="45.9" height="10.2" fill="#f2eddc"/>
<rect x="1037.3" y="1277.3" width="45.9" height="10.2" fill="#f3efe2"/>
<rect x="1082.8" y="1277.3" width="182.2" height="10.2" fill="#f3f1e7"/>
<rect x="1264.5" y="1277.3" width="45.9" height="10.2" fill="#f4f3ed"/>
<rect x="1309.9" y="1277.3" width="91.4" height="10.2" fill="#f3f1e7"/>
<rect x="1400.7" y="1277.3" width="91.4" height="10.2" fill="#f3efe2"/>
<rect x="1491.6" y="1277.3" width="182.2" height="10.2" fill="#f2eddc"/>
<rect x="1673.3" y="1277.3" width="136.8" height="10.2" fill="#f1ebd6"/>
<rect x="1809.6" y="1277.3" width="136.8" height="10.2" fill="#f0e9d0"/>
<rect x="1945.9" y="1277.3" width="227.1" height="10.2" fill="#efe7c9"/>
<rect x="310.5" y="1286.9" width="182.2" height="10.2" fill="#f0e9d0"/>
<rect x="492.2" y="1286.9" width="182.2" height="10.2" fill="#f1ebd6"/>
<rect x="673.9" y="1286.9" width="182.2" height="10.2" fill="#f2eddc"/>
<rect x="855.6" y="1286.9" width="136.8" height="10.2" fill="#f3efe2"/>
<rect x="991.9" y="1286.9" width="182.2" height="10.2" fill="#f3f1e7"/>
<rect x="1173.6" y="1286.9" width="91.4" height="10.2" fill="#f4f3ed"/>
<rect x="1264.5" y="1286.9" width="182.2" height="10.2" fill="#f3f1e7"/>
<rect x="1446.2" y="1286.9" width="136.8" height="10.2" fill="#f3efe2"/>
<rect x="1582.5" y="1286.9" width="182.2" height="10.2" fill="#f2eddc"/>
<rect x="1764.2" y="1286.9" width="136.8" height="10.2" fill="#f1ebd6"/>
<rect x="1900.4" y="1286.9" width="272.6" height="10.2" fill="#f0e9d0"/>
<rect x="310.5" y="1296.5" width="45.9" height="10.2" fill="#f1ebd6"/>
<rect x="355.9" y="1296.5" width="136.8" height="10.2" fill="#f2eddc"/>
<rect x="492.2" y="1296.5" width="227.6" height="10.2" fill="#f3efe2"/>
<rect x="719.3" y="1296.5" width="363.9" height="10.2" fill="#f3f1e7"/>
<rect x="1082.8" y="1296.5" width="136.8" height="10.2" fill="#f4f3ed"/>
<rect x="1219.0" y="1296.5" width="136.8" height="10.2" fill="#f3f1e7"/>
<rect x="1355.3" y="1296.5" width="136.8" height="10.2" fill="#f3efe2"/>
<rect x="1491.6" y="1296.5" width="91.4" height="10.2" fill="#f2eddc"/>
<rect x="1582.5" y="1296.5" width="91.4" height="10.2" fill="#f1ebd6"/>
<rect x="1673.3" y="1296.5" width="182.2" height="10.2" fill="#f0e9d0"/>
<rect x="1855.0" y="1296.5" width="318.0" height="10.2" fill="#efe7c9"/>
<rect x="310.5" y="1306.0" width="45.9" height="10.2" fill="#e9d391"/>
<rect x="355.9" y="1306.0" width="136.8" height="10.2" fill="#e9d597"/>
<rect x="492.2" y="1306.0" width="91.4" height="10.2" fill="#ead89d"/>
<rect x="583.1" y="1306.0" width="45.9" height="10.2" fill="#eadaa3"/>
<rect x="628.5" y="1306.0" width="91.4" height="10.2" fill="#ebddab"/>
<rect x="719.3" y="1306.0" width="45.9" height="10.2" fill="#ecdfb2"/>
<rect x="764.8" y="1306.0" width="45.9" height="10.2" fill="#ede2ba"/>
<rect x="810.2" y="1306.0" width="91.4" height="10.2" fill="#eee4c1"/>
<rect x="901.0" y="1306.0" width="45.9" height="10.2" fill="#efe7c9"/>
<rect x="946.5" y="1306.0" width="91.4" height="10.2" fill="#f0e9d0"/>
<rect x="1037.3" y="1306.0" width="45.9" height="10.2" fill="#f1ebd6"/>
<rect x="1082.8" y="1306.0" width="45.9" height="10.2" fill="#f2eddc"/>
<rect x="1128.2" y="1306.0" width="227.6" height="10.2" fill="#f3efe2"/>
<rect x="1355.3" y="1306.0" width="136.8" height="10.2" fill="#f2eddc"/>
<rect x="1491.6" y="1306.0" width="91.4" height="10.2" fill="#f1ebd6"/>
<rect x="1582.5" y="1306.0" width="91.4" height="10.2" fill="#f0e9d0"/>
<rect x="1673.3" y="1306.0" width="91.4" height="10.2" fill="#efe7c9"/>
<rect x="1764.2" y="1306.0" width="91.4" height="10.2" fill="#eee4c1"/>
<rect x="1855.0" y="1306.0" width="136.8" height="10.2" fill="#ede2ba"/>
<rect x="1991.3" y="1306.0" width="181.7" height="10.2" fill="#ecdfb2"/>
<rect x="310.5" y="1315.6" width="227.6" height="10.2" fill="#e7cb7f"/>
<rect x="537.6" y="1315.6" width="91.4" height="10.2" fill="#e8ce85"/>
<rect x="628.5" y="1315.6" width="136.8" height="10.2" fill="#e8d08b"/>
<rect x="764.8" y="1315.6" width="45.9" height="10.2" fill="#e9d391"/>
<rect x="810.2" y="1315.6" width="91.4" height="10.2" fill="#e9d597"/>
<rect x="901.0" y="1315.6" width="45.9" height="10.2" fill="#ebddab"/>
<rect x="946.5" y="1315.6" width="45.9" height="10.2" fill="#eee3be"/>
<rect x="991.9" y="1315.6" width="91.4" height="10.2" fill="#efe6c7"/>
<rect x="1082.8" y="1315.6" width="91.4" height="10.2" fill="#f0e9d0"/>
<rect x="1173.6" y="1315.6" width="318.5" height="10.2" fill="#f0ead4"/>
<rect x="1491.6" y="1315.6" width="45.9" height="10.2" fill="#f0e9d0"/>
<rect x="1537.0" y="1315.6" width="91.4" height="10.2" fill="#efe7c9"/>
<rect x="1627.9" y="1315.6" width="91.4" height="10.2" fill="#eee4c1"/>
<rect x="1718.7" y="1315.6" width="91.4" height="10.2" fill="#ede2ba"/>
<rect x="1809.6" y="1315.6" width="91.4" height="10.2" fill="#ecdfb2"/>
<rect x="1900.4" y="1315.6" width="272.6" height="10.2" fill="#ebddab"/>
<rect x="310.5" y="1325.1" width="136.8" height="10.2" fill="#ecdfb2"/>
<rect x="446.8" y="1325.1" width="136.8" height="10.2" fill="#ede2ba"/>
<rect x="583.1" y="1325.1" width="136.8" height="10.2" fill="#eee4c1"/>
<rect x="719.3" y="1325.1" width="91.4" height="10.2" fill="#efe7c9"/>
<rect x="810.2" y="1325.1" width="45.9" height="10.2" fill="#f0e9d0"/>
<rect x="855.6" y="1325.1" width="91.4" height="10.2" fill="#f1ebd6"/>
<rect x="946.5" y="1325.1" width="45.9" height="10.2" fill="#f2eddc"/>
<rect x="991.9" y="1325.1" width="91.4" height="10.2" fill="#f3efe2"/>
<rect x="1082.8" y="1325.1" width="45.9" height="10.2" fill="#f3f1e7"/>
<rect x="1128.2" y="1325.1" width="182.2" height="10.2" fill="#f4f3ed"/>
<rect x="1309.9" y="1325.1" width="45.9" height="10.2" fill="#f3f1e7"/>
<rect x="1355.3" y="1325.1" width="45.9" height="10.2" fill="#f3efe2"/>
<rect x="1400.7" y="1325.1" width="91.4" height="10.2" fill="#f2eddc"/>
<rect x="1491.6" y="1325.1" width="91.4" height="10.2" fill="#f1ebd6"/>
<rect x="1582.5" y="1325.1" width="136.8" height="10.2" fill="#f0e9d0"/>
<rect x="1718.7" y="1325.1" width="91.4" height="10.2" fill="#efe7c9"/>
<rect x="1809.6" y="1325.1" width="91.4" height="10.2" fill="#eee4c1"/>
<rect x="1900.4" y="1325.1" width="91.4" height="10.2" fill="#ede2ba"/>
<rect x="1991.3" y="1325.1" width="181.7" height="10.2" fill="#ecdfb2"/>
<rect x="310.5" y="1334.7" width="91.4" height="10.2" fill="#f2eddc"/>
<rect x="401.4" y="1334.7" width="227.6" height="10.2" fill="#f3efe2"/>
<rect x="628.5" y="1334.7" width="182.2" height="10.2" fill="#f3f1e7"/>
<rect x="810.2" y="1334.7" width="273.1" height="10.2" fill="#f4f3ed"/>
<rect x="1082.8" y="1334.7" width="182.2" height="10.2" fill="#f5f5f3"/>
<rect x="1264.5" y="1334.7" width="91.4" height="10.2" fill="#f4f3ed"/>
<rect x="1355.3" y="1334.7" width="91.4" height="10.2" fill="#f3f1e7"/>
<rect x="1446.2" y="1334.7" width="91.4" height="10.2" fill="#f3efe2"/>
<rect x="1537.0" y="1334.7" width="91.4" height="10.2" fill="#f2eddc"/>
<rect x="1627.9" y="1334.7" width="91.4" height="10.2" fill="#f1ebd6"/>
<rect x="1718.7" y="1334.7" width="136.8" height="10.2" fill="#f0e9d0"/>
<rect x="1855.0" y="1334.7" width="91.4" height="10.2" fill="#efe7c9"/>
<rect x="1945.9" y="1334.7" width="227.1" height="10.2" fill="#eee4c1"/>
<rect x="310.5" y="1344.2" width="273.1" height="10.2" fill="#f3f1e7"/>
<rect x="583.1" y="1344.2" width="227.6" height="10.2" fill="#f4f3ed"/>
<rect x="810.2" y="1344.2" width="227.6" height="10.2" fill="#f5f5f3"/>
<rect x="1037.3" y="1344.2" width="227.6" height="10.2" fill="#f4f3ed"/>
<rect x="1264.5" y="1344.2" width="227.6" height="10.2" fill="#f3f1e7"/>
<rect x="1491.6" y="1344.2" width="182.2" height="10.2" fill="#f3efe2"/>
<rect x="1673.3" y="1344.2" width="182.2" height="10.2" fill="#f2eddc"/>
<rect x="1855.0" y="1344.2" width="318.0" height="10.2" fill="#f1ebd6"/>
<rect x="310.5" y="1353.8" width="318.5" height="10.2" fill="#f3f1e7"/>
<rect x="628.5" y="1353.8" width="227.6" height="10.2" fill="#f4f3ed"/>
<rect x="855.6" y="1353.8" width="273.1" height="10.2" fill="#f5f5f3"/>
<rect x="1128.2" y="1353.8" width="273.1" height="10.2" fill="#f4f3ed"/>
<rect x="1400.7" y="1353.8" width="273.1" height="10.2" fill="#f3f1e7"/>
<rect x="1673.3" y="1353.8" width="318.5" height="10.2" fill="#f3efe2"/>
<rect x="1991.3" y="1353.8" width="181.7" height="10.2" fill="#f2eddc"/>
<rect x="310.5" y="1363.4" width="136.8" height="10.2" fill="#f2eddc"/>
<rect x="446.8" y="1363.4" width="273.1" height="10.2" fill="#f3efe2"/>
<rect x="719.3" y="1363.4" width="182.2" height="10.2" fill="#f3f1e7"/>
<rect x="901.0" y="1363.4" width="182.2" height="10.2" fill="#f4f3ed"/>
<rect x="1082.8" y="1363.4" width="227.6" height="10.2" fill="#f5f5f3"/>
<rect x="1309.9" y="1363.4" width="182.2" height="10.2" fill="#f4f3ed"/>
<rect x="1491.6" y="1363.4" width="182.2" height="10.2" fill="#f3f1e7"/>
<rect x="1673.3" y="1363.4" width="318.5" height="10.2" fill="#f3efe2"/>
<rect x="1991.3" y="1363.4" width="181.7" height="10.2" fill="#f2eddc"/>
<rect x="310.5" y="1372.9" width="182.2" height="10.2" fill="#e9d391"/>
<rect x="492.2" y="1372.9" width="182.2" height="10.2" fill="#e9d597"/>
<rect x="673.9" y="1372.9" width="45.9" height="10.2" fill="#ead89d"/>
<rect x="719.3" y="1372.9" width="91.4" height="10.2" fill="#ebddab"/>
<rect x="810.2" y="1372.9" width="91.4" height="10.2" fill="#ece0b4"/>
<rect x="901.0" y="1372.9" width="45.9" height="10.2" fill="#eee3be"/>
<rect x="946.5" y="1372.9" width="1226.5" height="10.2" fill="#efe6c7"/>
<rect x="310.5" y="1382.5" width="273.1" height="10.2" fill="#f2eddc"/>
<rect x="583.1" y="1382.5" width="227.6" height="10.2" fill="#f3efe2"/>
<rect x="810.2" y="1382.5" width="182.2" height="10.2" fill="#f3f1e7"/>
<rect x="991.9" y="1382.5" width="136.8" height="10.2" fill="#f4f3ed"/>
<rect x="1128.2" y="1382.5" width="182.2" height="10.2" fill="#f3f1e7"/>
<rect x="1309.9" y="1382.5" width="182.2" height="10.2" fill="#f3efe2"/>
<rect x="1491.6" y="1382.5" width="318.5" height="10.2" fill="#f2eddc"/>
<rect x="1809.6" y="1382.5" width="363.4" height="10.2" fill="#f1ebd6"/>
<rect x="310.5" y="1392.0" width="318.5" height="10.2" fill="#f2eddc"/>
<rect x="628.5" y="1392.0" width="772.8" height="10.2" fill="#f3efe2"/>
<rect x="1400.7" y="1392.0" width="363.9" height="10.2" fill="#f2eddc"/>
<rect x="1764.2" y="1392.0" width="408.8" height="10.2" fill="#f1ebd6"/>
<rect x="310.5" y="1401.6" width="318.5" height="10.2" fill="#e9d391"/>
<rect x="628.5" y="1401.6" width="318.5" height="10.2" fill="#e9d597"/>
<rect x="946.5" y="1401.6" width="318.5" height="10.2" fill="#ead89d"/>
<rect x="1264.5" y="1401.6" width="454.8" height="10.2" fill="#eadaa3"/>
<rect x="1718.7" y="1401.6" width="454.3" height="10.2" fill="#ebddab"/>
<rect x="310.5" y="1411.1" width="45.9" height="10.2" fill="#e5ab44"/>
<rect x="355.9" y="1411.1" width="91.4" height="10.2" fill="#e5ad48"/>
<rect x="446.8" y="1411.1" width="91.4" height="10.2" fill="#e5b04b"/>
<rect x="537.6" y="1411.1" width="45.9" height="10.2" fill="#e5b24f"/>
<rect x="583.1" y="1411.1" width="45.9" height="10.2" fill="#e5b552"/>
<rect x="628.5" y="1411.1" width="45.9" height="10.2" fill="#e6b756"/>
<rect x="673.9" y="1411.1" width="91.4" height="10.2" fill="#e6ba5a"/>
<rect x="764.8" y="1411.1" width="45.9" height="10.2" fill="#e6bc5d"/>
<rect x="810.2" y="1411.1" width="45.9" height="10.2" fill="#e6bf61"/>
<rect x="855.6" y="1411.1" width="45.9" height="10.2" fill="#e6c166"/>
<rect x="901.0" y="1411.1" width="45.9" height="10.2" fill="#e6c36b"/>
<rect x="946.5" y="1411.1" width="45.9" height="10.2" fill="#e7c570"/>
<rect x="991.9" y="1411.1" width="45.9" height="10.2" fill="#e7c97a"/>
<rect x="1037.3" y="1411.1" width="45.9" height="10.2" fill="#e7cb7f"/>
<rect x="1082.8" y="1411.1" width="91.4" height="10.2" fill="#e8ce85"/>
<rect x="1173.6" y="1411.1" width="91.4" height="10.2" fill="#e8d08b"/>
<rect x="1264.5" y="1411.1" width="91.4" height="10.2" fill="#e8ce85"/>
<rect x="1355.3" y="1411.1" width="182.2" height="10.2" fill="#e7cb7f"/>
<rect x="1537.0" y="1411.1" width="91.4" height="10.2" fill="#e8ce85"/>
<rect x="1627.9" y="1411.1" width="182.2" height="10.2" fill="#e8d08b"/>
<rect x="1809.6" y="1411.1" width="136.8" height="10.2" fill="#e9d391"/>
<rect x="1945.9" y="1411.1" width="91.4" height="10.2" fill="#e9d597"/>
<rect x="2036.7" y="1411.1" width="91.4" height="10.2" fill="#ead89d"/>
<rect x="2127.6" y="1411.1" width="45.4" height="10.2" fill="#eadaa3"/>
<rect x="310.5" y="1420.7" width="318.5" height="10.2" fill="#e6bf61"/>
<rect x="628.5" y="1420.7" width="136.8" height="10.2" fill="#e6c166"/>
<rect x="764.8" y="1420.7" width="91.4" height="10.2" fill="#e6c36b"/>
<rect x="855.6" y="1420.7" width="45.9" height="10.2" fill="#e7c570"/>
<rect x="901.0" y="1420.7" width="91.4" height="10.2" fill="#e7c775"/>
<rect x="991.9" y="1420.7" width="45.9" height="10.2" fill="#e7c97a"/>
<rect x="1037.3" y="1420.7" width="45.9" height="10.2" fill="#e7cb7f"/>
<rect x="1082.8" y="1420.7" width="91.4" height="10.2" fill="#e8ce85"/>
<rect x="1173.6" y="1420.7" width="91.4" height="10.2" fill="#e8d08b"/>
<rect x="1264.5" y="1420.7" width="182.2" height="10.2" fill="#e9d391"/>
<rect x="1446.2" y="1420.7" width="182.2" height="10.2" fill="#e9d597"/>
<rect x="1627.9" y="1420.7" width="182.2" height="10.2" fill="#ead89d"/>
<rect x="1809.6" y="1420.7" width="136.8" height="10.2" fill="#eadaa3"/>
<rect x="1945.9" y="1420.7" width="91.4" height="10.2" fill="#ebddab"/>
<rect x="2036.7" y="1420.7" width="136.3" height="10.2" fill="#ecdfb2"/>
<rect x="310.5" y="1430.2" width="409.3" height="10.2" fill="#e7cb7f"/>
<rect x="719.3" y="1430.2" width="136.8" height="10.2" fill="#e8ce85"/>
<rect x="855.6" y="1430.2" width="45.9" height="10.2" fill="#e8d08b"/>
<rect x="901.0" y="1430.2" width="45.9" height="10.2" fill="#e9d391"/>
<rect x="946.5" y="1430.2" width="45.9" height="10.2" fill="#e9d597"/>
<rect x="991.9" y="1430.2" width="91.4" height="10.2" fill="#ead89d"/>
<rect x="1082.8" y="1430.2" width="182.2" height="10.2" fill="#eadaa3"/>
<rect x="1264.5" y="1430.2" width="227.6" height="10.2" fill="#ebddab"/>
<rect x="1491.6" y="1430.2" width="681.4" height="10.2" fill="#ecdfb2"/>
</g>
<defs><path id="e2" d="M103 0V127Q154 244 227.5 333.5Q301 423 382.0 495.5Q463 568 542.5 630.0Q622 692 686.0 754.0Q750 816 789.5 884.0Q829 952 829 1038Q829 1154 761.0 1218.0Q693 1282 572 1282Q457 1282 382.5 1219.5Q308 1157 295 1044L111 1061Q131 1230 254.5 1330.0Q378 1430 572 1430Q785 1430 899.5 1329.5Q1014 1229 1014 1044Q1014 962 976.5 881.0Q939 800 865.0 719.0Q791 638 582 468Q467 374 399.0 298.5Q331 223 301 153H1036V0Z" transform="scale(0.016113,-0.016677)" fill="#f0e6c8"/><path id="e3" d="M1049 389Q1049 194 925.0 87.0Q801 -20 571 -20Q357 -20 229.5 76.5Q102 173 78 362L264 379Q300 129 571 129Q707 129 784.5 196.0Q862 263 862 395Q862 510 773.5 574.5Q685 639 518 639H416V795H514Q662 795 743.5 859.5Q825 924 825 1038Q825 1151 758.5 1216.5Q692 1282 561 1282Q442 1282 368.5 1221.0Q295 1160 283 1049L102 1063Q122 1236 245.5 1333.0Q369 1430 563 1430Q775 1430 892.5 1331.5Q1010 1233 1010 1057Q1010 922 934.5 837.5Q859 753 715 723V719Q873 702 961.0 613.0Q1049 524 1049 389Z" transform="scale(0.016113,-0.016677)" fill="#f0e6c8"/></defs>
<defs><linearGradient id="cb" x1="0" y1="1" x2="0" y2="0">
<stop offset="0.0000" stop-color="#000000"/>
<stop offset="0.0521" stop-color="#14061a"/>
<stop offset="0.0995" stop-color="#260b3a"/>
<stop offset="0.1280" stop-color="#300e4a"/>
<stop offset="0.1754" stop-color="#4a1248"/>
<stop offset="0.2417" stop-color="#75204f"/>
<stop offset="0.2891" stop-color="#872347"/>
<stop offset="0.3365" stop-color="#96253a"/>
<stop offset="0.3839" stop-color="#ac2f2c"/>
<stop offset="0.4313" stop-color="#bf3b22"/>
<stop offset="0.4787" stop-color="#cc4719"/>
<stop offset="0.5261" stop-color="#d85511"/>
<stop offset="0.5735" stop-color="#dc6a16"/>
<stop offset="0.6209" stop-color="#e07f1c"/>
<stop offset="0.6682" stop-color="#e29028"/>
<stop offset="0.7156" stop-color="#e4a035"/>
<stop offset="0.7630" stop-color="#e5af4a"/>
<stop offset="0.8104" stop-color="#e6be60"/>
<stop offset="0.8578" stop-color="#e7cb7e"/>
<stop offset="0.9052" stop-color="#eadaa2"/>
<stop offset="0.9526" stop-color="#f0e9d0"/>
<stop offset="1.0000" stop-color="#f5f5f3"/>
</linearGradient></defs>
<rect x="2186.0" y="160.0" width="117.0" height="1280.5" fill="url(#cb)"/>
<rect x="2241" y="1372.7" width="62" height="1.4" fill="#000"/>
<text transform="translate(2315.7,1390.3) scale(1,1.035)" font-size="52">0</text>
<rect x="2241" y="1129.9" width="62" height="1.4" fill="#000"/>
<text transform="translate(2315.7,1147.5) scale(1,1.035)" font-size="52">0.2</text>
<rect x="2241" y="887.1" width="62" height="1.4" fill="#000"/>
<text transform="translate(2315.7,904.7) scale(1,1.035)" font-size="52">0.4</text>
<rect x="2241" y="644.3" width="62" height="1.4" fill="#000"/>
<text transform="translate(2315.7,661.9) scale(1,1.035)" font-size="52">0.6</text>
<rect x="2241" y="401.5" width="62" height="1.4" fill="#000"/>
<text transform="translate(2315.7,419.1) scale(1,1.035)" font-size="52">0.8</text>
<g stroke="#f0e6c8" stroke-width="2" stroke-dasharray="1 2" fill="none" shape-rendering="crispEdges"><line x1="492" y1="160" x2="492" y2="1440"/><line x1="719" y1="160" x2="719" y2="1440"/><line x1="946" y1="160" x2="946" y2="1440"/><line x1="1174" y1="160" x2="1174" y2="1440"/><line x1="1401" y1="160" x2="1401" y2="1440"/><line x1="1628" y1="160" x2="1628" y2="1440"/><line x1="1855" y1="160" x2="1855" y2="1440"/><line x1="2082" y1="160" x2="2082" y2="1440"/><line x1="311" y1="1375" x2="2173" y2="1375"/><line x1="311" y1="1320" x2="2173" y2="1320"/><line x1="311" y1="1273" x2="2173" y2="1273"/><line x1="311" y1="1232" x2="2173" y2="1232"/><line x1="311" y1="1194" x2="2173" y2="1194"/><line x1="311" y1="950" x2="2173" y2="950"/><line x1="311" y1="807" x2="2173" y2="807"/><line x1="311" y1="706" x2="2173" y2="706"/><line x1="311" y1="627" x2="2173" y2="627"/><line x1="311" y1="563" x2="2173" y2="563"/><line x1="311" y1="509" x2="2173" y2="509"/><line x1="311" y1="462" x2="2173" y2="462"/><line x1="311" y1="420" x2="2173" y2="420"/><line x1="311" y1="383" x2="2173" y2="383"/></g>
<g fill="#f0e6c8"><rect x="309.9" y="160.0" width="1.3" height="1281.1"/><rect x="309.9" y="1439.9" width="1863.1" height="1.3"/><rect x="311" y="1375" width="31" height="1"/><rect x="311" y="1320" width="31" height="1"/><rect x="311" y="1273" width="31" height="1"/><rect x="311" y="1232" width="31" height="1"/><rect x="311" y="1194" width="62" height="1"/><rect x="311" y="950" width="31" height="1"/><rect x="311" y="807" width="31" height="1"/><rect x="311" y="706" width="31" height="1"/><rect x="311" y="627" width="31" height="1"/><rect x="311" y="563" width="31" height="1"/><rect x="311" y="509" width="31" height="1"/><rect x="311" y="462" width="31" height="1"/><rect x="311" y="420" width="31" height="1"/><rect x="311" y="383" width="62" height="1"/><rect x="356" y="1422" width="1" height="18"/><rect x="401" y="1422" width="1" height="18"/><rect x="447" y="1422" width="1" height="18"/><rect x="492" y="1405" width="1" height="35"/><rect x="538" y="1422" width="1" height="18"/><rect x="583" y="1422" width="1" height="18"/><rect x="628" y="1422" width="1" height="18"/><rect x="674" y="1422" width="1" height="18"/><rect x="719" y="1405" width="1" height="35"/><rect x="765" y="1422" width="1" height="18"/><rect x="810" y="1422" width="1" height="18"/><rect x="856" y="1422" width="1" height="18"/><rect x="901" y="1422" width="1" height="18"/><rect x="946" y="1405" width="1" height="35"/><rect x="992" y="1422" width="1" height="18"/><rect x="1037" y="1422" width="1" height="18"/><rect x="1083" y="1422" width="1" height="18"/><rect x="1128" y="1422" width="1" height="18"/><rect x="1174" y="1405" width="1" height="35"/><rect x="1219" y="1422" width="1" height="18"/><rect x="1264" y="1422" width="1" height="18"/><rect x="1310" y="1422" width="1" height="18"/><rect x="1355" y="1422" width="1" height="18"/><rect x="1401" y="1405" width="1" height="35"/><rect x="1446" y="1422" width="1" height="18"/><rect x="1491" y="1422" width="1" height="18"/><rect x="1537" y="1422" width="1" height="18"/><rect x="1582" y="1422" width="1" height="18"/><rect x="1628" y="1405" width="1" height="35"/><rect x="1673" y="1422" width="1" height="18"/><rect x="1719" y="1422" width="1" height="18"/><rect x="1764" y="1422" width="1" height="18"/><rect x="1809" y="1422" width="1" height="18"/><rect x="1855" y="1405" width="1" height="35"/><rect x="1900" y="1422" width="1" height="18"/><rect x="1946" y="1422" width="1" height="18"/><rect x="1991" y="1422" width="1" height="18"/><rect x="2037" y="1422" width="1" height="18"/><rect x="2082" y="1405" width="1" height="35"/><rect x="2127" y="1422" width="1" height="18"/></g>
<text transform="translate(492.2,1493.3) scale(1,1.035)" font-size="52" text-anchor="middle">−0.015</text>
<text transform="translate(719.3,1493.3) scale(1,1.035)" font-size="52" text-anchor="middle">−0.01</text>
<text transform="translate(946.5,1493.3) scale(1,1.035)" font-size="52" text-anchor="middle">−0.005</text>
<text transform="translate(1173.6,1493.3) scale(1,1.035)" font-size="52" text-anchor="middle">0</text>
<text transform="translate(1400.7,1493.3) scale(1,1.035)" font-size="52" text-anchor="middle">0.005</text>
<text transform="translate(1627.9,1493.3) scale(1,1.035)" font-size="52" text-anchor="middle">0.01</text>
<text transform="translate(1855.0,1493.3) scale(1,1.035)" font-size="52" text-anchor="middle">0.015</text>
<text transform="translate(2082.1,1493.3) scale(1,1.035)" font-size="52" text-anchor="middle">0.02</text>
<text transform="translate(291.2,1393.3) scale(1,1.035)" font-size="52" text-anchor="end">60</text>
<text transform="translate(291.2,1339.0) scale(1,1.035)" font-size="52" text-anchor="end">70</text>
<text transform="translate(273.1,1217.6) scale(1,1.035)" font-size="52" text-anchor="end"><tspan>10</tspan></text>
<use href="#e2" transform="translate(272.25,1194.73)"/>
<text transform="translate(273.1,973.3) scale(1,1.035)" font-size="52" text-anchor="end">2<tspan dx="-6.2" dy="7.3" font-size="62">×</tspan><tspan dx="-4.6" dy="-7.3">10</tspan></text>
<use href="#e2" transform="translate(272.25,950.44)"/>
<text transform="translate(273.1,830.4) scale(1,1.035)" font-size="52" text-anchor="end">3<tspan dx="-6.2" dy="7.3" font-size="62">×</tspan><tspan dx="-4.6" dy="-7.3">10</tspan></text>
<use href="#e2" transform="translate(272.25,807.55)"/>
<text transform="translate(273.1,729.0) scale(1,1.035)" font-size="52" text-anchor="end">4<tspan dx="-6.2" dy="7.3" font-size="62">×</tspan><tspan dx="-4.6" dy="-7.3">10</tspan></text>
<use href="#e2" transform="translate(272.25,706.16)"/>
<text transform="translate(273.1,650.4) scale(1,1.035)" font-size="52" text-anchor="end">5<tspan dx="-6.2" dy="7.3" font-size="62">×</tspan><tspan dx="-4.6" dy="-7.3">10</tspan></text>
<use href="#e2" transform="translate(272.25,627.52)"/>
<text transform="translate(273.1,586.1) scale(1,1.035)" font-size="52" text-anchor="end">6<tspan dx="-6.2" dy="7.3" font-size="62">×</tspan><tspan dx="-4.6" dy="-7.3">10</tspan></text>
<use href="#e2" transform="translate(272.25,563.26)"/>
<text transform="translate(273.1,406.1) scale(1,1.035)" font-size="52" text-anchor="end"><tspan>10</tspan></text>
<use href="#e3" transform="translate(272.25,383.23)"/>
<text transform="translate(2177.0,1542.4) scale(1,1.035)" font-size="52.2" text-anchor="end">Time delay: t(L1) - t(H1) [s]</text>
<text transform="translate(158.4,156.8) rotate(-90) scale(1,1.035)" font-size="52.1" text-anchor="end">Frequency [Hz]</text>
<text transform="translate(2463.7,159.7) rotate(-90) scale(1,1.035)" font-size="52.1" text-anchor="end">Cross-correlation <tspan class="s" font-size="58" dx="-2">ξ</tspan></text>
<text transform="translate(1297.3,80.3) scale(1,1.035)" font-size="77.6" text-anchor="middle"><tspan class="s" font-size="78">ξ</tspan><tspan dx="3.3">(</tspan><tspan class="s" font-size="78" dx="-0.7">δ</tspan> <tspan dx="0.2">t</tspan><tspan dx="-2.7">,</tspan> <tspan dx="0.6">f)</tspan><tspan dx="-1.4">,</tspan> <tspan dx="-0.7">Q</tspan> <tspan dx="-0.2">=</tspan> <tspan dx="-0.6">38.0731</tspan></text>
</svg></body></html>
